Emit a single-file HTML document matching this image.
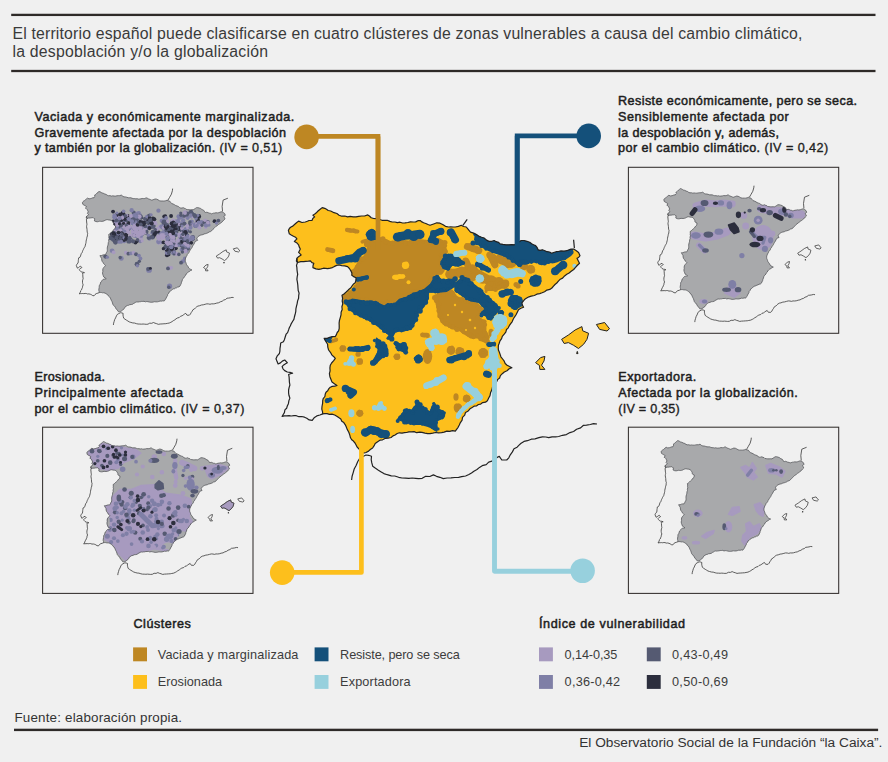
<!DOCTYPE html>
<html lang="es"><head><meta charset="utf-8"><title>Clústeres de zonas vulnerables</title>
<style>html,body{margin:0;padding:0;background:#f0f0f0;}svg{display:block}text{font-family:'Liberation Sans', Arial, sans-serif;fill:#333333}.b{font-weight:normal;font-size:12.6px;fill:#1e1e1e;stroke:#1e1e1e;stroke-width:0.5px;stroke-linejoin:round}.iv{stroke-width:0.36px}.t{font-size:15.8px;fill:#3a3a3a}.l{font-size:12.7px;fill:#3c3c3c}</style></head><body>
<svg width="888" height="762" viewBox="0 0 888 762">
<rect width="888" height="762" fill="#f0f0f0"/>
<defs>
<path id="spain" d="M288.4,230.4 L289.5,228.3 L291.0,227.0 L292.8,226.1 L294.5,224.5 L296.5,222.8 L298.6,221.1 L302.0,222.5 L305.3,222.0 L307.4,221.3 L309.0,220.5 L312.1,220.3 L312.8,218.5 L314.6,216.9 L312.9,215.2 L314.8,214.1 L316.3,212.8 L318.0,211.0 L320.2,209.2 L322.2,207.6 L324.7,208.3 L326.5,209.3 L328.2,210.5 L330.7,211.0 L334.1,212.7 L336.9,213.5 L339.1,215.2 L341.8,216.2 L344.8,216.0 L347.6,216.9 L350.2,216.4 L353.2,216.8 L356.0,216.9 L358.7,216.3 L361.6,216.0 L364.5,216.0 L367.8,214.9 L369.4,216.0 L371.2,217.7 L373.7,218.5 L376.3,218.6 L378.9,219.3 L382.0,220.3 L384.7,220.3 L387.2,220.3 L389.9,221.4 L392.2,222.0 L394.9,222.0 L397.5,222.6 L400.0,222.2 L402.6,223.0 L405.0,222.8 L407.8,222.5 L410.4,221.8 L413.4,222.0 L415.7,221.9 L417.9,220.7 L420.2,220.6 L421.9,221.9 L423.6,222.8 L425.8,223.5 L428.0,224.5 L430.0,225.3 L432.2,224.5 L434.3,223.7 L436.8,222.8 L440.0,223.2 L442.7,224.5 L445.5,226.3 L448.6,227.0 L450.7,226.9 L453.3,227.0 L455.3,227.0 L458.4,226.4 L461.3,225.3 L463.5,226.5 L466.3,227.0 L467.8,228.9 L469.0,230.4 L470.5,232.1 L473.6,233.1 L476.5,234.6 L478.6,236.1 L481.6,237.2 L484.1,238.0 L486.5,240.1 L489.1,241.4 L491.7,241.3 L494.2,240.5 L496.1,241.7 L498.6,242.4 L500.1,243.9 L502.9,244.4 L506.0,244.8 L508.8,244.8 L511.6,244.6 L514.5,244.8 L516.8,243.4 L519.0,242.0 L521.2,240.5 L524.0,240.5 L527.0,241.3 L529.7,242.2 L531.6,243.8 L533.6,244.8 L535.6,245.6 L537.2,247.7 L538.1,249.8 L540.1,250.3 L542.4,249.8 L544.9,250.7 L546.9,251.7 L549.6,252.0 L551.6,253.2 L553.6,252.5 L556.1,251.7 L558.4,251.5 L561.0,250.9 L564.0,251.2 L566.8,250.7 L569.0,249.9 L571.1,249.1 L573.6,249.0 L576.0,250.5 L578.6,252.4 L580.0,255.7 L578.6,257.5 L577.0,258.3 L578.2,260.7 L579.5,263.3 L577.2,265.5 L575.3,267.6 L573.7,269.5 L571.2,271.3 L569.1,273.0 L566.8,274.3 L564.6,275.9 L562.6,278.1 L560.3,279.2 L558.4,281.1 L556.8,283.0 L555.0,284.5 L553.3,286.3 L551.9,288.0 L549.8,289.4 L546.9,290.1 L544.6,291.8 L542.1,292.8 L539.7,293.6 L536.8,294.2 L534.4,295.5 L531.2,296.2 L529.0,296.8 L526.3,298.3 L524.5,299.6 L523.3,301.1 L521.9,302.9 L522.5,305.4 L523.6,307.2 L520.9,308.3 L518.5,309.7 L517.3,312.2 L515.9,315.0 L514.3,317.3 L513.2,319.3 L512.1,321.8 L510.7,323.7 L509.3,325.7 L508.1,328.1 L506.5,329.5 L505.8,332.2 L504.2,334.2 L502.3,336.3 L501.6,338.6 L500.0,340.9 L499.2,343.3 L498.4,345.2 L498.3,347.7 L498.4,350.0 L499.3,352.0 L500.2,354.6 L500.9,356.8 L502.6,359.0 L504.1,360.9 L505.2,363.5 L507.1,365.2 L509.6,366.6 L511.9,367.7 L509.2,368.8 L507.0,370.7 L504.3,372.0 L502.3,373.7 L500.4,375.6 L499.6,378.0 L497.6,379.6 L496.8,381.5 L495.3,383.8 L493.4,385.3 L492.5,387.2 L491.8,390.1 L490.6,392.6 L490.0,395.6 L488.7,398.0 L487.4,400.7 L485.5,402.2 L482.7,402.6 L480.7,404.1 L478.4,404.5 L476.4,406.0 L474.4,406.1 L472.2,407.4 L470.0,408.8 L467.8,411.3 L465.5,412.5 L464.7,415.1 L462.5,417.3 L462.1,420.1 L460.4,422.6 L459.3,425.0 L458.1,427.3 L456.6,429.3 L455.3,431.1 L452.6,430.6 L449.7,431.4 L446.9,431.1 L444.1,432.1 L441.6,432.7 L438.4,432.8 L435.7,432.5 L432.8,433.2 L430.0,433.6 L427.7,433.6 L424.9,433.1 L422.0,432.4 L419.8,432.1 L416.7,432.7 L414.1,431.6 L411.4,431.9 L408.9,431.9 L406.6,432.5 L404.4,432.6 L402.0,433.1 L399.5,432.8 L397.2,433.5 L395.1,435.0 L393.0,435.9 L391.1,437.5 L388.2,438.2 L385.0,438.5 L382.6,439.8 L380.3,440.1 L378.0,441.5 L375.2,443.5 L374.0,445.9 L372.6,448.0 L370.3,449.5 L368.6,451.1 L366.0,452.5 L364.3,453.0 L362.0,453.0 L360.7,451.2 L359.0,449.0 L357.2,447.2 L356.1,445.0 L355.0,443.0 L353.4,441.1 L351.7,439.8 L350.5,437.8 L349.8,435.1 L348.8,432.2 L347.2,429.4 L346.2,426.8 L345.3,424.8 L343.8,422.6 L341.8,421.2 L340.8,419.0 L338.7,417.6 L336.8,416.2 L334.7,415.0 L332.0,414.2 L329.4,414.3 L327.1,413.7 L324.9,413.6 L322.7,413.9 L322.5,411.6 L321.8,409.1 L322.0,406.5 L322.6,403.4 L322.7,400.7 L323.2,398.7 L324.9,396.5 L325.2,394.3 L326.0,392.2 L327.7,390.8 L328.7,388.9 L330.3,387.2 L332.2,386.4 L334.8,386.2 L337.0,385.5 L334.7,383.9 L332.0,382.1 L331.0,379.5 L329.9,376.7 L329.4,373.6 L330.1,370.9 L329.9,367.9 L330.3,365.2 L331.6,363.0 L333.7,360.7 L335.3,358.4 L333.8,356.7 L332.0,355.1 L330.4,352.3 L328.6,350.0 L327.8,347.2 L327.6,344.3 L326.5,342.5 L325.2,340.4 L324.2,338.4 L327.2,338.4 L329.7,337.3 L332.1,336.7 L335.2,336.7 L336.4,334.6 L337.2,332.5 L338.6,330.8 L339.2,328.4 L339.2,325.6 L339.1,323.1 L339.4,320.7 L340.2,317.9 L341.0,314.9 L341.1,312.2 L342.2,309.5 L341.9,306.7 L342.8,303.8 L342.2,301.0 L342.6,298.4 L342.0,295.3 L344.3,293.7 L346.2,292.0 L348.4,289.8 L350.9,287.8 L352.1,285.8 L353.6,283.9 L355.2,282.8 L355.9,280.2 L356.0,277.7 L353.6,276.6 L351.8,275.2 L351.9,273.1 L350.9,270.9 L349.4,268.5 L347.6,266.7 L344.7,265.9 L341.7,265.6 L339.1,265.0 L336.7,265.4 L334.5,266.4 L332.4,267.6 L330.3,268.2 L327.7,268.6 L325.6,268.4 L323.5,268.2 L321.2,268.9 L318.9,269.3 L315.9,268.9 L312.9,267.6 L313.1,265.3 L313.8,263.3 L311.9,262.6 L310.4,260.8 L308.4,261.1 L305.8,261.3 L303.6,261.7 L300.8,261.7 L297.7,262.5 L297.1,260.4 L296.9,258.3 L298.9,256.4 L301.1,254.9 L298.6,252.4 L300.3,249.0 L299.2,246.9 L298.6,244.8 L296.6,242.7 L294.4,241.4 L296.9,238.9 L295.5,237.2 L293.5,236.3 L291.2,235.0 L289.3,233.8Z"/>
<g id="isl"><path d="M561.6,339.3 L568.4,335.0 L575.1,330.0 L581.9,326.6 L582.7,330.8 L588.6,333.3 L587.0,339.3 L583.6,344.3 L578.5,348.5 L573.4,345.2 L568.4,342.6 L564.2,343.5Z"/><path d="M596.4,324.5 L604.6,322.5 L609.5,328.7 L607.0,331.0 L599.6,329.4Z"/><path d="M535.6,362.7 L540.6,357.6 L544.9,356.4 L544.0,361.0 L541.5,365.2 L544.9,369.4 L539.8,369.4 L539.5,365.5Z"/><path d="M576.6,353.6 L577.3,351.4 L578.0,353.6Z"/></g>
<g id="others" fill="none"><path d="M296.9,258.3 L296.4,260.9 L297.4,262.7 L296.5,265.4 L296.9,267.6 L297.0,269.8 L297.3,272.1 L297.7,274.3 L297.2,276.7 L296.9,279.4 L297.4,282.1 L297.8,285.0 L298.0,288.0 L298.2,290.5 L299.1,293.1 L298.7,295.6 L298.6,298.2 L297.6,300.9 L297.1,303.8 L296.5,306.2 L295.9,308.9 L295.8,311.3 L295.2,314.0 L294.4,317.0 L293.9,319.4 L292.7,321.3 L291.3,323.6 L290.4,325.8 L289.3,327.8 L288.6,329.9 L287.6,332.6 L286.1,334.2 L285.2,337.0 L284.5,339.4 L283.4,341.7 L280.7,343.0 L280.4,345.9 L280.0,348.4 L279.9,351.1 L279.4,353.5 L277.3,355.8 L276.0,358.7 L277.1,361.6 L278.1,364.0 L280.4,362.9 L282.3,361.1 L284.7,360.0 L287.3,362.7 L285.6,363.7 L283.7,364.9 L282.1,366.6 L283.0,368.8 L284.7,370.6 L287.3,372.0 L290.0,372.3 L292.6,373.2 L290.5,373.7 L288.6,374.5 L289.1,376.9 L289.3,380.0 L289.4,382.2 L289.9,385.0 L289.1,387.7 L288.6,390.0 L288.6,392.9 L288.9,395.3 L289.9,398.1 L288.9,400.6 L288.4,403.7 L287.3,406.0 L286.6,408.3 L284.9,409.9 L284.4,412.6 L283.2,414.5 L282.1,416.5 L284.3,415.9 L286.7,415.9 L289.1,415.7 L291.2,416.0 L294.0,415.6 L296.3,415.7 L298.9,416.7 L301.7,416.5 L304.5,417.2 L306.8,418.2 L309.2,419.9 L312.2,420.4 L314.1,417.8 L316.8,415.9 L319.9,415.0 L322.7,413.9"/><path d="M351.6,480.0 L352.1,476.2 L353.2,472.6 L354.2,469.0 L356.1,465.5 L357.9,461.2 L359.6,458.5 L362.0,457.0 L366.0,455.0 L368.6,455.3 L371.5,456.3 L371.2,459.7 L371.8,462.9 L372.7,466.2 L375.2,468.1 L378.4,470.2 L381.2,471.9 L383.9,473.6 L387.2,474.7 L391.3,475.8 L394.7,476.0 L398.7,477.3 L402.0,478.0 L405.6,478.1 L408.9,478.3 L412.2,478.0 L415.6,478.3 L418.6,478.6 L422.2,478.3 L425.7,476.3 L429.8,476.5 L433.4,474.9 L436.5,476.3 L439.9,477.3 L443.3,478.6 L447.1,478.0 L451.0,477.8 L454.8,477.5 L458.6,477.3 L461.7,476.7 L465.6,476.0 L468.9,474.5 L471.5,473.0 L473.9,471.2 L477.0,469.5 L479.5,467.4 L482.2,465.7 L486.2,464.6 L488.7,462.1 L491.9,461.2 L494.1,459.6 L496.8,457.6 L499.3,456.3 L501.8,460.0 L506.7,460.0 L508.8,457.8 L510.3,454.8 L512.4,451.9 L514.0,448.8 L517.1,447.2 L519.3,444.9 L521.1,443.2 L524.0,441.4 L527.4,440.7 L531.3,439.2 L535.0,438.8 L538.9,437.7 L542.4,436.8 L545.8,437.0 L548.7,437.7 L552.1,436.8 L555.5,436.9 L558.7,436.5 L562.5,435.3 L566.4,434.6 L570.0,432.6 L573.6,431.5 L576.6,429.2 L580.6,427.9 L583.5,425.3 L586.5,425.1 L590.3,424.5 L593.6,423.6 L597.0,424.0"/><path d="M467.2,219.4 L462.9,225.3"/><path d="M573.6,239.7 L574.4,248.1"/></g>
<g id="others_s" fill="none"><path d="M296.9,258.3 L296.4,260.9 L297.4,262.7 L296.5,265.4 L296.9,267.6 L297.0,269.8 L297.3,272.1 L297.7,274.3 L297.2,276.7 L296.9,279.4 L297.4,282.1 L297.8,285.0 L298.0,288.0 L298.2,290.5 L299.1,293.1 L298.7,295.6 L298.6,298.2 L297.6,300.9 L297.1,303.8 L296.5,306.2 L295.9,308.9 L295.8,311.3 L295.2,314.0 L294.4,317.0 L293.9,319.4 L292.7,321.3 L291.3,323.6 L290.4,325.8 L289.3,327.8 L288.6,329.9 L287.6,332.6 L286.1,334.2 L285.2,337.0 L284.5,339.4 L283.4,341.7 L280.7,343.0 L280.4,345.9 L280.0,348.4 L279.9,351.1 L279.4,353.5 L277.3,355.8 L276.0,358.7 L277.1,361.6 L278.1,364.0 L280.4,362.9 L282.3,361.1 L284.7,360.0 L287.3,362.7 L285.6,363.7 L283.7,364.9 L282.1,366.6 L283.0,368.8 L284.7,370.6 L287.3,372.0 L290.0,372.3 L292.6,373.2 L290.5,373.7 L288.6,374.5 L289.1,376.9 L289.3,380.0 L289.4,382.2 L289.9,385.0 L289.1,387.7 L288.6,390.0 L288.6,392.9 L288.9,395.3 L289.9,398.1 L288.9,400.6 L288.4,403.7 L287.3,406.0 L286.6,408.3 L284.9,409.9 L284.4,412.6 L283.2,414.5 L282.1,416.5 L284.3,415.9 L286.7,415.9 L289.1,415.7 L291.2,416.0 L294.0,415.6 L296.3,415.7 L298.9,416.7 L301.7,416.5 L304.5,417.2 L306.8,418.2 L309.2,419.9 L312.2,420.4 L314.1,417.8 L316.8,415.9 L319.9,415.0 L322.7,413.9"/><path d="M351.6,480.0 L352.1,476.2 L353.2,472.6 L354.2,469.0 L356.1,465.5 L357.9,461.2 L359.6,458.5 L362.0,457.0 L366.0,455.0 L368.6,455.3 L371.5,456.3 L371.2,459.7 L371.8,462.9 L372.7,466.2 L375.2,468.1 L378.4,470.2 L381.2,471.9 L383.9,473.6 L387.2,474.7 L391.3,475.8 L394.7,476.0 L398.7,477.3 L402.0,478.0 L405.6,478.1 L408.9,478.3 L412.2,478.0 L415.6,478.3 L418.6,478.6 L422.2,478.3 L425.7,476.3 L429.8,476.5 L433.4,474.9 L436.5,476.3 L439.9,477.3 L443.3,478.6 L447.1,478.0 L451.0,477.8 L454.8,477.5 L458.6,477.3 L461.7,476.7 L465.6,476.0 L468.9,474.5 L471.5,473.0 L473.9,471.2 L477.0,469.5 L479.5,467.4 L482.2,465.7 L486.2,464.6 L488.7,462.1 L491.9,461.2 L494.1,459.6 L496.8,457.6 L499.3,456.3 L501.8,460.0 L506.7,460.0 L508.8,457.8 L510.3,454.8 L512.4,451.9 L514.0,448.8 L517.1,447.2 L519.3,444.9 L521.1,443.2 L524.0,441.4 L527.4,440.7 L531.3,439.2 L535.0,438.8 L538.9,437.7 L542.4,436.8 L545.8,437.0 L548.7,437.7 L552.1,436.8 L555.5,436.9 L558.7,436.5 L562.5,435.3 L566.4,434.6 L570.0,432.6 L573.6,431.5 L576.6,429.2 L580.6,427.9 L583.5,425.3 L586.5,425.1 L590.3,424.5 L593.6,423.6 L597.0,424.0"/><path d="M462.9,225.3 L466.0,220.0 L470.0,213.0 L472.0,206.0 L472.5,201.6"/><path d="M574.4,248.1 L573.5,238.0 L575.5,225.1 L585.3,221.2"/></g>
<clipPath id="cm"><use href="#spain"/></clipPath>
<clipPath id="c1"><use href="#spain" transform="translate(-58.9 89.8) scale(0.49)"/></clipPath>
<clipPath id="c2"><use href="#spain" transform="translate(522.5 86.9) scale(0.49)"/></clipPath>
<clipPath id="c3"><use href="#spain" transform="translate(-54.5 339.9) scale(0.49)"/></clipPath>
<clipPath id="c4"><use href="#spain" transform="translate(519.8 338.9) scale(0.49)"/></clipPath>
</defs>
<rect x="11.2" y="13.75" width="864.3" height="2.3" fill="#2e2a28"/>
<rect x="11.2" y="69.85" width="864.3" height="2.3" fill="#2e2a28"/>
<rect x="14" y="728.7" width="864.1" height="2.4" fill="#2e2a28"/>
<text class="t" x="12.4" y="38.5" textLength="790" lengthAdjust="spacing">El territorio español puede clasificarse en cuatro clústeres de zonas vulnerables a causa del cambio climático,</text>
<text class="t" x="12.4" y="56.9" textLength="255.6" lengthAdjust="spacing">la despoblación y/o la globalización</text>
<text class="b" x="34.4" y="121.2" textLength="259.9" lengthAdjust="spacing">Vaciada y económicamente marginalizada.</text>
<text class="b" x="34.4" y="136.8" textLength="251.7" lengthAdjust="spacing">Gravemente afectada por la despoblación</text>
<text class="b" x="34.4" y="152.4" textLength="247.9" lengthAdjust="spacing">y también por la globalización.<tspan class="iv"> (IV = 0,51)</tspan></text>
<text class="b" x="618" y="105.4" textLength="239.1" lengthAdjust="spacing">Resiste económicamente, pero se seca.</text>
<text class="b" x="618" y="121.0" textLength="170.8" lengthAdjust="spacing">Sensiblemente afectada por</text>
<text class="b" x="618" y="136.6" textLength="160.9" lengthAdjust="spacing">la despoblación y, además,</text>
<text class="b" x="618" y="152.2" textLength="210.2" lengthAdjust="spacing">por el cambio climático.<tspan class="iv"> (IV = 0,42)</tspan></text>
<text class="b" x="34.4" y="381.4" textLength="70.6" lengthAdjust="spacing">Erosionada.</text>
<text class="b" x="34.4" y="397.0" textLength="148.6" lengthAdjust="spacing">Principalmente afectada</text>
<text class="b" x="34.4" y="412.6" textLength="210.0" lengthAdjust="spacing">por el cambio climático.<tspan class="iv"> (IV = 0,37)</tspan></text>
<text class="b" x="618.3" y="381.4" textLength="77.9" lengthAdjust="spacing">Exportadora.</text>
<text class="b" x="618.3" y="397.0" textLength="179.4" lengthAdjust="spacing">Afectada por la globalización.</text>
<text class="b" x="618.3" y="412.6" textLength="61.5" lengthAdjust="spacing"><tspan class="iv">(IV = 0,35)</tspan></text>
<g fill="none" stroke-linejoin="miter">
<path d="M306,136.4 H378 V255" stroke="#be8723" stroke-width="4.7"/>
<path d="M589,135.8 H517.2 V262" stroke="#14507a" stroke-width="4.8"/>
</g>
<circle cx="306.6" cy="136.9" r="12.3" fill="#be8723"/>
<circle cx="588.7" cy="135.9" r="12.3" fill="#14507a"/>
<g id="main">
<use href="#spain" fill="#fdbf1c"/>
<use href="#isl" fill="#fdbf1c" stroke="#222" stroke-width="1"/>
<g clip-path="url(#cm)">
<path d="M362.8,240.5 L370.0,238.5 L381.4,238.0 L391.5,242.2 L400.0,240.0 L408.4,241.4 L417.0,239.5 L425.3,240.5 L433.0,242.0 L440.0,239.5 L445.0,243.0 L446.0,252.0 L442.0,258.0 L441.0,263.0 L445.0,268.0 L441.0,274.0 L436.6,274.2 L434.9,276.8 L430.6,284.4 L424.7,289.4 L414.6,293.6 L407.8,297.0 L399.4,299.6 L394.3,304.6 L387.6,303.8 L384.2,306.3 L375.7,302.1 L363.9,301.3 L353.8,299.6 L345.3,301.3 L341.0,303.0 L340.0,296.0 L347.0,294.0 L352.0,290.0 L357.0,284.0 L358.0,278.0 L352.0,275.5 L352.0,272.0 L355.0,268.0 L358.0,263.0 L364.5,255.7 L367.8,247.3Z" fill="#be8723" stroke="#be8723" stroke-width="1.6" stroke-linejoin="round"/><circle cx="362.4" cy="241.8" r="1.9" fill="#be8723"/><circle cx="365.8" cy="241.3" r="1.5" fill="#be8723"/><circle cx="366.7" cy="241.2" r="1.8" fill="#be8723"/><circle cx="369.4" cy="241.0" r="2.1" fill="#be8723"/><circle cx="373.8" cy="239.5" r="2.3" fill="#be8723"/><circle cx="374.8" cy="239.8" r="2.6" fill="#be8723"/><circle cx="378.7" cy="240.0" r="2.3" fill="#be8723"/><circle cx="379.8" cy="239.8" r="2.2" fill="#be8723"/><circle cx="382.9" cy="238.9" r="2.6" fill="#be8723"/><circle cx="385.9" cy="241.8" r="2.6" fill="#be8723"/><circle cx="389.1" cy="243.4" r="2.0" fill="#be8723"/><circle cx="392.6" cy="243.2" r="2.7" fill="#be8723"/><circle cx="395.6" cy="241.6" r="1.6" fill="#be8723"/><circle cx="396.7" cy="243.1" r="2.0" fill="#be8723"/><circle cx="400.1" cy="240.7" r="2.1" fill="#be8723"/><circle cx="402.3" cy="241.3" r="2.2" fill="#be8723"/><circle cx="405.6" cy="243.2" r="2.4" fill="#be8723"/><circle cx="409.8" cy="243.5" r="2.8" fill="#be8723"/><circle cx="412.0" cy="241.1" r="2.6" fill="#be8723"/><circle cx="415.6" cy="242.4" r="2.2" fill="#be8723"/><circle cx="417.4" cy="239.9" r="2.6" fill="#be8723"/><circle cx="419.8" cy="240.5" r="1.5" fill="#be8723"/><circle cx="423.3" cy="242.6" r="1.5" fill="#be8723"/><circle cx="425.9" cy="241.4" r="1.6" fill="#be8723"/><circle cx="427.1" cy="242.9" r="2.6" fill="#be8723"/><circle cx="429.0" cy="243.0" r="1.5" fill="#be8723"/><circle cx="434.0" cy="242.7" r="2.6" fill="#be8723"/><circle cx="437.0" cy="242.3" r="2.8" fill="#be8723"/><circle cx="437.6" cy="240.4" r="2.2" fill="#be8723"/><circle cx="438.1" cy="239.7" r="2.0" fill="#be8723"/><circle cx="442.1" cy="241.3" r="1.5" fill="#be8723"/><circle cx="444.8" cy="242.6" r="2.7" fill="#be8723"/><circle cx="445.2" cy="245.8" r="2.0" fill="#be8723"/><circle cx="444.5" cy="249.5" r="2.2" fill="#be8723"/><circle cx="445.2" cy="251.6" r="2.7" fill="#be8723"/><circle cx="443.7" cy="253.2" r="2.4" fill="#be8723"/><circle cx="441.7" cy="254.8" r="2.8" fill="#be8723"/><circle cx="440.9" cy="257.9" r="1.4" fill="#be8723"/><circle cx="440.1" cy="260.5" r="1.4" fill="#be8723"/><circle cx="440.4" cy="264.1" r="1.5" fill="#be8723"/><circle cx="442.4" cy="266.2" r="2.4" fill="#be8723"/><circle cx="443.6" cy="267.9" r="2.4" fill="#be8723"/><circle cx="441.4" cy="268.2" r="2.3" fill="#be8723"/><circle cx="442.5" cy="270.7" r="2.0" fill="#be8723"/><circle cx="441.2" cy="272.3" r="1.9" fill="#be8723"/><circle cx="435.1" cy="273.2" r="2.2" fill="#be8723"/><circle cx="433.3" cy="275.9" r="2.5" fill="#be8723"/><circle cx="431.2" cy="278.9" r="2.4" fill="#be8723"/><circle cx="430.5" cy="280.6" r="2.5" fill="#be8723"/><circle cx="429.1" cy="282.7" r="2.0" fill="#be8723"/><circle cx="428.4" cy="284.1" r="1.9" fill="#be8723"/><circle cx="425.5" cy="287.7" r="2.0" fill="#be8723"/><circle cx="425.2" cy="287.4" r="1.9" fill="#be8723"/><circle cx="422.1" cy="290.3" r="2.0" fill="#be8723"/><circle cx="418.5" cy="289.4" r="2.1" fill="#be8723"/><circle cx="415.9" cy="292.2" r="2.6" fill="#be8723"/><circle cx="413.2" cy="292.0" r="2.5" fill="#be8723"/><circle cx="412.2" cy="294.5" r="1.9" fill="#be8723"/><circle cx="408.6" cy="294.3" r="2.5" fill="#be8723"/><circle cx="406.9" cy="295.5" r="2.0" fill="#be8723"/><circle cx="404.4" cy="296.5" r="2.7" fill="#be8723"/><circle cx="401.0" cy="296.3" r="2.7" fill="#be8723"/><circle cx="399.5" cy="300.0" r="2.0" fill="#be8723"/><circle cx="397.2" cy="302.4" r="1.7" fill="#be8723"/><circle cx="395.1" cy="304.3" r="2.3" fill="#be8723"/><circle cx="391.1" cy="302.5" r="1.9" fill="#be8723"/><circle cx="386.2" cy="301.7" r="2.2" fill="#be8723"/><circle cx="384.2" cy="306.0" r="1.5" fill="#be8723"/><circle cx="382.9" cy="304.3" r="2.7" fill="#be8723"/><circle cx="380.1" cy="303.5" r="2.2" fill="#be8723"/><circle cx="374.5" cy="301.5" r="1.6" fill="#be8723"/><circle cx="372.3" cy="301.1" r="2.1" fill="#be8723"/><circle cx="369.7" cy="301.6" r="2.3" fill="#be8723"/><circle cx="366.5" cy="299.7" r="2.6" fill="#be8723"/><circle cx="364.0" cy="300.9" r="1.9" fill="#be8723"/><circle cx="360.8" cy="299.8" r="2.5" fill="#be8723"/><circle cx="358.2" cy="300.0" r="2.7" fill="#be8723"/><circle cx="357.3" cy="299.7" r="1.4" fill="#be8723"/><circle cx="353.9" cy="299.4" r="1.5" fill="#be8723"/><circle cx="350.1" cy="298.4" r="2.1" fill="#be8723"/><circle cx="347.7" cy="299.5" r="2.5" fill="#be8723"/><circle cx="343.6" cy="299.0" r="1.6" fill="#be8723"/><circle cx="341.2" cy="301.7" r="2.8" fill="#be8723"/><circle cx="342.6" cy="298.3" r="2.1" fill="#be8723"/><circle cx="339.9" cy="296.7" r="1.9" fill="#be8723"/><circle cx="343.0" cy="296.7" r="1.9" fill="#be8723"/><circle cx="344.2" cy="295.4" r="1.6" fill="#be8723"/><circle cx="347.9" cy="295.5" r="1.9" fill="#be8723"/><circle cx="349.2" cy="292.1" r="1.9" fill="#be8723"/><circle cx="353.2" cy="291.5" r="1.9" fill="#be8723"/><circle cx="355.4" cy="289.1" r="2.0" fill="#be8723"/><circle cx="355.9" cy="286.8" r="2.4" fill="#be8723"/><circle cx="358.0" cy="284.7" r="2.0" fill="#be8723"/><circle cx="358.0" cy="281.3" r="2.4" fill="#be8723"/><circle cx="357.3" cy="276.7" r="2.0" fill="#be8723"/><circle cx="356.4" cy="276.8" r="1.9" fill="#be8723"/><circle cx="354.2" cy="276.3" r="1.8" fill="#be8723"/><circle cx="352.9" cy="271.7" r="2.5" fill="#be8723"/><circle cx="354.9" cy="271.7" r="2.5" fill="#be8723"/><circle cx="356.5" cy="269.2" r="2.2" fill="#be8723"/><circle cx="356.5" cy="266.3" r="1.4" fill="#be8723"/><circle cx="358.0" cy="264.5" r="1.5" fill="#be8723"/><circle cx="359.5" cy="260.9" r="2.6" fill="#be8723"/><circle cx="361.3" cy="258.9" r="2.6" fill="#be8723"/><circle cx="362.8" cy="259.2" r="2.3" fill="#be8723"/><circle cx="366.5" cy="257.3" r="2.2" fill="#be8723"/><circle cx="367.5" cy="252.1" r="2.5" fill="#be8723"/><circle cx="367.8" cy="251.1" r="1.5" fill="#be8723"/><circle cx="369.4" cy="247.7" r="1.5" fill="#be8723"/><circle cx="366.6" cy="244.5" r="2.6" fill="#be8723"/><circle cx="364.8" cy="241.2" r="1.7" fill="#be8723"/>
<path d="M433.2,296.2 L441.6,293.6 L451.8,290.3 L456.9,297.0 L467.0,300.4 L477.2,303.8 L483.9,310.5 L478.9,317.3 L485.6,322.4 L485.6,330.8 L489.0,337.6 L485.6,342.6 L477.2,337.6 L470.4,337.6 L460.3,330.8 L450.1,327.4 L441.6,322.4 L438.2,313.9 L436.6,303.8Z" fill="#be8723" stroke="#be8723" stroke-width="1.6" stroke-linejoin="round"/><circle cx="433.9" cy="298.0" r="2.0" fill="#be8723"/><circle cx="436.0" cy="296.2" r="1.9" fill="#be8723"/><circle cx="438.9" cy="294.5" r="2.1" fill="#be8723"/><circle cx="443.2" cy="294.5" r="2.4" fill="#be8723"/><circle cx="443.6" cy="294.4" r="2.5" fill="#be8723"/><circle cx="447.5" cy="293.1" r="2.1" fill="#be8723"/><circle cx="450.0" cy="293.3" r="1.6" fill="#be8723"/><circle cx="449.8" cy="291.7" r="2.7" fill="#be8723"/><circle cx="452.6" cy="293.1" r="2.4" fill="#be8723"/><circle cx="453.4" cy="294.9" r="1.7" fill="#be8723"/><circle cx="456.7" cy="297.7" r="1.7" fill="#be8723"/><circle cx="459.5" cy="300.2" r="1.8" fill="#be8723"/><circle cx="462.1" cy="299.6" r="2.6" fill="#be8723"/><circle cx="464.3" cy="300.1" r="1.7" fill="#be8723"/><circle cx="465.4" cy="301.5" r="1.9" fill="#be8723"/><circle cx="468.3" cy="302.0" r="1.9" fill="#be8723"/><circle cx="472.4" cy="302.3" r="2.8" fill="#be8723"/><circle cx="474.2" cy="304.3" r="2.1" fill="#be8723"/><circle cx="477.2" cy="305.5" r="2.2" fill="#be8723"/><circle cx="478.5" cy="307.5" r="2.6" fill="#be8723"/><circle cx="480.6" cy="309.7" r="2.7" fill="#be8723"/><circle cx="482.8" cy="309.1" r="1.7" fill="#be8723"/><circle cx="481.8" cy="312.5" r="2.7" fill="#be8723"/><circle cx="480.5" cy="313.7" r="1.7" fill="#be8723"/><circle cx="477.5" cy="317.4" r="2.4" fill="#be8723"/><circle cx="481.3" cy="321.0" r="1.8" fill="#be8723"/><circle cx="483.6" cy="321.2" r="2.0" fill="#be8723"/><circle cx="485.0" cy="321.3" r="1.5" fill="#be8723"/><circle cx="485.3" cy="324.7" r="1.9" fill="#be8723"/><circle cx="484.6" cy="328.5" r="1.4" fill="#be8723"/><circle cx="484.1" cy="331.2" r="2.1" fill="#be8723"/><circle cx="484.9" cy="333.8" r="2.7" fill="#be8723"/><circle cx="486.5" cy="336.0" r="1.6" fill="#be8723"/><circle cx="487.4" cy="337.4" r="1.6" fill="#be8723"/><circle cx="487.3" cy="340.5" r="1.5" fill="#be8723"/><circle cx="487.4" cy="341.2" r="2.5" fill="#be8723"/><circle cx="484.8" cy="339.8" r="2.3" fill="#be8723"/><circle cx="482.4" cy="339.9" r="1.8" fill="#be8723"/><circle cx="480.6" cy="339.0" r="2.3" fill="#be8723"/><circle cx="477.3" cy="335.4" r="2.1" fill="#be8723"/><circle cx="473.4" cy="337.0" r="2.3" fill="#be8723"/><circle cx="471.2" cy="335.8" r="2.3" fill="#be8723"/><circle cx="469.4" cy="334.4" r="2.6" fill="#be8723"/><circle cx="467.4" cy="332.9" r="2.7" fill="#be8723"/><circle cx="464.1" cy="332.1" r="2.4" fill="#be8723"/><circle cx="463.2" cy="331.3" r="2.3" fill="#be8723"/><circle cx="460.6" cy="329.2" r="1.6" fill="#be8723"/><circle cx="457.0" cy="329.4" r="2.5" fill="#be8723"/><circle cx="455.7" cy="328.6" r="1.9" fill="#be8723"/><circle cx="452.4" cy="326.8" r="2.6" fill="#be8723"/><circle cx="449.5" cy="326.4" r="1.7" fill="#be8723"/><circle cx="449.3" cy="324.7" r="1.9" fill="#be8723"/><circle cx="446.2" cy="324.0" r="2.5" fill="#be8723"/><circle cx="444.0" cy="323.5" r="1.6" fill="#be8723"/><circle cx="442.1" cy="320.9" r="1.6" fill="#be8723"/><circle cx="442.3" cy="319.7" r="1.7" fill="#be8723"/><circle cx="439.6" cy="316.1" r="2.4" fill="#be8723"/><circle cx="440.2" cy="314.4" r="2.2" fill="#be8723"/><circle cx="438.1" cy="310.9" r="1.7" fill="#be8723"/><circle cx="438.7" cy="308.8" r="1.7" fill="#be8723"/><circle cx="437.5" cy="306.9" r="1.4" fill="#be8723"/><circle cx="438.5" cy="304.3" r="2.7" fill="#be8723"/><circle cx="436.3" cy="300.9" r="2.2" fill="#be8723"/><circle cx="435.8" cy="299.5" r="2.4" fill="#be8723"/>
<path d="M467.2,246.5 L479.0,250.7" fill="none" stroke="#be8723" stroke-width="6.7" stroke-linecap="round" stroke-linejoin="round"/><circle cx="468.0" cy="246.5" r="3.0" fill="#be8723"/><circle cx="470.6" cy="246.5" r="3.4" fill="#be8723"/><circle cx="473.4" cy="248.6" r="3.7" fill="#be8723"/><circle cx="476.0" cy="249.0" r="3.3" fill="#be8723"/><circle cx="478.0" cy="250.7" r="3.3" fill="#be8723"/>
<path d="M490.0,254.9 L495.0,265.0" fill="none" stroke="#be8723" stroke-width="6.7" stroke-linecap="round" stroke-linejoin="round"/><circle cx="489.9" cy="255.0" r="3.5" fill="#be8723"/><circle cx="492.5" cy="257.5" r="4.0" fill="#be8723"/><circle cx="493.6" cy="260.7" r="3.7" fill="#be8723"/><circle cx="494.4" cy="264.1" r="3.1" fill="#be8723"/>
<path d="M499.3,259.1 L511.0,263.3" fill="none" stroke="#be8723" stroke-width="9.0" stroke-linecap="round" stroke-linejoin="round"/><circle cx="500.5" cy="258.6" r="4.4" fill="#be8723"/><circle cx="503.8" cy="259.5" r="5.1" fill="#be8723"/><circle cx="507.4" cy="263.1" r="5.1" fill="#be8723"/><circle cx="511.7" cy="262.9" r="4.8" fill="#be8723"/>
<circle cx="523.8" cy="265.9" r="4.2" fill="#be8723"/><circle cx="526.6" cy="266.2" r="2.0" fill="#be8723"/><circle cx="525.7" cy="268.0" r="1.6" fill="#be8723"/><circle cx="524.0" cy="268.7" r="1.6" fill="#be8723"/><circle cx="522.8" cy="268.6" r="1.3" fill="#be8723"/><circle cx="521.3" cy="267.3" r="1.4" fill="#be8723"/><circle cx="521.0" cy="265.3" r="1.6" fill="#be8723"/><circle cx="522.6" cy="263.3" r="1.7" fill="#be8723"/><circle cx="524.2" cy="263.1" r="1.8" fill="#be8723"/><circle cx="525.8" cy="263.9" r="1.6" fill="#be8723"/>
<circle cx="530.8" cy="269.3" r="4.2" fill="#be8723"/><circle cx="533.6" cy="269.6" r="1.6" fill="#be8723"/><circle cx="533.2" cy="270.8" r="1.9" fill="#be8723"/><circle cx="531.0" cy="272.1" r="1.5" fill="#be8723"/><circle cx="529.5" cy="271.8" r="1.7" fill="#be8723"/><circle cx="528.1" cy="270.2" r="1.4" fill="#be8723"/><circle cx="528.0" cy="268.9" r="1.4" fill="#be8723"/><circle cx="529.7" cy="266.7" r="1.4" fill="#be8723"/><circle cx="531.3" cy="266.5" r="1.4" fill="#be8723"/><circle cx="532.8" cy="267.2" r="1.4" fill="#be8723"/>
<path d="M466.3,261.7 L468.9,267.6 L463.8,272.6" fill="none" stroke="#be8723" stroke-width="6.7" stroke-linecap="round" stroke-linejoin="round"/><circle cx="465.6" cy="260.7" r="3.1" fill="#be8723"/><circle cx="466.9" cy="264.6" r="2.7" fill="#be8723"/><circle cx="467.9" cy="267.5" r="2.6" fill="#be8723"/><circle cx="466.8" cy="269.1" r="3.1" fill="#be8723"/><circle cx="463.6" cy="271.6" r="3.1" fill="#be8723"/>
<circle cx="452" cy="274.3" r="5.2" fill="#be8723"/><circle cx="455.5" cy="275.0" r="1.8" fill="#be8723"/><circle cx="455.3" cy="275.7" r="2.0" fill="#be8723"/><circle cx="453.9" cy="277.3" r="2.2" fill="#be8723"/><circle cx="451.7" cy="277.9" r="1.7" fill="#be8723"/><circle cx="450.2" cy="277.4" r="2.3" fill="#be8723"/><circle cx="448.7" cy="275.6" r="2.3" fill="#be8723"/><circle cx="448.6" cy="273.3" r="2.5" fill="#be8723"/><circle cx="449.5" cy="271.8" r="1.8" fill="#be8723"/><circle cx="451.2" cy="270.8" r="2.3" fill="#be8723"/><circle cx="453.6" cy="271.1" r="1.9" fill="#be8723"/><circle cx="454.7" cy="271.9" r="2.2" fill="#be8723"/>
<path d="M472.2,270.9 L487.4,279.4 L497.6,282.8 L504.3,284.5" fill="none" stroke="#be8723" stroke-width="9.0" stroke-linecap="round" stroke-linejoin="round"/><circle cx="472.5" cy="269.5" r="5.3" fill="#be8723"/><circle cx="474.8" cy="272.1" r="3.4" fill="#be8723"/><circle cx="478.5" cy="275.6" r="3.4" fill="#be8723"/><circle cx="482.7" cy="278.6" r="5.2" fill="#be8723"/><circle cx="488.3" cy="280.6" r="4.3" fill="#be8723"/><circle cx="491.2" cy="280.5" r="5.3" fill="#be8723"/><circle cx="498.9" cy="281.6" r="4.6" fill="#be8723"/><circle cx="505.3" cy="283.4" r="4.0" fill="#be8723"/>
<circle cx="516.1" cy="284.5" r="2.6" fill="#be8723"/>
<path d="M450.0,274.0 L462.0,272.0 L472.0,277.0" fill="none" stroke="#be8723" stroke-width="9.0" stroke-linecap="round" stroke-linejoin="round"/><circle cx="449.5" cy="274.5" r="4.1" fill="#be8723"/><circle cx="453.1" cy="274.0" r="5.2" fill="#be8723"/><circle cx="459.0" cy="272.8" r="4.8" fill="#be8723"/><circle cx="461.6" cy="271.8" r="5.2" fill="#be8723"/><circle cx="467.8" cy="274.4" r="3.8" fill="#be8723"/><circle cx="471.1" cy="277.6" r="3.9" fill="#be8723"/>
<path d="M487.3,283.5 L497.4,281.8 L507.6,285.2 L495.7,290.3 L485.6,290.3Z" fill="#be8723" stroke="#be8723" stroke-width="1.6" stroke-linejoin="round"/><circle cx="487.8" cy="285.2" r="1.9" fill="#be8723"/><circle cx="490.0" cy="283.4" r="2.4" fill="#be8723"/><circle cx="491.3" cy="283.7" r="2.5" fill="#be8723"/><circle cx="495.5" cy="282.4" r="1.7" fill="#be8723"/><circle cx="497.9" cy="283.3" r="2.6" fill="#be8723"/><circle cx="500.5" cy="283.7" r="2.7" fill="#be8723"/><circle cx="502.7" cy="284.2" r="1.9" fill="#be8723"/><circle cx="503.6" cy="285.2" r="2.7" fill="#be8723"/><circle cx="506.1" cy="284.3" r="1.6" fill="#be8723"/><circle cx="503.7" cy="285.5" r="1.7" fill="#be8723"/><circle cx="501.2" cy="285.2" r="2.3" fill="#be8723"/><circle cx="500.2" cy="285.9" r="1.7" fill="#be8723"/><circle cx="498.8" cy="287.4" r="2.2" fill="#be8723"/><circle cx="495.5" cy="289.8" r="2.2" fill="#be8723"/><circle cx="493.9" cy="289.2" r="1.7" fill="#be8723"/><circle cx="489.8" cy="288.0" r="2.6" fill="#be8723"/><circle cx="487.1" cy="287.9" r="2.8" fill="#be8723"/><circle cx="486.0" cy="291.6" r="1.5" fill="#be8723"/><circle cx="487.5" cy="286.5" r="2.6" fill="#be8723"/>
<circle cx="518" cy="286" r="2.6" fill="#be8723"/>
<path d="M347.0,229.8 L357.5,231.5" fill="none" stroke="#be8723" stroke-width="4.0" stroke-linecap="round" stroke-linejoin="round"/><circle cx="347.2" cy="230.1" r="2.1" fill="#be8723"/><circle cx="348.9" cy="230.3" r="2.3" fill="#be8723"/><circle cx="350.7" cy="230.9" r="1.9" fill="#be8723"/><circle cx="353.7" cy="230.4" r="2.1" fill="#be8723"/><circle cx="355.4" cy="231.5" r="2.0" fill="#be8723"/><circle cx="357.3" cy="231.5" r="1.6" fill="#be8723"/>
<path d="M327.5,249.5 L333.0,250.5" fill="none" stroke="#be8723" stroke-width="4.7" stroke-linecap="round" stroke-linejoin="round"/><circle cx="327.6" cy="249.9" r="1.8" fill="#be8723"/><circle cx="330.5" cy="250.2" r="2.2" fill="#be8723"/><circle cx="332.8" cy="251.2" r="2.0" fill="#be8723"/>
<path d="M422.5,335.0 L427.0,335.0" fill="none" stroke="#be8723" stroke-width="4.5" stroke-linecap="round" stroke-linejoin="round"/><circle cx="422.4" cy="334.4" r="2.0" fill="#be8723"/><circle cx="424.3" cy="335.6" r="1.9" fill="#be8723"/><circle cx="427.5" cy="335.7" r="2.4" fill="#be8723"/>
<circle cx="342.8" cy="348.5" r="3.2" fill="#be8723"/><circle cx="344.9" cy="348.6" r="1.5" fill="#be8723"/><circle cx="343.8" cy="350.4" r="1.2" fill="#be8723"/><circle cx="341.4" cy="350.1" r="1.5" fill="#be8723"/><circle cx="340.7" cy="348.1" r="1.2" fill="#be8723"/><circle cx="341.9" cy="346.5" r="1.2" fill="#be8723"/><circle cx="344.2" cy="346.9" r="1.5" fill="#be8723"/>
<path d="M331.0,341.5 L336.0,340.0" fill="none" stroke="#be8723" stroke-width="3.9" stroke-linecap="round" stroke-linejoin="round"/><circle cx="331.5" cy="341.1" r="1.7" fill="#be8723"/><circle cx="333.8" cy="340.5" r="1.6" fill="#be8723"/><circle cx="336.2" cy="339.4" r="1.9" fill="#be8723"/>
<ellipse cx="427.5" cy="356.5" rx="4.7" ry="7.4" fill="#be8723"/>
<circle cx="451" cy="350.3" r="4.2" fill="#be8723"/><circle cx="453.8" cy="350.6" r="1.5" fill="#be8723"/><circle cx="453.2" cy="352.1" r="1.5" fill="#be8723"/><circle cx="451.2" cy="353.1" r="1.8" fill="#be8723"/><circle cx="449.8" cy="352.9" r="1.3" fill="#be8723"/><circle cx="448.4" cy="351.5" r="1.6" fill="#be8723"/><circle cx="448.2" cy="349.8" r="1.4" fill="#be8723"/><circle cx="449.8" cy="347.7" r="1.8" fill="#be8723"/><circle cx="452.0" cy="347.6" r="2.0" fill="#be8723"/><circle cx="453.4" cy="348.8" r="1.5" fill="#be8723"/>
<circle cx="460" cy="351.5" r="4.2" fill="#be8723"/><circle cx="462.8" cy="351.1" r="1.5" fill="#be8723"/><circle cx="462.2" cy="353.3" r="1.7" fill="#be8723"/><circle cx="460.4" cy="354.3" r="1.5" fill="#be8723"/><circle cx="458.2" cy="353.7" r="1.5" fill="#be8723"/><circle cx="457.3" cy="352.5" r="1.9" fill="#be8723"/><circle cx="457.5" cy="350.2" r="1.5" fill="#be8723"/><circle cx="458.3" cy="349.2" r="1.9" fill="#be8723"/><circle cx="459.9" cy="348.6" r="1.4" fill="#be8723"/><circle cx="462.2" cy="349.7" r="1.7" fill="#be8723"/>
<circle cx="483.1" cy="352.8" r="4.7" fill="#be8723"/><circle cx="486.3" cy="352.4" r="1.5" fill="#be8723"/><circle cx="485.9" cy="354.4" r="2.1" fill="#be8723"/><circle cx="484.1" cy="355.8" r="2.3" fill="#be8723"/><circle cx="481.8" cy="355.7" r="2.3" fill="#be8723"/><circle cx="480.9" cy="355.1" r="1.6" fill="#be8723"/><circle cx="479.9" cy="353.4" r="1.8" fill="#be8723"/><circle cx="480.4" cy="351.1" r="1.5" fill="#be8723"/><circle cx="482.2" cy="349.7" r="1.5" fill="#be8723"/><circle cx="483.9" cy="349.7" r="1.6" fill="#be8723"/><circle cx="485.9" cy="351.2" r="1.8" fill="#be8723"/>
<circle cx="358.1" cy="354.2" r="2.6" fill="#be8723"/>
<circle cx="359.8" cy="361.5" r="3.2" fill="#be8723"/><circle cx="361.9" cy="361.3" r="1.0" fill="#be8723"/><circle cx="360.9" cy="363.3" r="1.3" fill="#be8723"/><circle cx="358.6" cy="363.3" r="1.5" fill="#be8723"/><circle cx="357.7" cy="361.2" r="1.1" fill="#be8723"/><circle cx="358.5" cy="359.8" r="1.4" fill="#be8723"/><circle cx="361.1" cy="359.8" r="1.2" fill="#be8723"/>
<circle cx="397" cy="356.8" r="3.2" fill="#be8723"/><circle cx="399.1" cy="357.1" r="1.3" fill="#be8723"/><circle cx="398.2" cy="358.6" r="1.0" fill="#be8723"/><circle cx="396.3" cy="358.8" r="1.3" fill="#be8723"/><circle cx="394.9" cy="356.5" r="1.5" fill="#be8723"/><circle cx="395.9" cy="355.0" r="1.3" fill="#be8723"/><circle cx="398.4" cy="355.2" r="1.4" fill="#be8723"/>
<circle cx="359.8" cy="413.3" r="3.4" fill="#be8723"/><circle cx="362.1" cy="413.4" r="1.3" fill="#be8723"/><circle cx="361.2" cy="415.1" r="1.1" fill="#be8723"/><circle cx="359.6" cy="415.6" r="1.4" fill="#be8723"/><circle cx="357.6" cy="413.9" r="1.3" fill="#be8723"/><circle cx="357.7" cy="412.4" r="1.2" fill="#be8723"/><circle cx="359.3" cy="411.1" r="1.5" fill="#be8723"/><circle cx="361.2" cy="411.5" r="1.6" fill="#be8723"/>
<ellipse cx="456" cy="397" rx="2.6" ry="3.7" fill="#be8723"/>
<circle cx="466.7" cy="398.5" r="3.7" fill="#be8723"/><circle cx="469.2" cy="398.2" r="1.3" fill="#be8723"/><circle cx="468.5" cy="400.3" r="1.4" fill="#be8723"/><circle cx="466.4" cy="401.0" r="1.6" fill="#be8723"/><circle cx="464.7" cy="399.9" r="1.5" fill="#be8723"/><circle cx="464.2" cy="399.0" r="1.5" fill="#be8723"/><circle cx="465.0" cy="396.7" r="1.4" fill="#be8723"/><circle cx="466.5" cy="396.0" r="1.6" fill="#be8723"/><circle cx="468.7" cy="397.0" r="1.2" fill="#be8723"/>
<circle cx="457.9" cy="407.8" r="4.2" fill="#be8723"/><circle cx="460.7" cy="408.0" r="1.5" fill="#be8723"/><circle cx="460.1" cy="409.6" r="1.9" fill="#be8723"/><circle cx="457.9" cy="410.7" r="1.7" fill="#be8723"/><circle cx="456.8" cy="410.4" r="2.0" fill="#be8723"/><circle cx="455.4" cy="409.1" r="1.5" fill="#be8723"/><circle cx="455.4" cy="406.5" r="1.5" fill="#be8723"/><circle cx="456.3" cy="405.5" r="2.0" fill="#be8723"/><circle cx="458.9" cy="405.1" r="1.5" fill="#be8723"/><circle cx="460.0" cy="405.9" r="1.5" fill="#be8723"/>
<ellipse cx="491" cy="333" rx="2.6" ry="4.2" fill="#be8723"/>
<circle cx="440" cy="290" r="4.2" fill="#be8723"/><circle cx="442.8" cy="289.6" r="1.4" fill="#be8723"/><circle cx="441.8" cy="292.2" r="1.3" fill="#be8723"/><circle cx="440.8" cy="292.7" r="1.4" fill="#be8723"/><circle cx="439.0" cy="292.7" r="1.7" fill="#be8723"/><circle cx="437.2" cy="290.7" r="1.9" fill="#be8723"/><circle cx="437.4" cy="288.9" r="1.9" fill="#be8723"/><circle cx="438.1" cy="287.9" r="1.5" fill="#be8723"/><circle cx="441.0" cy="287.3" r="1.3" fill="#be8723"/><circle cx="442.0" cy="288.0" r="1.6" fill="#be8723"/>
<circle cx="405.5" cy="265.3" r="3.6" fill="#fdbf1c"/><circle cx="407.9" cy="265.1" r="1.4" fill="#fdbf1c"/><circle cx="407.3" cy="266.9" r="1.2" fill="#fdbf1c"/><circle cx="404.5" cy="267.5" r="1.2" fill="#fdbf1c"/><circle cx="403.2" cy="266.0" r="1.2" fill="#fdbf1c"/><circle cx="403.5" cy="263.8" r="1.5" fill="#fdbf1c"/><circle cx="405.1" cy="262.9" r="1.2" fill="#fdbf1c"/><circle cx="406.7" cy="263.1" r="1.6" fill="#fdbf1c"/>
<path d="M394.5,277.0 L402.5,276.6" fill="none" stroke="#fdbf1c" stroke-width="4.5" stroke-linecap="round" stroke-linejoin="round"/><circle cx="394.1" cy="277.5" r="1.9" fill="#fdbf1c"/><circle cx="396.5" cy="277.5" r="2.6" fill="#fdbf1c"/><circle cx="399.7" cy="276.2" r="2.2" fill="#fdbf1c"/><circle cx="403.2" cy="276.3" r="2.1" fill="#fdbf1c"/>
<circle cx="408.5" cy="282.2" r="2.0" fill="#fdbf1c"/>
<path d="M385.6,309.9 L387.8,309.5" fill="none" stroke="#fdbf1c" stroke-width="2.0" stroke-linecap="round" stroke-linejoin="round"/><circle cx="385.4" cy="309.7" r="0.8" fill="#fdbf1c"/><circle cx="388.1" cy="309.2" r="0.9" fill="#fdbf1c"/>
<circle cx="455" cy="305" r="1.2" fill="#fdbf1c"/>
<circle cx="462" cy="312" r="1.2" fill="#fdbf1c"/>
<circle cx="470" cy="320" r="1.3" fill="#fdbf1c"/>
<circle cx="448" cy="315" r="1.1" fill="#fdbf1c"/>
<circle cx="475" cy="328" r="1.2" fill="#fdbf1c"/>
<circle cx="466" cy="330" r="1.1" fill="#fdbf1c"/>
<circle cx="371.7" cy="235" r="5.5" fill="#14507a"/><circle cx="375.4" cy="234.5" r="2.6" fill="#14507a"/><circle cx="374.5" cy="237.5" r="2.6" fill="#14507a"/><circle cx="373.9" cy="238.0" r="2.0" fill="#14507a"/><circle cx="371.0" cy="238.7" r="2.1" fill="#14507a"/><circle cx="369.6" cy="238.1" r="2.0" fill="#14507a"/><circle cx="368.9" cy="237.5" r="2.0" fill="#14507a"/><circle cx="368.0" cy="234.6" r="2.4" fill="#14507a"/><circle cx="368.5" cy="233.0" r="2.1" fill="#14507a"/><circle cx="369.9" cy="231.7" r="2.1" fill="#14507a"/><circle cx="371.8" cy="231.3" r="2.5" fill="#14507a"/><circle cx="373.2" cy="231.6" r="2.2" fill="#14507a"/><circle cx="375.2" cy="233.7" r="2.5" fill="#14507a"/>
<path d="M397.0,237.0 L405.0,235.5 L413.0,235.0 L420.0,234.0" fill="none" stroke="#14507a" stroke-width="8.4" stroke-linecap="round" stroke-linejoin="round"/><circle cx="398.2" cy="237.9" r="3.5" fill="#14507a"/><circle cx="400.4" cy="235.4" r="3.5" fill="#14507a"/><circle cx="406.3" cy="235.3" r="3.3" fill="#14507a"/><circle cx="408.0" cy="233.9" r="4.8" fill="#14507a"/><circle cx="413.8" cy="236.3" r="4.8" fill="#14507a"/><circle cx="420.1" cy="234.7" r="4.4" fill="#14507a"/>
<path d="M339.0,260.8 L347.6,259.0 L354.3,257.4 L359.4,252.4 L362.8,250.7" fill="none" stroke="#14507a" stroke-width="7.4" stroke-linecap="round" stroke-linejoin="round"/><circle cx="339.1" cy="260.7" r="2.9" fill="#14507a"/><circle cx="343.5" cy="259.5" r="3.0" fill="#14507a"/><circle cx="347.3" cy="258.6" r="3.6" fill="#14507a"/><circle cx="351.2" cy="259.3" r="3.3" fill="#14507a"/><circle cx="355.2" cy="258.2" r="4.3" fill="#14507a"/><circle cx="358.0" cy="254.4" r="3.2" fill="#14507a"/><circle cx="359.4" cy="252.9" r="3.0" fill="#14507a"/><circle cx="363.1" cy="250.2" r="3.3" fill="#14507a"/>
<path d="M358.0,279.3 L367.0,277.2" fill="none" stroke="#14507a" stroke-width="4.2" stroke-linecap="round" stroke-linejoin="round"/><circle cx="357.9" cy="279.3" r="2.5" fill="#14507a"/><circle cx="360.8" cy="279.4" r="2.1" fill="#14507a"/><circle cx="362.4" cy="278.4" r="2.1" fill="#14507a"/><circle cx="364.6" cy="278.2" r="1.6" fill="#14507a"/><circle cx="366.4" cy="277.7" r="2.3" fill="#14507a"/>
<circle cx="353.8" cy="289.4" r="2.0" fill="#14507a"/>
<path d="M476.0,232.0 L485.0,236.0 L490.0,239.0 L495.0,238.0 L500.0,241.5 L506.0,242.5 L514.5,242.5 L521.0,238.0 L530.0,240.0 L537.0,244.0 L539.0,248.0 L545.0,248.5 L552.0,251.0 L558.0,249.5 L567.0,248.5 L572.0,248.0 L572.0,253.0 L570.2,255.7 L565.1,259.1 L555.0,261.7 L544.9,263.3 L534.7,261.7 L528.0,262.5 L517.8,265.0 L511.1,259.1 L504.3,255.7 L494.2,252.4 L485.7,249.0 L479.0,244.8 L474.8,239.7Z" fill="#14507a" stroke="#14507a" stroke-width="1.6" stroke-linejoin="round"/><circle cx="475.2" cy="234.3" r="1.9" fill="#14507a"/><circle cx="477.0" cy="234.2" r="2.6" fill="#14507a"/><circle cx="479.8" cy="236.1" r="2.4" fill="#14507a"/><circle cx="481.9" cy="235.6" r="2.1" fill="#14507a"/><circle cx="484.1" cy="236.7" r="2.3" fill="#14507a"/><circle cx="487.9" cy="238.7" r="1.6" fill="#14507a"/><circle cx="489.5" cy="239.8" r="2.3" fill="#14507a"/><circle cx="491.8" cy="238.6" r="1.8" fill="#14507a"/><circle cx="493.7" cy="237.8" r="2.2" fill="#14507a"/><circle cx="497.9" cy="240.8" r="2.4" fill="#14507a"/><circle cx="500.7" cy="243.6" r="2.7" fill="#14507a"/><circle cx="502.7" cy="243.7" r="1.6" fill="#14507a"/><circle cx="507.0" cy="243.4" r="2.1" fill="#14507a"/><circle cx="509.8" cy="243.1" r="1.7" fill="#14507a"/><circle cx="512.5" cy="244.0" r="1.5" fill="#14507a"/><circle cx="514.0" cy="243.1" r="1.4" fill="#14507a"/><circle cx="518.2" cy="241.2" r="1.8" fill="#14507a"/><circle cx="519.2" cy="240.5" r="2.0" fill="#14507a"/><circle cx="521.1" cy="239.6" r="2.0" fill="#14507a"/><circle cx="522.7" cy="241.1" r="2.4" fill="#14507a"/><circle cx="525.7" cy="240.4" r="2.5" fill="#14507a"/><circle cx="530.7" cy="239.9" r="1.4" fill="#14507a"/><circle cx="531.7" cy="242.2" r="2.7" fill="#14507a"/><circle cx="534.9" cy="243.3" r="2.0" fill="#14507a"/><circle cx="536.1" cy="245.5" r="1.7" fill="#14507a"/><circle cx="538.6" cy="248.1" r="2.3" fill="#14507a"/><circle cx="540.7" cy="250.6" r="2.1" fill="#14507a"/><circle cx="544.8" cy="248.6" r="1.7" fill="#14507a"/><circle cx="546.8" cy="251.4" r="2.2" fill="#14507a"/><circle cx="548.7" cy="252.6" r="2.3" fill="#14507a"/><circle cx="552.4" cy="251.4" r="1.8" fill="#14507a"/><circle cx="556.3" cy="250.5" r="2.1" fill="#14507a"/><circle cx="558.4" cy="250.3" r="2.5" fill="#14507a"/><circle cx="562.2" cy="251.3" r="2.4" fill="#14507a"/><circle cx="563.4" cy="248.9" r="2.0" fill="#14507a"/><circle cx="566.6" cy="248.9" r="2.6" fill="#14507a"/><circle cx="568.9" cy="250.3" r="2.7" fill="#14507a"/><circle cx="569.8" cy="249.1" r="2.0" fill="#14507a"/><circle cx="570.1" cy="249.7" r="1.5" fill="#14507a"/><circle cx="571.0" cy="252.0" r="2.6" fill="#14507a"/><circle cx="570.4" cy="253.5" r="2.0" fill="#14507a"/><circle cx="566.7" cy="255.6" r="1.8" fill="#14507a"/><circle cx="564.2" cy="258.4" r="1.9" fill="#14507a"/><circle cx="561.3" cy="257.9" r="2.0" fill="#14507a"/><circle cx="559.9" cy="258.6" r="2.4" fill="#14507a"/><circle cx="556.5" cy="260.3" r="2.3" fill="#14507a"/><circle cx="554.0" cy="261.2" r="2.0" fill="#14507a"/><circle cx="552.4" cy="261.2" r="2.3" fill="#14507a"/><circle cx="549.6" cy="260.2" r="2.5" fill="#14507a"/><circle cx="548.2" cy="261.7" r="2.2" fill="#14507a"/><circle cx="544.5" cy="263.2" r="2.4" fill="#14507a"/><circle cx="541.8" cy="262.5" r="2.8" fill="#14507a"/><circle cx="539.6" cy="262.6" r="2.1" fill="#14507a"/><circle cx="536.6" cy="261.5" r="1.9" fill="#14507a"/><circle cx="535.2" cy="260.7" r="1.6" fill="#14507a"/><circle cx="531.3" cy="261.8" r="2.1" fill="#14507a"/><circle cx="527.8" cy="262.3" r="2.0" fill="#14507a"/><circle cx="525.1" cy="262.2" r="2.6" fill="#14507a"/><circle cx="521.8" cy="261.5" r="2.5" fill="#14507a"/><circle cx="520.2" cy="262.7" r="2.6" fill="#14507a"/><circle cx="519.6" cy="264.2" r="2.8" fill="#14507a"/><circle cx="517.2" cy="262.8" r="1.8" fill="#14507a"/><circle cx="512.9" cy="260.6" r="2.4" fill="#14507a"/><circle cx="511.2" cy="258.0" r="2.2" fill="#14507a"/><circle cx="508.7" cy="257.4" r="2.2" fill="#14507a"/><circle cx="506.8" cy="254.7" r="2.2" fill="#14507a"/><circle cx="504.2" cy="255.1" r="1.6" fill="#14507a"/><circle cx="501.9" cy="252.9" r="2.0" fill="#14507a"/><circle cx="499.8" cy="251.9" r="1.5" fill="#14507a"/><circle cx="497.1" cy="251.3" r="2.1" fill="#14507a"/><circle cx="493.8" cy="250.2" r="2.2" fill="#14507a"/><circle cx="492.9" cy="251.1" r="2.1" fill="#14507a"/><circle cx="488.7" cy="247.9" r="1.8" fill="#14507a"/><circle cx="485.9" cy="249.1" r="1.6" fill="#14507a"/><circle cx="485.3" cy="246.5" r="2.0" fill="#14507a"/><circle cx="481.3" cy="246.4" r="1.7" fill="#14507a"/><circle cx="480.1" cy="244.1" r="1.7" fill="#14507a"/><circle cx="477.1" cy="242.7" r="2.5" fill="#14507a"/><circle cx="476.6" cy="240.9" r="1.5" fill="#14507a"/><circle cx="476.9" cy="238.0" r="1.7" fill="#14507a"/><circle cx="476.7" cy="236.0" r="1.9" fill="#14507a"/>
<path d="M555.8,270.9 L562.6,265.0" fill="none" stroke="#14507a" stroke-width="7.4" stroke-linecap="round" stroke-linejoin="round"/><circle cx="555.0" cy="271.3" r="4.0" fill="#14507a"/><circle cx="559.2" cy="267.6" r="3.2" fill="#14507a"/><circle cx="563.2" cy="265.0" r="4.2" fill="#14507a"/>
<circle cx="535.6" cy="280.8" r="5.8" fill="#14507a"/><circle cx="539.5" cy="281.1" r="2.2" fill="#14507a"/><circle cx="538.8" cy="283.2" r="2.0" fill="#14507a"/><circle cx="537.5" cy="284.2" r="2.4" fill="#14507a"/><circle cx="535.8" cy="284.7" r="1.8" fill="#14507a"/><circle cx="534.1" cy="284.4" r="2.4" fill="#14507a"/><circle cx="532.4" cy="283.2" r="2.5" fill="#14507a"/><circle cx="531.7" cy="280.8" r="2.7" fill="#14507a"/><circle cx="532.5" cy="278.4" r="2.5" fill="#14507a"/><circle cx="533.5" cy="277.5" r="1.8" fill="#14507a"/><circle cx="535.7" cy="276.9" r="2.5" fill="#14507a"/><circle cx="538.1" cy="277.8" r="2.0" fill="#14507a"/><circle cx="538.7" cy="278.4" r="2.8" fill="#14507a"/>
<circle cx="520.7" cy="281.4" r="2.5" fill="#14507a"/>
<circle cx="473" cy="243" r="2.5" fill="#14507a"/>
<path d="M441.0,231.0 L434.0,234.0 L431.0,240.0 L436.0,241.0" fill="none" stroke="#14507a" stroke-width="6.3" stroke-linecap="round" stroke-linejoin="round"/><circle cx="441.0" cy="231.5" r="3.4" fill="#14507a"/><circle cx="437.6" cy="232.8" r="2.6" fill="#14507a"/><circle cx="433.3" cy="233.3" r="3.2" fill="#14507a"/><circle cx="433.3" cy="236.3" r="3.2" fill="#14507a"/><circle cx="430.2" cy="240.6" r="2.4" fill="#14507a"/><circle cx="435.9" cy="242.0" r="2.9" fill="#14507a"/>
<path d="M451.1,232.1 L455.3,239.7" fill="none" stroke="#14507a" stroke-width="7.4" stroke-linecap="round" stroke-linejoin="round"/><circle cx="450.5" cy="232.6" r="3.8" fill="#14507a"/><circle cx="452.7" cy="236.4" r="2.8" fill="#14507a"/><circle cx="454.2" cy="239.7" r="3.0" fill="#14507a"/>
<path d="M441.0,262.0 L446.0,255.0 L455.0,255.0 L460.0,259.0 L463.0,264.0 L458.0,266.0 L452.0,265.0 L448.0,270.0 L443.0,268.0Z" fill="#14507a" stroke="#14507a" stroke-width="1.6" stroke-linejoin="round"/><circle cx="441.5" cy="263.9" r="1.5" fill="#14507a"/><circle cx="444.4" cy="260.1" r="2.5" fill="#14507a"/><circle cx="445.2" cy="258.5" r="1.9" fill="#14507a"/><circle cx="445.3" cy="256.1" r="2.5" fill="#14507a"/><circle cx="448.6" cy="255.5" r="2.0" fill="#14507a"/><circle cx="450.9" cy="255.7" r="2.2" fill="#14507a"/><circle cx="454.4" cy="256.2" r="1.8" fill="#14507a"/><circle cx="455.5" cy="256.7" r="1.9" fill="#14507a"/><circle cx="458.2" cy="259.8" r="1.8" fill="#14507a"/><circle cx="461.2" cy="262.4" r="2.3" fill="#14507a"/><circle cx="463.2" cy="262.9" r="2.0" fill="#14507a"/><circle cx="459.6" cy="262.7" r="2.5" fill="#14507a"/><circle cx="458.2" cy="263.8" r="2.7" fill="#14507a"/><circle cx="455.4" cy="264.6" r="2.0" fill="#14507a"/><circle cx="450.1" cy="265.5" r="1.6" fill="#14507a"/><circle cx="448.7" cy="268.0" r="1.6" fill="#14507a"/><circle cx="448.4" cy="268.8" r="1.7" fill="#14507a"/><circle cx="447.0" cy="267.7" r="1.4" fill="#14507a"/><circle cx="444.1" cy="266.3" r="2.4" fill="#14507a"/><circle cx="444.1" cy="265.7" r="1.5" fill="#14507a"/>
<path d="M478.1,264.2 L488.3,270.1" fill="none" stroke="#14507a" stroke-width="5.2" stroke-linecap="round" stroke-linejoin="round"/><circle cx="477.8" cy="264.2" r="2.8" fill="#14507a"/><circle cx="480.3" cy="265.1" r="2.3" fill="#14507a"/><circle cx="482.5" cy="267.9" r="2.7" fill="#14507a"/><circle cx="486.5" cy="268.1" r="2.0" fill="#14507a"/><circle cx="488.7" cy="270.2" r="2.1" fill="#14507a"/>
<path d="M345.3,301.3 L353.8,299.6 L363.9,301.3 L375.7,302.1 L384.2,306.3 L387.6,303.8 L394.3,304.6 L399.4,299.6 L407.8,297.0 L414.6,293.6 L424.7,289.4 L430.6,284.4 L434.9,276.8 L438.2,275.9 L441.6,281.8 L448.4,279.3 L455.1,280.1 L453.4,286.9 L446.7,291.1 L438.2,292.0 L428.1,292.0 L428.1,298.7 L423.9,306.3 L418.0,313.1 L416.3,319.0 L411.2,329.1 L404.5,330.0 L395.2,331.7 L390.9,339.3 L387.6,338.4 L389.3,335.0 L384.2,330.8 L377.4,325.7 L370.7,320.7 L363.9,318.1 L355.5,313.9 L349.6,308.9 L345.3,302.1Z" fill="#14507a" stroke="#14507a" stroke-width="1.6" stroke-linejoin="round"/><circle cx="346.2" cy="302.5" r="2.3" fill="#14507a"/><circle cx="347.3" cy="302.4" r="2.1" fill="#14507a"/><circle cx="352.4" cy="300.1" r="1.5" fill="#14507a"/><circle cx="354.1" cy="301.9" r="2.0" fill="#14507a"/><circle cx="356.7" cy="301.4" r="1.9" fill="#14507a"/><circle cx="358.6" cy="301.9" r="1.4" fill="#14507a"/><circle cx="360.7" cy="302.7" r="1.8" fill="#14507a"/><circle cx="363.7" cy="301.9" r="1.9" fill="#14507a"/><circle cx="367.2" cy="303.3" r="2.7" fill="#14507a"/><circle cx="369.7" cy="302.1" r="1.9" fill="#14507a"/><circle cx="371.5" cy="302.4" r="2.2" fill="#14507a"/><circle cx="375.5" cy="302.5" r="1.7" fill="#14507a"/><circle cx="377.0" cy="303.7" r="2.1" fill="#14507a"/><circle cx="380.2" cy="307.0" r="2.2" fill="#14507a"/><circle cx="384.5" cy="307.1" r="1.5" fill="#14507a"/><circle cx="388.1" cy="305.6" r="1.9" fill="#14507a"/><circle cx="391.4" cy="304.8" r="1.7" fill="#14507a"/><circle cx="394.4" cy="304.7" r="2.2" fill="#14507a"/><circle cx="398.1" cy="303.5" r="1.5" fill="#14507a"/><circle cx="400.4" cy="300.7" r="1.9" fill="#14507a"/><circle cx="402.6" cy="299.7" r="1.7" fill="#14507a"/><circle cx="405.1" cy="299.4" r="2.4" fill="#14507a"/><circle cx="409.4" cy="297.3" r="2.6" fill="#14507a"/><circle cx="411.4" cy="297.5" r="2.8" fill="#14507a"/><circle cx="411.9" cy="296.5" r="2.7" fill="#14507a"/><circle cx="414.1" cy="295.0" r="2.7" fill="#14507a"/><circle cx="417.0" cy="294.6" r="2.7" fill="#14507a"/><circle cx="419.9" cy="291.7" r="1.7" fill="#14507a"/><circle cx="423.5" cy="291.4" r="1.8" fill="#14507a"/><circle cx="425.3" cy="291.4" r="1.8" fill="#14507a"/><circle cx="426.2" cy="289.8" r="1.8" fill="#14507a"/><circle cx="429.1" cy="288.2" r="1.8" fill="#14507a"/><circle cx="430.6" cy="286.0" r="1.7" fill="#14507a"/><circle cx="432.4" cy="283.6" r="1.7" fill="#14507a"/><circle cx="435.6" cy="279.5" r="1.8" fill="#14507a"/><circle cx="434.5" cy="278.1" r="2.2" fill="#14507a"/><circle cx="436.9" cy="276.5" r="1.8" fill="#14507a"/><circle cx="439.7" cy="280.6" r="2.5" fill="#14507a"/><circle cx="442.8" cy="281.8" r="1.8" fill="#14507a"/><circle cx="443.5" cy="281.2" r="2.8" fill="#14507a"/><circle cx="447.6" cy="282.3" r="2.2" fill="#14507a"/><circle cx="447.3" cy="280.3" r="1.5" fill="#14507a"/><circle cx="452.7" cy="280.3" r="1.8" fill="#14507a"/><circle cx="455.1" cy="279.0" r="2.7" fill="#14507a"/><circle cx="452.6" cy="283.6" r="1.5" fill="#14507a"/><circle cx="453.8" cy="285.6" r="1.9" fill="#14507a"/><circle cx="450.9" cy="287.5" r="1.8" fill="#14507a"/><circle cx="447.3" cy="288.9" r="1.4" fill="#14507a"/><circle cx="447.5" cy="289.5" r="1.6" fill="#14507a"/><circle cx="443.3" cy="289.2" r="1.8" fill="#14507a"/><circle cx="441.0" cy="290.3" r="1.9" fill="#14507a"/><circle cx="437.7" cy="290.8" r="2.5" fill="#14507a"/><circle cx="435.5" cy="291.5" r="2.1" fill="#14507a"/><circle cx="432.2" cy="289.9" r="2.6" fill="#14507a"/><circle cx="430.6" cy="290.5" r="2.1" fill="#14507a"/><circle cx="427.8" cy="291.7" r="1.9" fill="#14507a"/><circle cx="426.6" cy="294.1" r="2.2" fill="#14507a"/><circle cx="427.0" cy="298.1" r="2.0" fill="#14507a"/><circle cx="425.6" cy="301.2" r="1.7" fill="#14507a"/><circle cx="425.5" cy="302.2" r="2.6" fill="#14507a"/><circle cx="422.1" cy="306.3" r="1.8" fill="#14507a"/><circle cx="419.9" cy="307.9" r="2.6" fill="#14507a"/><circle cx="420.0" cy="311.0" r="2.8" fill="#14507a"/><circle cx="415.7" cy="312.5" r="1.5" fill="#14507a"/><circle cx="416.7" cy="315.6" r="2.4" fill="#14507a"/><circle cx="416.0" cy="319.8" r="2.3" fill="#14507a"/><circle cx="414.9" cy="321.1" r="1.5" fill="#14507a"/><circle cx="413.7" cy="322.4" r="1.5" fill="#14507a"/><circle cx="412.3" cy="325.5" r="2.3" fill="#14507a"/><circle cx="409.8" cy="327.2" r="2.4" fill="#14507a"/><circle cx="406.5" cy="328.4" r="2.7" fill="#14507a"/><circle cx="403.5" cy="329.4" r="2.4" fill="#14507a"/><circle cx="401.5" cy="330.1" r="2.4" fill="#14507a"/><circle cx="396.8" cy="329.2" r="2.2" fill="#14507a"/><circle cx="395.4" cy="330.4" r="2.2" fill="#14507a"/><circle cx="391.8" cy="334.5" r="2.0" fill="#14507a"/><circle cx="391.3" cy="336.6" r="1.6" fill="#14507a"/><circle cx="391.8" cy="338.9" r="2.6" fill="#14507a"/><circle cx="388.1" cy="338.2" r="1.6" fill="#14507a"/><circle cx="391.1" cy="333.9" r="1.9" fill="#14507a"/><circle cx="387.6" cy="332.5" r="1.8" fill="#14507a"/><circle cx="384.5" cy="330.5" r="2.5" fill="#14507a"/><circle cx="382.1" cy="327.0" r="2.7" fill="#14507a"/><circle cx="381.0" cy="326.7" r="2.0" fill="#14507a"/><circle cx="379.3" cy="324.6" r="1.7" fill="#14507a"/><circle cx="374.8" cy="322.7" r="2.2" fill="#14507a"/><circle cx="373.3" cy="322.6" r="2.3" fill="#14507a"/><circle cx="371.0" cy="320.0" r="2.2" fill="#14507a"/><circle cx="369.2" cy="318.7" r="2.1" fill="#14507a"/><circle cx="366.6" cy="318.7" r="1.7" fill="#14507a"/><circle cx="365.2" cy="316.5" r="2.6" fill="#14507a"/><circle cx="360.5" cy="315.6" r="2.0" fill="#14507a"/><circle cx="359.4" cy="313.5" r="1.8" fill="#14507a"/><circle cx="355.3" cy="313.1" r="2.2" fill="#14507a"/><circle cx="353.0" cy="310.5" r="1.7" fill="#14507a"/><circle cx="353.5" cy="309.5" r="2.2" fill="#14507a"/><circle cx="350.1" cy="308.7" r="2.5" fill="#14507a"/><circle cx="349.6" cy="304.7" r="2.0" fill="#14507a"/><circle cx="347.7" cy="302.5" r="2.5" fill="#14507a"/><circle cx="346.0" cy="301.6" r="2.3" fill="#14507a"/>
<path d="M455.2,283.5 L463.6,277.6 L470.4,281.8 L478.9,288.6 L487.3,297.0 L495.7,303.8 L499.1,308.9 L495.7,313.9 L489.0,319.0 L485.6,315.6 L480.5,313.9 L485.6,308.9 L478.9,302.1 L470.4,300.4 L462.0,295.3 L455.2,290.3Z" fill="#14507a" stroke="#14507a" stroke-width="1.6" stroke-linejoin="round"/><circle cx="456.1" cy="284.5" r="2.6" fill="#14507a"/><circle cx="458.0" cy="282.6" r="1.5" fill="#14507a"/><circle cx="460.2" cy="281.2" r="2.2" fill="#14507a"/><circle cx="461.8" cy="278.8" r="1.5" fill="#14507a"/><circle cx="462.1" cy="277.6" r="2.6" fill="#14507a"/><circle cx="465.4" cy="279.3" r="2.4" fill="#14507a"/><circle cx="467.9" cy="280.3" r="2.5" fill="#14507a"/><circle cx="468.9" cy="284.0" r="1.6" fill="#14507a"/><circle cx="471.2" cy="283.8" r="2.6" fill="#14507a"/><circle cx="474.7" cy="286.3" r="1.6" fill="#14507a"/><circle cx="475.8" cy="288.4" r="1.5" fill="#14507a"/><circle cx="479.1" cy="290.3" r="2.7" fill="#14507a"/><circle cx="480.7" cy="291.9" r="2.8" fill="#14507a"/><circle cx="481.6" cy="293.1" r="1.6" fill="#14507a"/><circle cx="483.5" cy="296.5" r="1.5" fill="#14507a"/><circle cx="487.2" cy="297.7" r="2.6" fill="#14507a"/><circle cx="489.3" cy="300.1" r="2.6" fill="#14507a"/><circle cx="489.6" cy="300.7" r="1.9" fill="#14507a"/><circle cx="492.7" cy="303.5" r="2.6" fill="#14507a"/><circle cx="495.3" cy="305.6" r="2.4" fill="#14507a"/><circle cx="496.0" cy="307.0" r="2.4" fill="#14507a"/><circle cx="498.9" cy="307.9" r="1.9" fill="#14507a"/><circle cx="496.7" cy="310.0" r="2.6" fill="#14507a"/><circle cx="493.7" cy="313.3" r="2.1" fill="#14507a"/><circle cx="491.9" cy="314.8" r="2.1" fill="#14507a"/><circle cx="491.7" cy="317.3" r="2.2" fill="#14507a"/><circle cx="490.8" cy="319.1" r="1.6" fill="#14507a"/><circle cx="489.0" cy="317.3" r="2.8" fill="#14507a"/><circle cx="486.7" cy="314.2" r="1.7" fill="#14507a"/><circle cx="483.8" cy="312.9" r="2.5" fill="#14507a"/><circle cx="481.5" cy="315.6" r="1.9" fill="#14507a"/><circle cx="483.4" cy="313.3" r="2.3" fill="#14507a"/><circle cx="486.1" cy="308.2" r="2.0" fill="#14507a"/><circle cx="484.6" cy="305.8" r="1.8" fill="#14507a"/><circle cx="483.2" cy="304.5" r="2.5" fill="#14507a"/><circle cx="478.6" cy="300.1" r="2.4" fill="#14507a"/><circle cx="477.1" cy="300.8" r="1.7" fill="#14507a"/><circle cx="474.0" cy="299.9" r="1.9" fill="#14507a"/><circle cx="471.3" cy="299.2" r="2.3" fill="#14507a"/><circle cx="469.6" cy="299.4" r="1.6" fill="#14507a"/><circle cx="467.0" cy="298.0" r="2.3" fill="#14507a"/><circle cx="464.9" cy="296.5" r="1.4" fill="#14507a"/><circle cx="463.5" cy="294.7" r="2.2" fill="#14507a"/><circle cx="460.0" cy="293.0" r="1.6" fill="#14507a"/><circle cx="458.2" cy="290.4" r="2.7" fill="#14507a"/><circle cx="457.2" cy="290.2" r="2.5" fill="#14507a"/><circle cx="456.1" cy="287.0" r="1.6" fill="#14507a"/>
<path d="M501.7,293.6 L510.1,292.0" fill="none" stroke="#14507a" stroke-width="6.3" stroke-linecap="round" stroke-linejoin="round"/><circle cx="502.2" cy="294.1" r="3.6" fill="#14507a"/><circle cx="505.1" cy="292.1" r="2.5" fill="#14507a"/><circle cx="507.3" cy="291.6" r="3.2" fill="#14507a"/><circle cx="510.9" cy="292.3" r="3.0" fill="#14507a"/>
<circle cx="515.2" cy="302.1" r="7.0" fill="#14507a"/><circle cx="519.9" cy="301.7" r="3.1" fill="#14507a"/><circle cx="519.7" cy="303.8" r="3.2" fill="#14507a"/><circle cx="518.5" cy="305.5" r="2.2" fill="#14507a"/><circle cx="515.8" cy="306.8" r="2.2" fill="#14507a"/><circle cx="515.2" cy="306.9" r="3.1" fill="#14507a"/><circle cx="513.5" cy="306.5" r="2.8" fill="#14507a"/><circle cx="511.0" cy="304.3" r="2.8" fill="#14507a"/><circle cx="510.6" cy="303.4" r="3.1" fill="#14507a"/><circle cx="510.7" cy="300.5" r="2.8" fill="#14507a"/><circle cx="511.5" cy="299.1" r="2.5" fill="#14507a"/><circle cx="512.7" cy="298.1" r="3.3" fill="#14507a"/><circle cx="515.6" cy="297.4" r="2.1" fill="#14507a"/><circle cx="516.1" cy="297.4" r="2.4" fill="#14507a"/><circle cx="518.8" cy="299.0" r="2.4" fill="#14507a"/><circle cx="519.3" cy="299.6" r="3.1" fill="#14507a"/>
<circle cx="500.8" cy="313" r="3.0" fill="#14507a"/><circle cx="502.8" cy="312.7" r="1.4" fill="#14507a"/><circle cx="501.9" cy="314.7" r="1.4" fill="#14507a"/><circle cx="499.6" cy="314.6" r="1.0" fill="#14507a"/><circle cx="498.8" cy="312.8" r="1.1" fill="#14507a"/><circle cx="499.6" cy="311.4" r="0.9" fill="#14507a"/><circle cx="502.0" cy="311.3" r="1.2" fill="#14507a"/>
<circle cx="510.9" cy="314.8" r="2.5" fill="#14507a"/>
<path d="M488.5,344.6 L493.5,344.6" fill="none" stroke="#14507a" stroke-width="4.6" stroke-linecap="round" stroke-linejoin="round"/><circle cx="489.0" cy="344.2" r="2.0" fill="#14507a"/><circle cx="490.4" cy="344.4" r="2.2" fill="#14507a"/><circle cx="493.5" cy="344.1" r="2.7" fill="#14507a"/>
<path d="M449.4,360.1 L468.9,354.2" fill="none" stroke="#14507a" stroke-width="6.3" stroke-linecap="round" stroke-linejoin="round"/><circle cx="449.7" cy="359.7" r="2.7" fill="#14507a"/><circle cx="451.3" cy="360.0" r="3.6" fill="#14507a"/><circle cx="455.6" cy="358.1" r="3.2" fill="#14507a"/><circle cx="457.1" cy="357.8" r="2.5" fill="#14507a"/><circle cx="459.8" cy="357.3" r="2.4" fill="#14507a"/><circle cx="464.0" cy="356.6" r="3.6" fill="#14507a"/><circle cx="466.9" cy="355.4" r="3.1" fill="#14507a"/><circle cx="468.8" cy="353.2" r="3.2" fill="#14507a"/>
<path d="M350.0,349.0 L360.0,349.5 L368.0,347.5" fill="none" stroke="#14507a" stroke-width="5.2" stroke-linecap="round" stroke-linejoin="round"/><circle cx="349.6" cy="348.9" r="2.1" fill="#14507a"/><circle cx="353.3" cy="349.3" r="2.1" fill="#14507a"/><circle cx="355.7" cy="348.8" r="2.8" fill="#14507a"/><circle cx="358.3" cy="349.0" r="3.0" fill="#14507a"/><circle cx="360.5" cy="350.2" r="2.1" fill="#14507a"/><circle cx="362.5" cy="349.0" r="2.9" fill="#14507a"/><circle cx="364.9" cy="348.0" r="2.1" fill="#14507a"/><circle cx="367.3" cy="348.2" r="2.8" fill="#14507a"/>
<path d="M376.6,338.4 L383.0,344.0 L387.6,349.4 L387.7,353.4 L381.0,358.4 L374.2,364.4 L372.5,361.8 L377.6,353.4 L378.3,349.4 L376.0,343.0Z" fill="#14507a" stroke="#14507a" stroke-width="1.6" stroke-linejoin="round"/><circle cx="374.6" cy="340.5" r="1.7" fill="#14507a"/><circle cx="378.8" cy="342.0" r="2.7" fill="#14507a"/><circle cx="380.0" cy="343.6" r="1.8" fill="#14507a"/><circle cx="383.0" cy="343.8" r="2.6" fill="#14507a"/><circle cx="384.6" cy="346.3" r="2.7" fill="#14507a"/><circle cx="385.9" cy="348.3" r="1.8" fill="#14507a"/><circle cx="385.8" cy="351.9" r="2.4" fill="#14507a"/><circle cx="386.0" cy="354.4" r="2.6" fill="#14507a"/><circle cx="383.4" cy="356.3" r="1.9" fill="#14507a"/><circle cx="379.6" cy="356.6" r="2.2" fill="#14507a"/><circle cx="377.2" cy="360.1" r="1.8" fill="#14507a"/><circle cx="375.9" cy="361.6" r="2.3" fill="#14507a"/><circle cx="374.3" cy="363.1" r="2.4" fill="#14507a"/><circle cx="372.8" cy="362.9" r="2.8" fill="#14507a"/><circle cx="374.5" cy="361.5" r="2.3" fill="#14507a"/><circle cx="377.2" cy="358.3" r="2.5" fill="#14507a"/><circle cx="377.8" cy="355.3" r="2.1" fill="#14507a"/><circle cx="379.0" cy="353.5" r="2.3" fill="#14507a"/><circle cx="380.5" cy="349.8" r="2.5" fill="#14507a"/><circle cx="377.4" cy="346.3" r="2.3" fill="#14507a"/><circle cx="378.3" cy="341.9" r="1.6" fill="#14507a"/>
<path d="M395.0,342.5 L400.0,344.0 L405.0,343.5 L407.5,348.0 L406.0,352.5 L402.0,351.0 L398.0,349.5Z" fill="#14507a" stroke="#14507a" stroke-width="1.6" stroke-linejoin="round"/><circle cx="395.9" cy="343.3" r="2.4" fill="#14507a"/><circle cx="397.4" cy="344.1" r="2.0" fill="#14507a"/><circle cx="400.3" cy="346.5" r="2.1" fill="#14507a"/><circle cx="403.4" cy="344.4" r="2.4" fill="#14507a"/><circle cx="404.2" cy="344.7" r="2.6" fill="#14507a"/><circle cx="404.1" cy="347.5" r="2.3" fill="#14507a"/><circle cx="405.7" cy="347.5" r="1.5" fill="#14507a"/><circle cx="405.7" cy="352.3" r="2.4" fill="#14507a"/><circle cx="403.4" cy="349.0" r="1.6" fill="#14507a"/><circle cx="398.8" cy="349.0" r="2.4" fill="#14507a"/><circle cx="397.6" cy="347.3" r="2.2" fill="#14507a"/><circle cx="396.6" cy="345.1" r="1.5" fill="#14507a"/>
<circle cx="418.5" cy="359" r="4.2" fill="#14507a"/><circle cx="421.4" cy="359.1" r="1.4" fill="#14507a"/><circle cx="421.0" cy="360.4" r="1.6" fill="#14507a"/><circle cx="419.0" cy="361.8" r="1.7" fill="#14507a"/><circle cx="417.2" cy="361.5" r="2.0" fill="#14507a"/><circle cx="415.7" cy="359.7" r="1.4" fill="#14507a"/><circle cx="415.7" cy="358.6" r="2.0" fill="#14507a"/><circle cx="417.0" cy="356.6" r="1.3" fill="#14507a"/><circle cx="418.6" cy="356.1" r="1.8" fill="#14507a"/><circle cx="420.4" cy="356.9" r="1.5" fill="#14507a"/>
<path d="M324.0,338.5 L331.0,338.0 L329.0,342.0 L326.0,341.0Z" fill="#14507a" stroke="#14507a" stroke-width="1" stroke-linejoin="round"/><circle cx="324.5" cy="339.3" r="2.3" fill="#14507a"/><circle cx="328.8" cy="340.2" r="2.3" fill="#14507a"/><circle cx="330.3" cy="337.0" r="2.3" fill="#14507a"/><circle cx="329.8" cy="341.1" r="2.1" fill="#14507a"/><circle cx="327.6" cy="339.5" r="2.4" fill="#14507a"/>
<path d="M346.3,388.9 L353.9,392.2 L350.5,395.6" fill="none" stroke="#14507a" stroke-width="6.3" stroke-linecap="round" stroke-linejoin="round"/><circle cx="345.4" cy="388.4" r="3.7" fill="#14507a"/><circle cx="349.3" cy="391.2" r="3.8" fill="#14507a"/><circle cx="353.0" cy="392.5" r="3.2" fill="#14507a"/><circle cx="351.2" cy="395.2" r="2.4" fill="#14507a"/>
<path d="M326.8,401.0 L330.4,399.6" fill="none" stroke="#14507a" stroke-width="4.2" stroke-linecap="round" stroke-linejoin="round"/><circle cx="327.3" cy="400.5" r="2.4" fill="#14507a"/><circle cx="328.1" cy="400.6" r="2.0" fill="#14507a"/><circle cx="329.8" cy="399.1" r="1.7" fill="#14507a"/>
<path d="M365.7,432.8 L370.8,429.4 L377.6,431.9 L386.0,434.5" fill="none" stroke="#14507a" stroke-width="7.4" stroke-linecap="round" stroke-linejoin="round"/><circle cx="365.1" cy="432.4" r="4.2" fill="#14507a"/><circle cx="370.9" cy="429.2" r="3.5" fill="#14507a"/><circle cx="373.8" cy="430.6" r="4.3" fill="#14507a"/><circle cx="377.0" cy="431.1" r="4.2" fill="#14507a"/><circle cx="381.4" cy="434.1" r="4.1" fill="#14507a"/><circle cx="385.7" cy="434.1" r="4.1" fill="#14507a"/>
<path d="M397.8,419.3 L406.3,409.1 L411.4,410.8 L418.1,402.4 L424.9,409.1 L429.9,412.5 L434.2,403.2 L438.4,409.1 L445.1,412.5 L443.4,417.6 L436.7,420.9 L436.7,431.1 L429.9,426.9 L423.2,424.3 L413.0,424.3 L404.6,421.8Z" fill="#14507a" stroke="#14507a" stroke-width="1.6" stroke-linejoin="round"/><circle cx="397.7" cy="421.0" r="2.0" fill="#14507a"/><circle cx="400.0" cy="417.2" r="1.7" fill="#14507a"/><circle cx="403.1" cy="415.0" r="2.2" fill="#14507a"/><circle cx="404.1" cy="414.0" r="2.1" fill="#14507a"/><circle cx="405.3" cy="411.1" r="2.5" fill="#14507a"/><circle cx="407.0" cy="410.4" r="1.8" fill="#14507a"/><circle cx="409.5" cy="410.3" r="1.6" fill="#14507a"/><circle cx="412.7" cy="412.4" r="2.2" fill="#14507a"/><circle cx="413.0" cy="410.7" r="1.6" fill="#14507a"/><circle cx="415.3" cy="408.6" r="2.5" fill="#14507a"/><circle cx="418.0" cy="404.1" r="2.6" fill="#14507a"/><circle cx="417.0" cy="402.0" r="2.5" fill="#14507a"/><circle cx="420.6" cy="404.3" r="2.0" fill="#14507a"/><circle cx="422.8" cy="407.3" r="1.8" fill="#14507a"/><circle cx="425.0" cy="409.9" r="2.8" fill="#14507a"/><circle cx="427.7" cy="412.7" r="2.4" fill="#14507a"/><circle cx="430.2" cy="413.5" r="2.2" fill="#14507a"/><circle cx="432.0" cy="410.9" r="1.8" fill="#14507a"/><circle cx="432.4" cy="409.4" r="1.9" fill="#14507a"/><circle cx="433.2" cy="407.3" r="2.1" fill="#14507a"/><circle cx="433.7" cy="403.5" r="1.6" fill="#14507a"/><circle cx="434.2" cy="406.7" r="1.8" fill="#14507a"/><circle cx="437.1" cy="407.3" r="2.7" fill="#14507a"/><circle cx="437.0" cy="410.0" r="1.6" fill="#14507a"/><circle cx="439.2" cy="411.4" r="1.9" fill="#14507a"/><circle cx="442.4" cy="411.7" r="1.8" fill="#14507a"/><circle cx="443.5" cy="413.2" r="1.5" fill="#14507a"/><circle cx="442.9" cy="415.6" r="2.2" fill="#14507a"/><circle cx="442.2" cy="417.8" r="1.6" fill="#14507a"/><circle cx="439.7" cy="416.4" r="2.0" fill="#14507a"/><circle cx="439.3" cy="418.2" r="1.8" fill="#14507a"/><circle cx="436.3" cy="419.8" r="1.4" fill="#14507a"/><circle cx="435.9" cy="422.4" r="2.1" fill="#14507a"/><circle cx="434.6" cy="426.3" r="2.6" fill="#14507a"/><circle cx="435.4" cy="428.0" r="2.3" fill="#14507a"/><circle cx="437.9" cy="428.9" r="1.7" fill="#14507a"/><circle cx="434.7" cy="428.7" r="1.8" fill="#14507a"/><circle cx="433.2" cy="426.6" r="2.7" fill="#14507a"/><circle cx="429.9" cy="425.1" r="1.5" fill="#14507a"/><circle cx="426.0" cy="423.7" r="2.6" fill="#14507a"/><circle cx="423.0" cy="423.0" r="2.7" fill="#14507a"/><circle cx="421.9" cy="423.8" r="1.7" fill="#14507a"/><circle cx="417.7" cy="423.1" r="1.8" fill="#14507a"/><circle cx="415.2" cy="422.4" r="1.7" fill="#14507a"/><circle cx="414.0" cy="423.4" r="2.0" fill="#14507a"/><circle cx="410.5" cy="422.6" r="2.4" fill="#14507a"/><circle cx="406.5" cy="422.4" r="2.0" fill="#14507a"/><circle cx="404.6" cy="421.9" r="2.5" fill="#14507a"/><circle cx="402.4" cy="418.6" r="2.0" fill="#14507a"/><circle cx="400.3" cy="418.7" r="1.5" fill="#14507a"/>
<ellipse cx="487.4" cy="374.2" rx="4.5" ry="3.5" fill="#14507a" transform="rotate(20 487.4 374.2)"/>
<path d="M456.5,253.7 L464.6,252.7" fill="none" stroke="#97d0dd" stroke-width="5.7" stroke-linecap="round" stroke-linejoin="round"/><circle cx="456.1" cy="254.2" r="2.9" fill="#97d0dd"/><circle cx="458.8" cy="254.0" r="2.8" fill="#97d0dd"/><circle cx="461.1" cy="252.6" r="2.7" fill="#97d0dd"/><circle cx="464.5" cy="253.4" r="2.2" fill="#97d0dd"/>
<circle cx="480.2" cy="258.6" r="4.2" fill="#97d0dd"/><circle cx="483.0" cy="259.1" r="1.8" fill="#97d0dd"/><circle cx="482.6" cy="260.1" r="1.5" fill="#97d0dd"/><circle cx="481.0" cy="261.4" r="1.6" fill="#97d0dd"/><circle cx="478.6" cy="261.0" r="1.3" fill="#97d0dd"/><circle cx="477.5" cy="259.6" r="1.6" fill="#97d0dd"/><circle cx="477.6" cy="257.4" r="1.9" fill="#97d0dd"/><circle cx="478.7" cy="256.2" r="1.7" fill="#97d0dd"/><circle cx="480.4" cy="255.7" r="1.6" fill="#97d0dd"/><circle cx="482.5" cy="256.9" r="1.3" fill="#97d0dd"/>
<circle cx="479.8" cy="278.5" r="4.0" fill="#97d0dd"/><circle cx="482.6" cy="278.5" r="1.6" fill="#97d0dd"/><circle cx="482.0" cy="280.2" r="1.4" fill="#97d0dd"/><circle cx="479.4" cy="281.2" r="1.5" fill="#97d0dd"/><circle cx="478.1" cy="280.7" r="1.4" fill="#97d0dd"/><circle cx="477.0" cy="278.5" r="1.5" fill="#97d0dd"/><circle cx="477.7" cy="276.7" r="1.5" fill="#97d0dd"/><circle cx="479.5" cy="275.8" r="1.6" fill="#97d0dd"/><circle cx="481.8" cy="276.6" r="1.3" fill="#97d0dd"/>
<path d="M502.6,269.3 L507.7,274.3 L517.8,271.8 L522.0,273.5" fill="none" stroke="#97d0dd" stroke-width="7.6" stroke-linecap="round" stroke-linejoin="round"/><circle cx="502.1" cy="270.5" r="3.9" fill="#97d0dd"/><circle cx="504.3" cy="272.3" r="4.5" fill="#97d0dd"/><circle cx="506.8" cy="275.2" r="3.4" fill="#97d0dd"/><circle cx="511.8" cy="273.8" r="4.4" fill="#97d0dd"/><circle cx="514.6" cy="273.1" r="4.5" fill="#97d0dd"/><circle cx="518.7" cy="272.7" r="4.0" fill="#97d0dd"/><circle cx="521.3" cy="273.6" r="3.4" fill="#97d0dd"/>
<circle cx="574.4" cy="265.9" r="2.1" fill="#97d0dd"/>
<circle cx="434.9" cy="333.3" r="4.5" fill="#97d0dd"/><circle cx="438.0" cy="333.4" r="1.6" fill="#97d0dd"/><circle cx="436.9" cy="335.6" r="2.0" fill="#97d0dd"/><circle cx="435.2" cy="336.3" r="1.8" fill="#97d0dd"/><circle cx="433.2" cy="335.8" r="1.5" fill="#97d0dd"/><circle cx="431.9" cy="334.0" r="1.5" fill="#97d0dd"/><circle cx="432.2" cy="331.8" r="1.9" fill="#97d0dd"/><circle cx="433.1" cy="330.8" r="1.5" fill="#97d0dd"/><circle cx="435.6" cy="330.3" r="1.7" fill="#97d0dd"/><circle cx="437.4" cy="331.5" r="1.4" fill="#97d0dd"/>
<circle cx="441.6" cy="339.3" r="5.4" fill="#97d0dd"/><circle cx="445.2" cy="339.8" r="2.0" fill="#97d0dd"/><circle cx="444.7" cy="341.2" r="2.3" fill="#97d0dd"/><circle cx="443.0" cy="342.7" r="2.1" fill="#97d0dd"/><circle cx="441.4" cy="343.0" r="2.1" fill="#97d0dd"/><circle cx="439.8" cy="342.5" r="1.9" fill="#97d0dd"/><circle cx="438.0" cy="339.9" r="1.7" fill="#97d0dd"/><circle cx="438.0" cy="338.9" r="2.4" fill="#97d0dd"/><circle cx="439.1" cy="336.6" r="2.1" fill="#97d0dd"/><circle cx="441.2" cy="335.6" r="2.3" fill="#97d0dd"/><circle cx="442.9" cy="335.9" r="2.4" fill="#97d0dd"/><circle cx="444.2" cy="336.7" r="2.4" fill="#97d0dd"/>
<circle cx="429.8" cy="342.6" r="4.5" fill="#97d0dd"/><circle cx="432.9" cy="342.4" r="1.9" fill="#97d0dd"/><circle cx="432.3" cy="344.4" r="2.0" fill="#97d0dd"/><circle cx="430.5" cy="345.6" r="1.8" fill="#97d0dd"/><circle cx="428.5" cy="345.4" r="2.0" fill="#97d0dd"/><circle cx="426.8" cy="343.3" r="1.5" fill="#97d0dd"/><circle cx="427.0" cy="341.3" r="2.1" fill="#97d0dd"/><circle cx="428.0" cy="340.1" r="1.5" fill="#97d0dd"/><circle cx="430.8" cy="339.7" r="2.1" fill="#97d0dd"/><circle cx="431.8" cy="340.3" r="2.0" fill="#97d0dd"/>
<circle cx="431.5" cy="347.7" r="3.1" fill="#97d0dd"/><circle cx="433.6" cy="348.1" r="1.1" fill="#97d0dd"/><circle cx="432.4" cy="349.7" r="1.1" fill="#97d0dd"/><circle cx="430.2" cy="349.4" r="1.2" fill="#97d0dd"/><circle cx="429.4" cy="347.7" r="1.0" fill="#97d0dd"/><circle cx="430.5" cy="345.8" r="1.3" fill="#97d0dd"/><circle cx="432.4" cy="345.8" r="1.0" fill="#97d0dd"/>
<circle cx="436" cy="340" r="4.5" fill="#97d0dd"/><circle cx="439.0" cy="339.5" r="1.6" fill="#97d0dd"/><circle cx="437.9" cy="342.4" r="2.0" fill="#97d0dd"/><circle cx="436.0" cy="343.1" r="2.0" fill="#97d0dd"/><circle cx="434.9" cy="342.8" r="1.7" fill="#97d0dd"/><circle cx="433.0" cy="340.5" r="2.0" fill="#97d0dd"/><circle cx="433.4" cy="338.4" r="2.0" fill="#97d0dd"/><circle cx="434.7" cy="337.2" r="2.0" fill="#97d0dd"/><circle cx="437.0" cy="337.1" r="1.7" fill="#97d0dd"/><circle cx="437.9" cy="337.6" r="1.6" fill="#97d0dd"/>
<circle cx="500" cy="321.5" r="7.2" fill="#97d0dd"/><circle cx="504.8" cy="320.6" r="2.5" fill="#97d0dd"/><circle cx="504.4" cy="323.7" r="2.5" fill="#97d0dd"/><circle cx="503.6" cy="324.8" r="2.3" fill="#97d0dd"/><circle cx="501.8" cy="326.1" r="2.8" fill="#97d0dd"/><circle cx="499.3" cy="326.3" r="3.4" fill="#97d0dd"/><circle cx="498.3" cy="326.1" r="2.5" fill="#97d0dd"/><circle cx="496.6" cy="325.0" r="3.4" fill="#97d0dd"/><circle cx="495.2" cy="322.3" r="3.0" fill="#97d0dd"/><circle cx="495.4" cy="319.9" r="2.2" fill="#97d0dd"/><circle cx="496.6" cy="318.0" r="2.6" fill="#97d0dd"/><circle cx="497.8" cy="317.1" r="2.7" fill="#97d0dd"/><circle cx="500.0" cy="316.6" r="2.6" fill="#97d0dd"/><circle cx="501.1" cy="316.7" r="2.5" fill="#97d0dd"/><circle cx="503.6" cy="318.2" r="2.8" fill="#97d0dd"/><circle cx="504.2" cy="318.9" r="2.6" fill="#97d0dd"/>
<path d="M498.5,327.0 L492.4,339.3" fill="none" stroke="#97d0dd" stroke-width="5.2" stroke-linecap="round" stroke-linejoin="round"/><circle cx="498.3" cy="327.2" r="2.6" fill="#97d0dd"/><circle cx="497.5" cy="330.0" r="3.0" fill="#97d0dd"/><circle cx="496.7" cy="332.7" r="2.3" fill="#97d0dd"/><circle cx="494.0" cy="333.7" r="2.6" fill="#97d0dd"/><circle cx="494.2" cy="337.2" r="2.8" fill="#97d0dd"/><circle cx="492.5" cy="338.7" r="2.6" fill="#97d0dd"/>
<path d="M492.5,349.4 L493.5,358.0" fill="none" stroke="#97d0dd" stroke-width="5.2" stroke-linecap="round" stroke-linejoin="round"/><circle cx="493.3" cy="348.9" r="2.7" fill="#97d0dd"/><circle cx="493.4" cy="352.5" r="2.7" fill="#97d0dd"/><circle cx="492.7" cy="355.5" r="2.4" fill="#97d0dd"/><circle cx="494.1" cy="357.8" r="3.0" fill="#97d0dd"/>
<path d="M490.0,349.0 L496.5,349.0 L497.5,358.0 L499.2,366.0 L495.0,369.5 L484.0,366.0 L487.5,360.5 L490.0,357.0Z" fill="#97d0dd" stroke="#97d0dd" stroke-width="1.6" stroke-linejoin="round"/><circle cx="490.6" cy="351.0" r="1.9" fill="#97d0dd"/><circle cx="493.9" cy="349.9" r="1.7" fill="#97d0dd"/><circle cx="494.0" cy="349.7" r="2.5" fill="#97d0dd"/><circle cx="494.5" cy="351.0" r="1.8" fill="#97d0dd"/><circle cx="495.2" cy="355.7" r="1.7" fill="#97d0dd"/><circle cx="496.5" cy="358.4" r="1.9" fill="#97d0dd"/><circle cx="497.8" cy="360.8" r="2.1" fill="#97d0dd"/><circle cx="497.9" cy="363.3" r="1.7" fill="#97d0dd"/><circle cx="499.6" cy="365.7" r="2.2" fill="#97d0dd"/><circle cx="496.3" cy="367.1" r="1.8" fill="#97d0dd"/><circle cx="494.3" cy="368.5" r="2.7" fill="#97d0dd"/><circle cx="491.6" cy="368.7" r="1.9" fill="#97d0dd"/><circle cx="491.2" cy="367.3" r="1.8" fill="#97d0dd"/><circle cx="486.4" cy="366.7" r="2.8" fill="#97d0dd"/><circle cx="485.8" cy="366.9" r="2.2" fill="#97d0dd"/><circle cx="487.5" cy="364.7" r="2.6" fill="#97d0dd"/><circle cx="487.9" cy="362.0" r="2.7" fill="#97d0dd"/><circle cx="491.4" cy="355.7" r="1.7" fill="#97d0dd"/><circle cx="491.6" cy="354.1" r="2.7" fill="#97d0dd"/><circle cx="491.6" cy="352.2" r="1.6" fill="#97d0dd"/>
<path d="M350.5,356.8 L346.3,364.4 L353.9,362.7Z" fill="#97d0dd" stroke="#97d0dd" stroke-width="1.6" stroke-linejoin="round"/><circle cx="351.6" cy="357.9" r="2.7" fill="#97d0dd"/><circle cx="351.2" cy="359.3" r="2.1" fill="#97d0dd"/><circle cx="350.0" cy="361.4" r="1.5" fill="#97d0dd"/><circle cx="345.2" cy="363.8" r="1.9" fill="#97d0dd"/><circle cx="349.1" cy="363.5" r="2.5" fill="#97d0dd"/><circle cx="349.9" cy="362.6" r="2.5" fill="#97d0dd"/><circle cx="353.4" cy="364.2" r="2.5" fill="#97d0dd"/><circle cx="351.5" cy="361.3" r="2.2" fill="#97d0dd"/>
<path d="M426.6,385.5 L435.0,382.5 L443.4,377.9" fill="none" stroke="#97d0dd" stroke-width="6.6" stroke-linecap="round" stroke-linejoin="round"/><circle cx="426.1" cy="386.4" r="2.7" fill="#97d0dd"/><circle cx="430.7" cy="384.8" r="3.0" fill="#97d0dd"/><circle cx="435.6" cy="382.4" r="3.5" fill="#97d0dd"/><circle cx="436.9" cy="380.3" r="3.3" fill="#97d0dd"/><circle cx="440.7" cy="379.5" r="2.7" fill="#97d0dd"/><circle cx="443.7" cy="377.1" r="2.6" fill="#97d0dd"/>
<path d="M331.5,409.8 L334.8,408.5" fill="none" stroke="#97d0dd" stroke-width="3.8" stroke-linecap="round" stroke-linejoin="round"/><circle cx="330.9" cy="409.8" r="1.8" fill="#97d0dd"/><circle cx="335.3" cy="408.3" r="1.5" fill="#97d0dd"/>
<ellipse cx="351.4" cy="413.3" rx="3.1" ry="4.0" fill="#97d0dd"/>
<path d="M379.3,402.4 L375.9,409.1 L384.3,408.3Z" fill="#97d0dd" stroke="#97d0dd" stroke-width="1.6" stroke-linejoin="round"/><circle cx="381.2" cy="402.8" r="1.9" fill="#97d0dd"/><circle cx="380.1" cy="404.6" r="2.1" fill="#97d0dd"/><circle cx="378.5" cy="408.7" r="2.4" fill="#97d0dd"/><circle cx="374.6" cy="407.8" r="2.7" fill="#97d0dd"/><circle cx="379.5" cy="407.3" r="1.6" fill="#97d0dd"/><circle cx="380.8" cy="408.0" r="1.7" fill="#97d0dd"/><circle cx="384.4" cy="408.5" r="2.4" fill="#97d0dd"/><circle cx="382.2" cy="406.4" r="2.1" fill="#97d0dd"/><circle cx="380.4" cy="404.5" r="2.1" fill="#97d0dd"/>
<ellipse cx="352.6" cy="429.4" rx="2.5" ry="3.6" fill="#97d0dd"/>
<path d="M466.3,386.3 L473.9,392.2 L479.0,397.3" fill="none" stroke="#97d0dd" stroke-width="7.6" stroke-linecap="round" stroke-linejoin="round"/><circle cx="467.4" cy="385.8" r="3.9" fill="#97d0dd"/><circle cx="470.1" cy="389.5" r="3.1" fill="#97d0dd"/><circle cx="474.9" cy="391.5" r="3.7" fill="#97d0dd"/><circle cx="476.4" cy="394.0" r="3.7" fill="#97d0dd"/><circle cx="478.9" cy="397.0" r="3.6" fill="#97d0dd"/>
<path d="M479.0,398.0 L468.9,404.1 L461.3,410.8 L457.9,416.7" fill="none" stroke="#97d0dd" stroke-width="4.3" stroke-linecap="round" stroke-linejoin="round"/><circle cx="479.7" cy="398.6" r="2.3" fill="#97d0dd"/><circle cx="477.1" cy="399.6" r="1.8" fill="#97d0dd"/><circle cx="475.1" cy="399.4" r="1.7" fill="#97d0dd"/><circle cx="474.0" cy="401.0" r="2.5" fill="#97d0dd"/><circle cx="472.8" cy="402.7" r="1.7" fill="#97d0dd"/><circle cx="471.1" cy="403.2" r="2.3" fill="#97d0dd"/><circle cx="468.5" cy="403.8" r="1.9" fill="#97d0dd"/><circle cx="467.2" cy="404.8" r="1.7" fill="#97d0dd"/><circle cx="466.4" cy="407.3" r="1.6" fill="#97d0dd"/><circle cx="464.1" cy="408.1" r="2.4" fill="#97d0dd"/><circle cx="463.2" cy="409.2" r="2.1" fill="#97d0dd"/><circle cx="461.4" cy="411.3" r="2.1" fill="#97d0dd"/><circle cx="459.5" cy="412.6" r="1.9" fill="#97d0dd"/><circle cx="458.6" cy="414.9" r="2.5" fill="#97d0dd"/><circle cx="457.6" cy="416.9" r="1.7" fill="#97d0dd"/>
</g>
<use href="#spain" fill="none" stroke="#222" stroke-width="1.2" stroke-linejoin="round"/>
<use href="#others" stroke="#222" stroke-width="1.2" stroke-linejoin="round"/>
</g>
<path d="M282,572.4 H361.4 V447" fill="none" stroke="#fdbf1c" stroke-width="4.7" stroke-linejoin="round"/>
<path d="M582,571.2 H494.5 V352" fill="none" stroke="#97d0dd" stroke-width="4.9" stroke-linejoin="round"/>
<circle cx="282.2" cy="572.6" r="12.3" fill="#fdbf1c"/>
<circle cx="582.6" cy="570.7" r="12.3" fill="#97d0dd"/>
<path d="M378,136.4 V250" fill="none" stroke="#be8723" stroke-width="4.7"/>
<path d="M517.2,135.8 V250" fill="none" stroke="#14507a" stroke-width="4.8"/>
<g id="map1">
<rect x="42.6" y="167.3" width="210.4" height="166" fill="none" stroke="#332f2d" stroke-width="1.05"/>
<g transform="translate(-58.9 89.8) scale(0.49)">
<use href="#spain" fill="#a8a9ab"/>
</g>
<g clip-path="url(#c1)"><g transform="translate(70 180) scale(0.19142)">
<circle cx="291.0" cy="194.1" r="8.3" fill="#555a72"/>
<circle cx="344.0" cy="228.5" r="9.8" fill="#a79abf"/>
<circle cx="219.4" cy="239.4" r="8.3" fill="#a79abf"/>
<circle cx="316.1" cy="302.3" r="8.8" fill="#a79abf"/>
<circle cx="366.9" cy="321.6" r="9.4" fill="#7f7fa6"/>
<circle cx="424.6" cy="216.3" r="8.4" fill="#a79abf"/>
<circle cx="287.1" cy="300.6" r="12.5" fill="#a79abf"/>
<circle cx="369.7" cy="229.6" r="8.2" fill="#7f7fa6"/>
<circle cx="380.1" cy="238.4" r="12.5" fill="#7f7fa6"/>
<circle cx="323.3" cy="218.0" r="10.4" fill="#555a72"/>
<circle cx="271.0" cy="261.9" r="11.1" fill="#7f7fa6"/>
<circle cx="392.4" cy="216.1" r="8.4" fill="#2c2e3d"/>
<circle cx="314.5" cy="291.1" r="9.7" fill="#a79abf"/>
<circle cx="219.8" cy="276.9" r="12.5" fill="#555a72"/>
<circle cx="428.9" cy="220.2" r="10.1" fill="#555a72"/>
<circle cx="355.0" cy="243.0" r="11.3" fill="#2c2e3d"/>
<circle cx="328.5" cy="276.3" r="10.5" fill="#a79abf"/>
<circle cx="415.5" cy="215.5" r="10.3" fill="#7f7fa6"/>
<circle cx="215.6" cy="243.9" r="8.4" fill="#a79abf"/>
<circle cx="242.3" cy="209.6" r="13.8" fill="#7f7fa6"/>
<circle cx="230.1" cy="241.9" r="11.1" fill="#7f7fa6"/>
<circle cx="414.8" cy="308.2" r="9.5" fill="#7f7fa6"/>
<circle cx="299.7" cy="311.5" r="8.5" fill="#2c2e3d"/>
<circle cx="254.1" cy="207.1" r="9.7" fill="#a79abf"/>
<circle cx="357.3" cy="212.0" r="9.5" fill="#a79abf"/>
<circle cx="302.3" cy="260.6" r="10.4" fill="#2c2e3d"/>
<circle cx="338.9" cy="268.8" r="8.2" fill="#555a72"/>
<circle cx="434.9" cy="294.8" r="10.8" fill="#2c2e3d"/>
<circle cx="308.1" cy="233.8" r="10.2" fill="#a79abf"/>
<circle cx="262.2" cy="196.0" r="8.2" fill="#7f7fa6"/>
<circle cx="235.4" cy="228.2" r="11.1" fill="#a79abf"/>
<circle cx="363.5" cy="193.8" r="9.2" fill="#7f7fa6"/>
<circle cx="301.0" cy="189.7" r="11.5" fill="#2c2e3d"/>
<circle cx="326.5" cy="247.4" r="8.4" fill="#a79abf"/>
<circle cx="295.7" cy="212.4" r="8.6" fill="#555a72"/>
<circle cx="342.1" cy="193.5" r="8.1" fill="#7f7fa6"/>
<circle cx="342.0" cy="326.6" r="10.4" fill="#2c2e3d"/>
<circle cx="275.3" cy="228.7" r="10.7" fill="#a79abf"/>
<circle cx="343.1" cy="294.6" r="8.8" fill="#7f7fa6"/>
<circle cx="423.2" cy="299.0" r="10.6" fill="#555a72"/>
<circle cx="266.7" cy="252.8" r="8.1" fill="#7f7fa6"/>
<circle cx="274.8" cy="280.8" r="9.6" fill="#2c2e3d"/>
<circle cx="448.8" cy="228.3" r="8.8" fill="#a79abf"/>
<circle cx="259.2" cy="202.7" r="11.2" fill="#555a72"/>
<circle cx="420.1" cy="246.7" r="10.8" fill="#555a72"/>
<circle cx="231.2" cy="275.7" r="10.7" fill="#2c2e3d"/>
<circle cx="397.5" cy="246.5" r="10.8" fill="#a79abf"/>
<circle cx="293.1" cy="298.1" r="9.4" fill="#2c2e3d"/>
<circle cx="310.3" cy="321.5" r="8.6" fill="#555a72"/>
<circle cx="246.5" cy="302.2" r="10.3" fill="#2c2e3d"/>
<circle cx="297.6" cy="257.8" r="10.0" fill="#a79abf"/>
<circle cx="452.7" cy="273.9" r="11.3" fill="#7f7fa6"/>
<circle cx="318.5" cy="309.5" r="8.7" fill="#555a72"/>
<circle cx="273.0" cy="216.9" r="10.1" fill="#a79abf"/>
<circle cx="274.8" cy="237.0" r="11.2" fill="#a79abf"/>
<circle cx="298.4" cy="243.3" r="11.2" fill="#555a72"/>
<circle cx="315.2" cy="316.8" r="9.9" fill="#7f7fa6"/>
<circle cx="340.9" cy="173.0" r="8.6" fill="#7f7fa6"/>
<circle cx="253.1" cy="245.8" r="9.9" fill="#555a72"/>
<circle cx="291.5" cy="252.9" r="10.7" fill="#7f7fa6"/>
<circle cx="236.5" cy="259.6" r="11.2" fill="#a79abf"/>
<circle cx="403.1" cy="251.2" r="10.7" fill="#7f7fa6"/>
<circle cx="438.1" cy="240.9" r="9.8" fill="#555a72"/>
<circle cx="338.0" cy="280.8" r="9.9" fill="#7f7fa6"/>
<circle cx="329.5" cy="320.6" r="11.1" fill="#555a72"/>
<circle cx="349.9" cy="320.9" r="8.5" fill="#2c2e3d"/>
<circle cx="240.4" cy="240.7" r="8.8" fill="#a79abf"/>
<circle cx="228.3" cy="277.1" r="11.1" fill="#555a72"/>
<circle cx="248.6" cy="284.6" r="8.5" fill="#555a72"/>
<circle cx="309.6" cy="248.0" r="10.9" fill="#2c2e3d"/>
<circle cx="250.4" cy="239.0" r="9.2" fill="#7f7fa6"/>
<circle cx="258.9" cy="221.0" r="8.1" fill="#555a72"/>
<circle cx="348.5" cy="240.5" r="9.2" fill="#a79abf"/>
<circle cx="366.0" cy="252.0" r="11.4" fill="#a79abf"/>
<circle cx="236.2" cy="212.5" r="10.7" fill="#a79abf"/>
<circle cx="277.6" cy="190.7" r="11.2" fill="#7f7fa6"/>
<circle cx="414.7" cy="211.4" r="11.2" fill="#a79abf"/>
<circle cx="352.6" cy="282.1" r="8.2" fill="#a79abf"/>
<circle cx="382.1" cy="238.1" r="11.3" fill="#a79abf"/>
<circle cx="368.6" cy="298.3" r="13.8" fill="#a79abf"/>
<circle cx="323.4" cy="224.3" r="11.2" fill="#7f7fa6"/>
<circle cx="277.0" cy="190.7" r="8.8" fill="#7f7fa6"/>
<circle cx="288.0" cy="218.8" r="11.2" fill="#555a72"/>
<circle cx="335.0" cy="198.5" r="8.1" fill="#7f7fa6"/>
<circle cx="393.3" cy="258.2" r="9.7" fill="#a79abf"/>
<circle cx="414.7" cy="239.1" r="10.9" fill="#7f7fa6"/>
<circle cx="308.3" cy="251.1" r="11.4" fill="#555a72"/>
<circle cx="295.7" cy="303.2" r="10.2" fill="#555a72"/>
<circle cx="311.2" cy="225.6" r="8.5" fill="#a79abf"/>
<circle cx="227.7" cy="288.5" r="8.6" fill="#7f7fa6"/>
<circle cx="427.6" cy="277.3" r="8.8" fill="#7f7fa6"/>
<circle cx="283.3" cy="243.5" r="9.6" fill="#a79abf"/>
<circle cx="453.2" cy="257.5" r="11.4" fill="#a79abf"/>
<circle cx="287.4" cy="227.1" r="9.3" fill="#a79abf"/>
<circle cx="328.7" cy="250.4" r="9.8" fill="#a79abf"/>
<circle cx="232.4" cy="233.9" r="8.1" fill="#a79abf"/>
<circle cx="286.1" cy="207.2" r="9.9" fill="#555a72"/>
<circle cx="397.6" cy="275.2" r="11.1" fill="#555a72"/>
<circle cx="307.4" cy="222.2" r="8.5" fill="#2c2e3d"/>
<circle cx="391.0" cy="272.9" r="10.9" fill="#a79abf"/>
<circle cx="433.0" cy="270.4" r="10.8" fill="#555a72"/>
<circle cx="244.8" cy="253.8" r="10.9" fill="#7f7fa6"/>
<circle cx="411.2" cy="302.2" r="11.1" fill="#555a72"/>
<circle cx="380.7" cy="280.9" r="8.1" fill="#a79abf"/>
<circle cx="243.3" cy="227.7" r="10.9" fill="#a79abf"/>
<circle cx="349.6" cy="270.4" r="10.4" fill="#555a72"/>
<circle cx="332.3" cy="170.5" r="10.6" fill="#555a72"/>
<circle cx="335.7" cy="255.6" r="8.2" fill="#555a72"/>
<circle cx="394.2" cy="210.4" r="8.9" fill="#a79abf"/>
<circle cx="392.3" cy="202.8" r="11.4" fill="#555a72"/>
<circle cx="333.5" cy="231.2" r="10.4" fill="#7f7fa6"/>
<circle cx="401.7" cy="268.7" r="8.3" fill="#555a72"/>
<circle cx="246.9" cy="210.6" r="9.1" fill="#555a72"/>
<circle cx="351.9" cy="172.0" r="8.9" fill="#a79abf"/>
<circle cx="378.0" cy="280.7" r="11.2" fill="#555a72"/>
<circle cx="339.1" cy="244.3" r="8.4" fill="#7f7fa6"/>
<circle cx="433.4" cy="201.9" r="11.3" fill="#2c2e3d"/>
<circle cx="214.4" cy="243.4" r="11.4" fill="#555a72"/>
<circle cx="322.4" cy="213.0" r="11.3" fill="#a79abf"/>
<circle cx="262.7" cy="263.0" r="9.8" fill="#a79abf"/>
<circle cx="415.1" cy="251.4" r="10.5" fill="#2c2e3d"/>
<circle cx="267.8" cy="313.6" r="8.1" fill="#7f7fa6"/>
<circle cx="210.9" cy="248.7" r="9.1" fill="#7f7fa6"/>
<circle cx="245.2" cy="225.0" r="10.9" fill="#7f7fa6"/>
<circle cx="441.6" cy="284.1" r="11.2" fill="#2c2e3d"/>
<circle cx="303.1" cy="232.9" r="10.1" fill="#2c2e3d"/>
<circle cx="300.2" cy="238.5" r="8.2" fill="#7f7fa6"/>
<circle cx="281.4" cy="319.7" r="8.9" fill="#a79abf"/>
<circle cx="337.7" cy="200.4" r="11.3" fill="#7f7fa6"/>
<circle cx="431.1" cy="299.9" r="11.2" fill="#555a72"/>
<circle cx="445.2" cy="257.9" r="8.2" fill="#555a72"/>
<circle cx="393.1" cy="242.1" r="10.3" fill="#555a72"/>
<circle cx="281.6" cy="177.8" r="8.4" fill="#2c2e3d"/>
<circle cx="328.0" cy="225.0" r="10.6" fill="#7f7fa6"/>
<circle cx="374.0" cy="218.1" r="9.4" fill="#7f7fa6"/>
<circle cx="251.8" cy="195.9" r="11.2" fill="#a79abf"/>
<circle cx="334.3" cy="205.2" r="11.5" fill="#2c2e3d"/>
<circle cx="322.5" cy="192.3" r="8.3" fill="#a79abf"/>
<circle cx="295.5" cy="184.6" r="8.9" fill="#a79abf"/>
<circle cx="352.4" cy="312.0" r="9.4" fill="#555a72"/>
<circle cx="313.5" cy="253.9" r="9.2" fill="#7f7fa6"/>
<circle cx="225.5" cy="214.4" r="8.4" fill="#2c2e3d"/>
<circle cx="335.8" cy="270.7" r="8.8" fill="#2c2e3d"/>
<circle cx="277.8" cy="209.8" r="9.6" fill="#7f7fa6"/>
<circle cx="433.9" cy="245.7" r="10.0" fill="#555a72"/>
<circle cx="307.9" cy="318.3" r="13.8" fill="#555a72"/>
<circle cx="340.6" cy="279.1" r="10.5" fill="#2c2e3d"/>
<circle cx="371.8" cy="292.4" r="9.9" fill="#7f7fa6"/>
<circle cx="268.1" cy="317.2" r="9.1" fill="#555a72"/>
<circle cx="242.0" cy="210.3" r="10.4" fill="#555a72"/>
<circle cx="341.1" cy="263.3" r="8.8" fill="#7f7fa6"/>
<circle cx="360.3" cy="171.7" r="9.6" fill="#7f7fa6"/>
<circle cx="449.7" cy="273.1" r="9.7" fill="#2c2e3d"/>
<circle cx="268.7" cy="209.5" r="10.5" fill="#2c2e3d"/>
<circle cx="334.6" cy="277.9" r="8.9" fill="#7f7fa6"/>
<circle cx="376.8" cy="318.0" r="8.1" fill="#a79abf"/>
<circle cx="294.5" cy="237.3" r="8.7" fill="#555a72"/>
<circle cx="409.3" cy="288.3" r="8.7" fill="#7f7fa6"/>
<circle cx="415.0" cy="206.9" r="10.7" fill="#a79abf"/>
<circle cx="283.7" cy="322.3" r="8.7" fill="#7f7fa6"/>
<circle cx="265.8" cy="236.7" r="11.3" fill="#555a72"/>
<circle cx="246.6" cy="233.0" r="11.4" fill="#a79abf"/>
<circle cx="225.0" cy="232.9" r="11.1" fill="#2c2e3d"/>
<circle cx="442.9" cy="222.7" r="11.3" fill="#a79abf"/>
<circle cx="376.1" cy="230.6" r="9.2" fill="#7f7fa6"/>
<circle cx="280.0" cy="226.2" r="8.4" fill="#2c2e3d"/>
<circle cx="299.2" cy="301.5" r="9.5" fill="#555a72"/>
<circle cx="222.3" cy="245.8" r="11.2" fill="#7f7fa6"/>
<circle cx="258.3" cy="228.3" r="8.1" fill="#2c2e3d"/>
<circle cx="312.7" cy="299.9" r="8.1" fill="#555a72"/>
<circle cx="292.8" cy="286.4" r="11.1" fill="#2c2e3d"/>
<circle cx="240.5" cy="287.2" r="10.2" fill="#2c2e3d"/>
<circle cx="233.6" cy="312.1" r="11.2" fill="#555a72"/>
<circle cx="292.5" cy="307.5" r="8.1" fill="#2c2e3d"/>
<circle cx="231.0" cy="298.6" r="11.3" fill="#2c2e3d"/>
<circle cx="244.8" cy="286.1" r="9.7" fill="#555a72"/>
<circle cx="282.2" cy="313.4" r="10.7" fill="#2c2e3d"/>
<circle cx="264.7" cy="290.4" r="9.3" fill="#555a72"/>
<circle cx="227.8" cy="314.2" r="8.2" fill="#555a72"/>
<circle cx="213.0" cy="302.9" r="11.4" fill="#555a72"/>
<circle cx="233.8" cy="276.7" r="9.7" fill="#7f7fa6"/>
<circle cx="273.9" cy="297.0" r="9.5" fill="#555a72"/>
<circle cx="265.8" cy="309.8" r="13.8" fill="#2c2e3d"/>
<circle cx="269.8" cy="278.8" r="11.2" fill="#2c2e3d"/>
<circle cx="261.0" cy="292.9" r="8.7" fill="#2c2e3d"/>
<circle cx="232.3" cy="285.7" r="11.1" fill="#555a72"/>
<circle cx="262.0" cy="290.3" r="11.5" fill="#555a72"/>
<circle cx="255.7" cy="285.0" r="10.3" fill="#2c2e3d"/>
<circle cx="252.7" cy="317.9" r="11.2" fill="#2c2e3d"/>
<circle cx="220.7" cy="282.6" r="12.5" fill="#2c2e3d"/>
<circle cx="293.7" cy="292.8" r="9.6" fill="#2c2e3d"/>
<circle cx="233.4" cy="315.6" r="8.4" fill="#2c2e3d"/>
<circle cx="263.7" cy="306.7" r="9.3" fill="#555a72"/>
<circle cx="222.7" cy="283.4" r="10.1" fill="#555a72"/>
<circle cx="268.6" cy="283.4" r="9.1" fill="#7f7fa6"/>
<circle cx="271.0" cy="282.4" r="8.7" fill="#555a72"/>
<circle cx="281.6" cy="302.7" r="8.4" fill="#7f7fa6"/>
<circle cx="245.6" cy="302.8" r="8.3" fill="#2c2e3d"/>
<circle cx="224.7" cy="310.9" r="11.2" fill="#555a72"/>
<circle cx="237.7" cy="325.4" r="12.5" fill="#555a72"/>
<circle cx="242.1" cy="295.3" r="11.5" fill="#2c2e3d"/>
<circle cx="242.7" cy="283.0" r="8.7" fill="#2c2e3d"/>
<circle cx="248.1" cy="317.9" r="11.1" fill="#555a72"/>
<circle cx="251.5" cy="281.1" r="9.9" fill="#7f7fa6"/>
<circle cx="267.7" cy="322.9" r="10.2" fill="#7f7fa6"/>
<circle cx="243.4" cy="300.2" r="11.2" fill="#555a72"/>
<circle cx="256.9" cy="323.8" r="9.7" fill="#7f7fa6"/>
<circle cx="227.8" cy="279.1" r="11.4" fill="#2c2e3d"/>
<circle cx="253.4" cy="275.0" r="9.4" fill="#2c2e3d"/>
<circle cx="291.4" cy="306.7" r="8.6" fill="#2c2e3d"/>
<circle cx="363.6" cy="248.3" r="13.8" fill="#a79abf"/>
<circle cx="367.9" cy="246.0" r="9.4" fill="#a79abf"/>
<circle cx="336.8" cy="258.0" r="8.9" fill="#a79abf"/>
<circle cx="357.5" cy="288.8" r="12.5" fill="#a79abf"/>
<circle cx="345.0" cy="268.0" r="9.1" fill="#a79abf"/>
<circle cx="327.0" cy="270.0" r="10.3" fill="#a79abf"/>
<circle cx="329.7" cy="261.3" r="10.2" fill="#a79abf"/>
<circle cx="334.0" cy="249.1" r="10.7" fill="#7f7fa6"/>
<circle cx="330.8" cy="245.8" r="8.4" fill="#a79abf"/>
<circle cx="297.8" cy="260.8" r="9.5" fill="#a79abf"/>
<circle cx="336.0" cy="237.4" r="8.3" fill="#a79abf"/>
<circle cx="358.3" cy="281.7" r="8.2" fill="#a79abf"/>
<circle cx="335.4" cy="257.7" r="8.5" fill="#7f7fa6"/>
<circle cx="358.2" cy="283.9" r="11.4" fill="#a79abf"/>
<circle cx="334.2" cy="292.4" r="8.6" fill="#7f7fa6"/>
<circle cx="291.6" cy="256.1" r="8.6" fill="#7f7fa6"/>
<circle cx="374.7" cy="251.5" r="8.5" fill="#7f7fa6"/>
<circle cx="335.2" cy="290.2" r="8.9" fill="#a79abf"/>
<circle cx="335.6" cy="254.1" r="8.6" fill="#a79abf"/>
<circle cx="353.0" cy="288.7" r="10.7" fill="#a79abf"/>
<circle cx="296.5" cy="266.8" r="9.3" fill="#a79abf"/>
<circle cx="372.3" cy="268.3" r="11.1" fill="#a79abf"/>
<circle cx="348.0" cy="258.7" r="8.9" fill="#7f7fa6"/>
<circle cx="384.0" cy="269.6" r="10.7" fill="#a79abf"/>
<circle cx="329.2" cy="245.6" r="8.2" fill="#a79abf"/>
<circle cx="367.0" cy="250.2" r="11.4" fill="#a79abf"/>
<circle cx="343.6" cy="274.8" r="10.0" fill="#a79abf"/>
<circle cx="346.6" cy="260.9" r="11.1" fill="#a79abf"/>
<circle cx="298.2" cy="248.6" r="8.1" fill="#a79abf"/>
<circle cx="295.6" cy="256.4" r="12.5" fill="#a79abf"/>
<circle cx="343.9" cy="247.3" r="9.7" fill="#a79abf"/>
<circle cx="309.4" cy="244.0" r="10.2" fill="#a79abf"/>
<circle cx="372.1" cy="281.9" r="8.9" fill="#a79abf"/>
<circle cx="341.2" cy="256.0" r="9.6" fill="#a79abf"/>
<circle cx="378.7" cy="279.0" r="11.2" fill="#a79abf"/>
<circle cx="289.4" cy="266.9" r="8.8" fill="#a79abf"/>
<circle cx="286.2" cy="268.1" r="8.5" fill="#7f7fa6"/>
<circle cx="305.0" cy="271.5" r="10.2" fill="#a79abf"/>
<circle cx="366.3" cy="245.5" r="9.1" fill="#a79abf"/>
<circle cx="363.3" cy="277.9" r="13.8" fill="#a79abf"/>
<circle cx="414.4" cy="202.6" r="9.6" fill="#2c2e3d"/>
<circle cx="352.1" cy="177.4" r="8.1" fill="#555a72"/>
<circle cx="365.3" cy="222.5" r="13.8" fill="#2c2e3d"/>
<circle cx="410.4" cy="188.6" r="9.5" fill="#2c2e3d"/>
<circle cx="419.6" cy="206.6" r="10.2" fill="#555a72"/>
<circle cx="356.2" cy="186.5" r="11.3" fill="#2c2e3d"/>
<circle cx="414.5" cy="192.9" r="9.1" fill="#2c2e3d"/>
<circle cx="353.7" cy="233.5" r="10.4" fill="#2c2e3d"/>
<circle cx="381.3" cy="228.8" r="13.8" fill="#2c2e3d"/>
<circle cx="377.5" cy="220.7" r="9.1" fill="#2c2e3d"/>
<circle cx="350.4" cy="213.6" r="11.2" fill="#7f7fa6"/>
<circle cx="366.4" cy="179.9" r="8.1" fill="#7f7fa6"/>
<circle cx="408.1" cy="214.4" r="10.6" fill="#2c2e3d"/>
<circle cx="332.9" cy="211.3" r="10.9" fill="#555a72"/>
<circle cx="337.9" cy="184.4" r="8.1" fill="#7f7fa6"/>
<circle cx="426.7" cy="226.8" r="10.9" fill="#2c2e3d"/>
<circle cx="400.8" cy="190.1" r="8.3" fill="#7f7fa6"/>
<circle cx="415.9" cy="184.3" r="9.5" fill="#555a72"/>
<circle cx="358.9" cy="220.1" r="9.1" fill="#555a72"/>
<circle cx="440.7" cy="205.3" r="10.2" fill="#2c2e3d"/>
<circle cx="328.7" cy="198.9" r="10.7" fill="#555a72"/>
<circle cx="366.6" cy="219.3" r="8.8" fill="#2c2e3d"/>
<circle cx="423.4" cy="181.9" r="8.7" fill="#7f7fa6"/>
<circle cx="325.5" cy="204.4" r="10.8" fill="#555a72"/>
<circle cx="347.1" cy="204.6" r="10.9" fill="#555a72"/>
<circle cx="359.0" cy="185.0" r="9.7" fill="#2c2e3d"/>
<circle cx="338.2" cy="214.6" r="10.8" fill="#7f7fa6"/>
<circle cx="408.7" cy="225.1" r="9.2" fill="#2c2e3d"/>
<circle cx="373.2" cy="197.6" r="8.3" fill="#2c2e3d"/>
<circle cx="349.7" cy="188.4" r="9.8" fill="#2c2e3d"/>
<circle cx="370.5" cy="231.9" r="9.6" fill="#555a72"/>
<circle cx="388.8" cy="222.8" r="10.3" fill="#2c2e3d"/>
<circle cx="366.8" cy="192.9" r="13.8" fill="#555a72"/>
<circle cx="404.5" cy="221.9" r="9.5" fill="#555a72"/>
<circle cx="417.8" cy="210.5" r="9.6" fill="#555a72"/>
<circle cx="353.9" cy="174.3" r="9.1" fill="#7f7fa6"/>
<circle cx="328.4" cy="210.6" r="8.5" fill="#7f7fa6"/>
<circle cx="264.7" cy="179.6" r="8.6" fill="#7f7fa6"/>
<circle cx="275.9" cy="171.4" r="10.6" fill="#2c2e3d"/>
<circle cx="244.2" cy="183.1" r="10.8" fill="#2c2e3d"/>
<circle cx="332.7" cy="186.1" r="10.2" fill="#7f7fa6"/>
<circle cx="245.0" cy="172.4" r="8.1" fill="#7f7fa6"/>
<circle cx="285.9" cy="207.5" r="9.8" fill="#555a72"/>
<circle cx="318.5" cy="187.8" r="10.1" fill="#a79abf"/>
<circle cx="286.7" cy="204.5" r="9.5" fill="#2c2e3d"/>
<circle cx="310.4" cy="204.9" r="8.8" fill="#7f7fa6"/>
<circle cx="331.1" cy="212.8" r="10.5" fill="#555a72"/>
<circle cx="349.3" cy="200.8" r="9.6" fill="#555a72"/>
<circle cx="273.8" cy="197.7" r="9.5" fill="#a79abf"/>
<circle cx="339.5" cy="202.8" r="8.9" fill="#555a72"/>
<circle cx="289.3" cy="187.3" r="9.4" fill="#555a72"/>
<circle cx="324.5" cy="215.8" r="10.3" fill="#7f7fa6"/>
<circle cx="338.9" cy="183.3" r="11.4" fill="#7f7fa6"/>
<circle cx="235.3" cy="192.6" r="10.7" fill="#7f7fa6"/>
<circle cx="361.7" cy="191.2" r="12.5" fill="#a79abf"/>
<circle cx="305.7" cy="203.0" r="10.2" fill="#7f7fa6"/>
<circle cx="346.1" cy="191.3" r="11.3" fill="#7f7fa6"/>
<circle cx="259.4" cy="201.1" r="10.7" fill="#7f7fa6"/>
<circle cx="279.8" cy="163.4" r="9.4" fill="#7f7fa6"/>
<circle cx="231.9" cy="185.1" r="10.4" fill="#7f7fa6"/>
<circle cx="497.1" cy="250.4" r="10.6" fill="#a79abf"/>
<circle cx="602.4" cy="267.8" r="10.8" fill="#a79abf"/>
<circle cx="497.3" cy="236.8" r="10.7" fill="#a79abf"/>
<circle cx="595.1" cy="298.4" r="12.5" fill="#7f7fa6"/>
<circle cx="533.5" cy="328.2" r="10.9" fill="#555a72"/>
<circle cx="515.7" cy="249.2" r="8.4" fill="#7f7fa6"/>
<circle cx="571.3" cy="238.6" r="8.9" fill="#2c2e3d"/>
<circle cx="499.2" cy="246.5" r="8.7" fill="#7f7fa6"/>
<circle cx="485.5" cy="250.7" r="9.7" fill="#7f7fa6"/>
<circle cx="543.6" cy="323.2" r="9.3" fill="#555a72"/>
<circle cx="622.8" cy="323.5" r="10.9" fill="#a79abf"/>
<circle cx="536.9" cy="228.0" r="8.5" fill="#a79abf"/>
<circle cx="530.6" cy="364.5" r="8.5" fill="#7f7fa6"/>
<circle cx="623.3" cy="325.2" r="11.1" fill="#a79abf"/>
<circle cx="582.1" cy="341.8" r="11.1" fill="#555a72"/>
<circle cx="612.1" cy="342.4" r="10.4" fill="#a79abf"/>
<circle cx="567.7" cy="338.5" r="11.1" fill="#7f7fa6"/>
<circle cx="524.6" cy="237.4" r="8.5" fill="#a79abf"/>
<circle cx="496.1" cy="198.4" r="8.5" fill="#7f7fa6"/>
<circle cx="538.6" cy="290.2" r="13.8" fill="#7f7fa6"/>
<circle cx="541.7" cy="305.1" r="10.9" fill="#555a72"/>
<circle cx="515.1" cy="281.0" r="8.3" fill="#2c2e3d"/>
<circle cx="571.9" cy="309.7" r="10.1" fill="#a79abf"/>
<circle cx="606.8" cy="368.4" r="11.4" fill="#7f7fa6"/>
<circle cx="540.0" cy="286.1" r="8.1" fill="#2c2e3d"/>
<circle cx="581.8" cy="302.3" r="13.8" fill="#7f7fa6"/>
<circle cx="519.3" cy="293.2" r="10.7" fill="#7f7fa6"/>
<circle cx="494.4" cy="294.8" r="9.9" fill="#7f7fa6"/>
<circle cx="564.3" cy="226.1" r="9.4" fill="#555a72"/>
<circle cx="518.3" cy="242.2" r="11.4" fill="#7f7fa6"/>
<circle cx="589.4" cy="341.1" r="9.1" fill="#7f7fa6"/>
<circle cx="521.1" cy="320.7" r="10.7" fill="#555a72"/>
<circle cx="596.8" cy="275.0" r="9.1" fill="#a79abf"/>
<circle cx="607.9" cy="285.9" r="10.8" fill="#555a72"/>
<circle cx="606.6" cy="287.3" r="10.2" fill="#555a72"/>
<circle cx="576.1" cy="297.6" r="8.7" fill="#555a72"/>
<circle cx="558.6" cy="270.6" r="8.4" fill="#555a72"/>
<circle cx="617.6" cy="358.9" r="9.3" fill="#555a72"/>
<circle cx="611.7" cy="329.3" r="8.9" fill="#7f7fa6"/>
<circle cx="505.5" cy="286.2" r="9.5" fill="#7f7fa6"/>
<circle cx="601.4" cy="371.5" r="12.5" fill="#a79abf"/>
<circle cx="589.5" cy="286.0" r="9.6" fill="#2c2e3d"/>
<circle cx="463.0" cy="297.3" r="11.3" fill="#555a72"/>
<circle cx="603.0" cy="254.4" r="8.4" fill="#7f7fa6"/>
<circle cx="531.7" cy="220.9" r="8.1" fill="#a79abf"/>
<circle cx="544.8" cy="222.4" r="8.7" fill="#555a72"/>
<circle cx="603.6" cy="350.6" r="8.3" fill="#555a72"/>
<circle cx="577.8" cy="325.5" r="11.3" fill="#7f7fa6"/>
<circle cx="536.6" cy="349.8" r="13.8" fill="#a79abf"/>
<circle cx="495.4" cy="199.1" r="12.5" fill="#7f7fa6"/>
<circle cx="548.9" cy="330.8" r="10.8" fill="#a79abf"/>
<circle cx="535.5" cy="328.9" r="9.5" fill="#555a72"/>
<circle cx="552.3" cy="356.9" r="10.7" fill="#2c2e3d"/>
<circle cx="528.9" cy="242.5" r="11.4" fill="#a79abf"/>
<circle cx="599.5" cy="345.4" r="10.1" fill="#7f7fa6"/>
<circle cx="535.1" cy="243.7" r="11.1" fill="#7f7fa6"/>
<circle cx="541.2" cy="336.3" r="11.1" fill="#555a72"/>
<circle cx="560.7" cy="225.3" r="8.9" fill="#a79abf"/>
<circle cx="537.9" cy="313.0" r="11.1" fill="#555a72"/>
<circle cx="618.1" cy="346.8" r="11.2" fill="#7f7fa6"/>
<circle cx="617.6" cy="331.7" r="11.2" fill="#555a72"/>
<circle cx="478.8" cy="213.2" r="10.8" fill="#7f7fa6"/>
<circle cx="523.6" cy="361.1" r="8.8" fill="#2c2e3d"/>
<circle cx="571.8" cy="320.3" r="8.7" fill="#7f7fa6"/>
<circle cx="531.1" cy="357.9" r="9.6" fill="#555a72"/>
<circle cx="551.0" cy="217.1" r="11.1" fill="#7f7fa6"/>
<circle cx="594.5" cy="270.1" r="10.1" fill="#7f7fa6"/>
<circle cx="467.8" cy="245.6" r="10.5" fill="#a79abf"/>
<circle cx="527.6" cy="312.1" r="9.8" fill="#7f7fa6"/>
<circle cx="499.4" cy="342.6" r="8.5" fill="#555a72"/>
<circle cx="538.1" cy="251.5" r="8.1" fill="#7f7fa6"/>
<circle cx="588.4" cy="263.9" r="8.9" fill="#7f7fa6"/>
<circle cx="570.8" cy="256.9" r="10.7" fill="#2c2e3d"/>
<circle cx="468.3" cy="242.4" r="8.2" fill="#a79abf"/>
<circle cx="583.8" cy="363.6" r="11.3" fill="#7f7fa6"/>
<circle cx="543.4" cy="262.4" r="11.4" fill="#a79abf"/>
<circle cx="513.3" cy="318.8" r="11.3" fill="#555a72"/>
<circle cx="552.7" cy="257.0" r="8.6" fill="#7f7fa6"/>
<circle cx="492.4" cy="274.6" r="11.2" fill="#2c2e3d"/>
<circle cx="599.3" cy="315.5" r="11.4" fill="#555a72"/>
<circle cx="544.5" cy="236.8" r="10.7" fill="#555a72"/>
<circle cx="469.2" cy="278.3" r="8.4" fill="#7f7fa6"/>
<circle cx="505.2" cy="222.1" r="8.5" fill="#a79abf"/>
<circle cx="539.9" cy="212.7" r="11.2" fill="#a79abf"/>
<circle cx="485.9" cy="301.8" r="11.3" fill="#a79abf"/>
<circle cx="599.0" cy="295.1" r="9.2" fill="#7f7fa6"/>
<circle cx="581.7" cy="264.8" r="8.5" fill="#555a72"/>
<circle cx="574.2" cy="287.6" r="13.8" fill="#a79abf"/>
<circle cx="499.7" cy="286.4" r="8.9" fill="#a79abf"/>
<circle cx="570.1" cy="234.0" r="9.7" fill="#a79abf"/>
<circle cx="554.5" cy="385.6" r="11.4" fill="#a79abf"/>
<circle cx="534.8" cy="219.1" r="11.2" fill="#7f7fa6"/>
<circle cx="478.1" cy="243.2" r="11.5" fill="#7f7fa6"/>
<circle cx="464.8" cy="271.6" r="8.2" fill="#2c2e3d"/>
<circle cx="550.7" cy="232.6" r="8.1" fill="#2c2e3d"/>
<circle cx="566.3" cy="237.4" r="10.0" fill="#a79abf"/>
<circle cx="587.8" cy="274.5" r="9.5" fill="#a79abf"/>
<circle cx="568.6" cy="205.2" r="8.5" fill="#7f7fa6"/>
<circle cx="522.8" cy="366.7" r="8.7" fill="#555a72"/>
<circle cx="554.3" cy="282.2" r="8.7" fill="#7f7fa6"/>
<circle cx="575.5" cy="326.2" r="12.5" fill="#555a72"/>
<circle cx="562.7" cy="256.1" r="8.2" fill="#555a72"/>
<circle cx="566.2" cy="236.0" r="13.8" fill="#2c2e3d"/>
<circle cx="492.0" cy="189.4" r="9.7" fill="#2c2e3d"/>
<circle cx="567.9" cy="217.7" r="10.9" fill="#a79abf"/>
<circle cx="489.2" cy="228.3" r="10.1" fill="#7f7fa6"/>
<circle cx="474.6" cy="325.5" r="9.8" fill="#7f7fa6"/>
<circle cx="509.3" cy="358.8" r="13.8" fill="#555a72"/>
<circle cx="536.2" cy="345.4" r="10.6" fill="#7f7fa6"/>
<circle cx="601.2" cy="260.1" r="9.9" fill="#7f7fa6"/>
<circle cx="498.5" cy="187.7" r="8.8" fill="#2c2e3d"/>
<circle cx="536.9" cy="371.9" r="8.3" fill="#a79abf"/>
<circle cx="537.4" cy="213.8" r="10.1" fill="#a79abf"/>
<circle cx="552.6" cy="289.9" r="8.4" fill="#555a72"/>
<circle cx="611.3" cy="311.8" r="8.4" fill="#a79abf"/>
<circle cx="539.2" cy="290.6" r="8.4" fill="#7f7fa6"/>
<circle cx="491.9" cy="220.3" r="13.8" fill="#555a72"/>
<circle cx="499.1" cy="327.5" r="8.6" fill="#555a72"/>
<circle cx="517.1" cy="280.5" r="9.8" fill="#2c2e3d"/>
<circle cx="568.7" cy="388.6" r="9.2" fill="#555a72"/>
<circle cx="488.7" cy="272.1" r="11.4" fill="#7f7fa6"/>
<circle cx="616.6" cy="342.5" r="9.8" fill="#a79abf"/>
<circle cx="498.3" cy="289.7" r="9.3" fill="#555a72"/>
<circle cx="502.3" cy="198.3" r="9.8" fill="#7f7fa6"/>
<circle cx="612.3" cy="290.1" r="11.1" fill="#555a72"/>
<circle cx="536.5" cy="232.2" r="11.2" fill="#555a72"/>
<circle cx="587.0" cy="375.8" r="8.9" fill="#555a72"/>
<circle cx="536.3" cy="274.9" r="11.2" fill="#2c2e3d"/>
<circle cx="527.9" cy="333.1" r="10.1" fill="#a79abf"/>
<circle cx="603.3" cy="264.0" r="9.6" fill="#7f7fa6"/>
<circle cx="510.4" cy="214.6" r="8.5" fill="#a79abf"/>
<circle cx="502.9" cy="283.6" r="8.9" fill="#7f7fa6"/>
<circle cx="488.5" cy="325.8" r="10.1" fill="#2c2e3d"/>
<circle cx="564.2" cy="316.9" r="10.5" fill="#a79abf"/>
<circle cx="539.4" cy="302.5" r="9.6" fill="#555a72"/>
<circle cx="489.2" cy="248.3" r="9.8" fill="#a79abf"/>
<circle cx="532.4" cy="315.3" r="9.2" fill="#a79abf"/>
<circle cx="563.8" cy="212.6" r="9.7" fill="#7f7fa6"/>
<circle cx="538.7" cy="359.7" r="8.2" fill="#a79abf"/>
<circle cx="584.6" cy="254.0" r="9.4" fill="#a79abf"/>
<circle cx="554.7" cy="342.9" r="8.8" fill="#a79abf"/>
<circle cx="477.2" cy="277.9" r="10.4" fill="#7f7fa6"/>
<circle cx="589.8" cy="355.6" r="9.8" fill="#555a72"/>
<circle cx="596.1" cy="325.6" r="9.7" fill="#555a72"/>
<circle cx="599.0" cy="315.4" r="8.4" fill="#2c2e3d"/>
<circle cx="584.5" cy="291.1" r="11.4" fill="#7f7fa6"/>
<circle cx="541.8" cy="268.3" r="11.1" fill="#555a72"/>
<circle cx="542.9" cy="258.1" r="9.6" fill="#7f7fa6"/>
<circle cx="550.2" cy="232.7" r="9.9" fill="#7f7fa6"/>
<circle cx="507.0" cy="260.2" r="13.8" fill="#555a72"/>
<circle cx="530.0" cy="246.6" r="9.1" fill="#555a72"/>
<circle cx="505.1" cy="254.5" r="8.3" fill="#2c2e3d"/>
<circle cx="559.4" cy="239.4" r="10.9" fill="#2c2e3d"/>
<circle cx="524.9" cy="274.6" r="8.2" fill="#555a72"/>
<circle cx="534.5" cy="249.8" r="10.7" fill="#2c2e3d"/>
<circle cx="532.7" cy="279.9" r="9.8" fill="#2c2e3d"/>
<circle cx="543.0" cy="243.4" r="10.1" fill="#2c2e3d"/>
<circle cx="519.6" cy="276.9" r="9.8" fill="#2c2e3d"/>
<circle cx="501.9" cy="242.5" r="12.5" fill="#2c2e3d"/>
<circle cx="535.2" cy="272.8" r="9.7" fill="#2c2e3d"/>
<circle cx="525.8" cy="257.5" r="9.2" fill="#2c2e3d"/>
<circle cx="532.1" cy="269.0" r="9.1" fill="#555a72"/>
<circle cx="530.9" cy="226.6" r="10.4" fill="#2c2e3d"/>
<circle cx="557.2" cy="245.3" r="11.2" fill="#555a72"/>
<circle cx="530.8" cy="250.3" r="8.6" fill="#555a72"/>
<circle cx="539.1" cy="256.2" r="11.5" fill="#2c2e3d"/>
<circle cx="539.6" cy="222.5" r="10.8" fill="#2c2e3d"/>
<circle cx="516.5" cy="261.4" r="9.1" fill="#555a72"/>
<circle cx="554.0" cy="255.2" r="8.7" fill="#2c2e3d"/>
<circle cx="529.9" cy="253.2" r="10.3" fill="#555a72"/>
<circle cx="532.2" cy="279.8" r="9.4" fill="#2c2e3d"/>
<circle cx="548.2" cy="226.4" r="8.6" fill="#555a72"/>
<circle cx="531.6" cy="269.4" r="10.8" fill="#2c2e3d"/>
<circle cx="548.9" cy="239.4" r="9.2" fill="#2c2e3d"/>
<circle cx="506.9" cy="236.0" r="11.2" fill="#555a72"/>
<circle cx="535.8" cy="240.9" r="9.3" fill="#2c2e3d"/>
<circle cx="535.8" cy="277.6" r="10.2" fill="#2c2e3d"/>
<circle cx="517.0" cy="273.9" r="9.1" fill="#2c2e3d"/>
<circle cx="537.2" cy="277.6" r="11.3" fill="#2c2e3d"/>
<circle cx="512.0" cy="243.4" r="8.8" fill="#2c2e3d"/>
<circle cx="506.6" cy="392.5" r="10.8" fill="#2c2e3d"/>
<circle cx="502.0" cy="350.4" r="8.7" fill="#555a72"/>
<circle cx="524.3" cy="346.9" r="9.3" fill="#2c2e3d"/>
<circle cx="513.2" cy="343.9" r="10.9" fill="#7f7fa6"/>
<circle cx="509.6" cy="354.7" r="11.2" fill="#555a72"/>
<circle cx="531.5" cy="360.5" r="10.5" fill="#555a72"/>
<circle cx="491.5" cy="356.2" r="8.4" fill="#2c2e3d"/>
<circle cx="516.0" cy="390.2" r="8.6" fill="#2c2e3d"/>
<circle cx="509.7" cy="383.3" r="11.4" fill="#2c2e3d"/>
<circle cx="520.3" cy="353.6" r="8.5" fill="#2c2e3d"/>
<circle cx="534.5" cy="355.6" r="10.1" fill="#2c2e3d"/>
<circle cx="510.8" cy="354.8" r="8.7" fill="#2c2e3d"/>
<circle cx="520.9" cy="372.6" r="10.7" fill="#555a72"/>
<circle cx="511.9" cy="379.5" r="9.1" fill="#2c2e3d"/>
<circle cx="512.3" cy="345.2" r="13.8" fill="#555a72"/>
<circle cx="507.5" cy="379.8" r="12.5" fill="#7f7fa6"/>
<circle cx="510.3" cy="370.0" r="8.2" fill="#555a72"/>
<circle cx="506.8" cy="353.6" r="10.5" fill="#555a72"/>
<circle cx="504.8" cy="364.2" r="10.7" fill="#2c2e3d"/>
<circle cx="494.3" cy="356.6" r="10.4" fill="#7f7fa6"/>
<circle cx="531.5" cy="361.1" r="10.3" fill="#2c2e3d"/>
<circle cx="533.9" cy="354.9" r="9.2" fill="#2c2e3d"/>
<circle cx="529.0" cy="350.9" r="11.2" fill="#7f7fa6"/>
<circle cx="536.4" cy="382.8" r="8.1" fill="#7f7fa6"/>
<circle cx="496.3" cy="351.9" r="9.3" fill="#555a72"/>
<circle cx="487.7" cy="358.7" r="8.6" fill="#2c2e3d"/>
<circle cx="543.8" cy="374.2" r="8.9" fill="#2c2e3d"/>
<circle cx="515.4" cy="381.1" r="10.0" fill="#555a72"/>
<circle cx="543.4" cy="386.6" r="8.2" fill="#555a72"/>
<circle cx="544.8" cy="376.4" r="8.9" fill="#7f7fa6"/>
<circle cx="465.0" cy="327.5" r="11.2" fill="#a79abf"/>
<circle cx="522.5" cy="285.2" r="9.4" fill="#a79abf"/>
<circle cx="522.3" cy="329.7" r="8.3" fill="#a79abf"/>
<circle cx="540.2" cy="305.4" r="10.4" fill="#7f7fa6"/>
<circle cx="521.5" cy="329.8" r="9.6" fill="#a79abf"/>
<circle cx="459.9" cy="321.9" r="9.8" fill="#a79abf"/>
<circle cx="518.2" cy="328.3" r="9.9" fill="#a79abf"/>
<circle cx="542.2" cy="318.3" r="8.9" fill="#a79abf"/>
<circle cx="460.3" cy="301.5" r="8.7" fill="#a79abf"/>
<circle cx="482.9" cy="288.2" r="10.3" fill="#a79abf"/>
<circle cx="476.4" cy="294.5" r="9.6" fill="#a79abf"/>
<circle cx="539.2" cy="301.1" r="11.1" fill="#a79abf"/>
<circle cx="467.8" cy="313.8" r="10.9" fill="#a79abf"/>
<circle cx="504.3" cy="325.6" r="10.3" fill="#a79abf"/>
<circle cx="508.9" cy="307.7" r="10.9" fill="#7f7fa6"/>
<circle cx="465.3" cy="297.4" r="8.7" fill="#a79abf"/>
<circle cx="460.4" cy="296.9" r="10.5" fill="#a79abf"/>
<circle cx="495.3" cy="286.8" r="9.6" fill="#a79abf"/>
<circle cx="487.7" cy="290.1" r="10.0" fill="#a79abf"/>
<circle cx="462.6" cy="323.0" r="12.5" fill="#7f7fa6"/>
<circle cx="464.8" cy="309.3" r="8.7" fill="#a79abf"/>
<circle cx="503.9" cy="280.5" r="10.3" fill="#7f7fa6"/>
<circle cx="511.5" cy="336.1" r="8.9" fill="#a79abf"/>
<circle cx="477.1" cy="288.3" r="10.7" fill="#a79abf"/>
<circle cx="530.6" cy="297.8" r="10.2" fill="#a79abf"/>
<circle cx="586.8" cy="322.8" r="10.6" fill="#2c2e3d"/>
<circle cx="597.9" cy="274.8" r="9.1" fill="#2c2e3d"/>
<circle cx="600.8" cy="304.1" r="10.9" fill="#7f7fa6"/>
<circle cx="614.7" cy="310.3" r="10.5" fill="#2c2e3d"/>
<circle cx="609.6" cy="300.0" r="11.2" fill="#7f7fa6"/>
<circle cx="615.7" cy="266.4" r="8.6" fill="#555a72"/>
<circle cx="606.0" cy="337.6" r="8.1" fill="#a79abf"/>
<circle cx="605.8" cy="275.3" r="10.0" fill="#555a72"/>
<circle cx="633.9" cy="328.4" r="9.5" fill="#2c2e3d"/>
<circle cx="594.8" cy="312.9" r="9.5" fill="#555a72"/>
<circle cx="598.7" cy="295.1" r="10.9" fill="#555a72"/>
<circle cx="595.7" cy="295.5" r="9.2" fill="#555a72"/>
<circle cx="597.7" cy="296.8" r="11.2" fill="#2c2e3d"/>
<circle cx="642.3" cy="309.6" r="8.2" fill="#2c2e3d"/>
<circle cx="622.4" cy="308.7" r="12.5" fill="#7f7fa6"/>
<circle cx="641.7" cy="298.5" r="11.2" fill="#555a72"/>
<circle cx="599.0" cy="330.8" r="8.7" fill="#a79abf"/>
<circle cx="622.5" cy="295.8" r="10.3" fill="#a79abf"/>
<circle cx="601.0" cy="306.5" r="9.9" fill="#7f7fa6"/>
<circle cx="614.5" cy="291.7" r="8.6" fill="#7f7fa6"/>
<circle cx="637.3" cy="303.8" r="13.8" fill="#7f7fa6"/>
<circle cx="592.7" cy="267.6" r="8.9" fill="#555a72"/>
<circle cx="609.2" cy="304.3" r="12.5" fill="#7f7fa6"/>
<circle cx="582.9" cy="301.1" r="8.3" fill="#555a72"/>
<circle cx="603.6" cy="265.9" r="13.8" fill="#7f7fa6"/>
<circle cx="613.5" cy="317.2" r="8.4" fill="#555a72"/>
<circle cx="602.4" cy="273.7" r="12.5" fill="#2c2e3d"/>
<circle cx="629.2" cy="270.9" r="8.2" fill="#555a72"/>
<circle cx="591.6" cy="289.8" r="10.1" fill="#a79abf"/>
<circle cx="589.9" cy="284.0" r="9.5" fill="#555a72"/>
<circle cx="666.6" cy="215.9" r="12.5" fill="#555a72"/>
<circle cx="580.2" cy="227.1" r="10.7" fill="#7f7fa6"/>
<circle cx="641.7" cy="234.3" r="9.3" fill="#a79abf"/>
<circle cx="632.5" cy="169.0" r="10.8" fill="#7f7fa6"/>
<circle cx="641.0" cy="182.9" r="9.6" fill="#a79abf"/>
<circle cx="660.6" cy="212.3" r="8.1" fill="#a79abf"/>
<circle cx="573.3" cy="232.1" r="9.9" fill="#a79abf"/>
<circle cx="594.8" cy="221.8" r="8.5" fill="#7f7fa6"/>
<circle cx="665.0" cy="208.5" r="10.8" fill="#555a72"/>
<circle cx="601.1" cy="173.6" r="11.1" fill="#7f7fa6"/>
<circle cx="581.9" cy="233.6" r="9.4" fill="#555a72"/>
<circle cx="617.1" cy="174.2" r="9.4" fill="#555a72"/>
<circle cx="664.8" cy="215.0" r="9.2" fill="#a79abf"/>
<circle cx="586.0" cy="240.5" r="8.2" fill="#7f7fa6"/>
<circle cx="580.4" cy="192.5" r="12.5" fill="#7f7fa6"/>
<circle cx="606.5" cy="191.8" r="12.5" fill="#a79abf"/>
<circle cx="615.1" cy="248.8" r="8.5" fill="#a79abf"/>
<circle cx="640.5" cy="184.5" r="9.8" fill="#7f7fa6"/>
<circle cx="591.4" cy="211.2" r="11.3" fill="#7f7fa6"/>
<circle cx="627.3" cy="229.4" r="10.7" fill="#555a72"/>
<circle cx="636.0" cy="217.1" r="11.2" fill="#7f7fa6"/>
<circle cx="655.4" cy="238.6" r="10.4" fill="#2c2e3d"/>
<circle cx="596.5" cy="228.7" r="9.8" fill="#555a72"/>
<circle cx="636.2" cy="191.5" r="9.4" fill="#7f7fa6"/>
<circle cx="567.3" cy="190.3" r="11.5" fill="#7f7fa6"/>
<circle cx="617.8" cy="193.1" r="8.8" fill="#7f7fa6"/>
<circle cx="601.9" cy="172.2" r="13.8" fill="#a79abf"/>
<circle cx="614.4" cy="200.1" r="9.1" fill="#7f7fa6"/>
<circle cx="596.2" cy="187.8" r="9.9" fill="#555a72"/>
<circle cx="672.5" cy="190.6" r="12.5" fill="#2c2e3d"/>
<circle cx="629.7" cy="248.9" r="10.7" fill="#7f7fa6"/>
<circle cx="611.4" cy="238.1" r="9.7" fill="#a79abf"/>
<circle cx="667.9" cy="184.8" r="8.1" fill="#7f7fa6"/>
<circle cx="579.7" cy="184.1" r="8.8" fill="#555a72"/>
<circle cx="607.9" cy="178.0" r="13.8" fill="#555a72"/>
<circle cx="637.8" cy="177.7" r="11.4" fill="#555a72"/>
<circle cx="632.1" cy="167.1" r="11.1" fill="#555a72"/>
<circle cx="600.9" cy="172.3" r="9.9" fill="#a79abf"/>
<circle cx="665.1" cy="217.6" r="8.7" fill="#2c2e3d"/>
<circle cx="599.2" cy="227.4" r="9.4" fill="#555a72"/>
<circle cx="641.5" cy="190.4" r="9.4" fill="#a79abf"/>
<circle cx="565.5" cy="216.4" r="9.7" fill="#7f7fa6"/>
<circle cx="631.7" cy="183.1" r="10.0" fill="#7f7fa6"/>
<circle cx="671.0" cy="210.8" r="8.2" fill="#2c2e3d"/>
<circle cx="633.7" cy="225.2" r="8.3" fill="#7f7fa6"/>
<circle cx="578.7" cy="172.8" r="8.3" fill="#555a72"/>
<circle cx="657.7" cy="198.1" r="10.1" fill="#7f7fa6"/>
<circle cx="626.6" cy="219.2" r="9.2" fill="#555a72"/>
<circle cx="648.9" cy="183.2" r="10.7" fill="#555a72"/>
<circle cx="653.1" cy="187.8" r="11.4" fill="#555a72"/>
<circle cx="686.3" cy="220.2" r="11.3" fill="#7f7fa6"/>
<circle cx="688.1" cy="236.8" r="9.3" fill="#555a72"/>
<circle cx="710.5" cy="212.0" r="8.5" fill="#a79abf"/>
<circle cx="654.8" cy="230.1" r="8.6" fill="#7f7fa6"/>
<circle cx="725.2" cy="224.1" r="8.6" fill="#a79abf"/>
<circle cx="709.0" cy="248.5" r="8.1" fill="#a79abf"/>
<circle cx="712.2" cy="218.7" r="9.7" fill="#555a72"/>
<circle cx="700.9" cy="223.1" r="9.6" fill="#555a72"/>
<circle cx="675.9" cy="247.8" r="10.6" fill="#a79abf"/>
<circle cx="655.2" cy="236.4" r="13.8" fill="#7f7fa6"/>
<circle cx="654.8" cy="232.8" r="11.2" fill="#7f7fa6"/>
<circle cx="725.6" cy="235.6" r="8.9" fill="#7f7fa6"/>
<circle cx="671.0" cy="227.1" r="8.7" fill="#7f7fa6"/>
<circle cx="710.7" cy="236.3" r="11.5" fill="#7f7fa6"/>
<circle cx="667.3" cy="233.1" r="13.8" fill="#a79abf"/>
<circle cx="719.5" cy="219.8" r="10.9" fill="#555a72"/>
<circle cx="672.6" cy="222.6" r="11.1" fill="#7f7fa6"/>
<circle cx="662.9" cy="238.0" r="9.6" fill="#7f7fa6"/>
<circle cx="755" cy="215" r="10.0" fill="#2c2e3d"/>
<circle cx="775" cy="212" r="10.0" fill="#555a72"/>
<circle cx="765" cy="225" r="8.8" fill="#7f7fa6"/>
<circle cx="720" cy="222" r="10.0" fill="#a79abf"/>
<circle cx="705" cy="210" r="8.8" fill="#a79abf"/>
<circle cx="220" cy="370" r="12.5" fill="#7f7fa6"/>
<circle cx="228" cy="378" r="10.0" fill="#a79abf"/>
<circle cx="185" cy="400" r="11.2" fill="#555a72"/>
<circle cx="195" cy="403" r="8.8" fill="#7f7fa6"/>
<circle cx="268" cy="410" r="12.5" fill="#7f7fa6"/>
<circle cx="262" cy="405" r="8.8" fill="#555a72"/>
<circle cx="292" cy="380" r="10.0" fill="#a79abf"/>
<circle cx="305" cy="385" r="10.0" fill="#555a72"/>
<circle cx="318" cy="383" r="10.0" fill="#7f7fa6"/>
<circle cx="332" cy="380" r="10.0" fill="#a79abf"/>
<circle cx="345" cy="388" r="10.0" fill="#555a72"/>
<circle cx="360" cy="395" r="10.0" fill="#7f7fa6"/>
<circle cx="368" cy="410" r="10.0" fill="#7f7fa6"/>
<circle cx="362" cy="425" r="8.8" fill="#555a72"/>
<circle cx="350" cy="440" r="12.5" fill="#555a72"/>
<circle cx="352" cy="448" r="8.8" fill="#7f7fa6"/>
<circle cx="413" cy="470" r="15.0" fill="#7f7fa6"/>
<circle cx="408" cy="465" r="10.0" fill="#555a72"/>
<circle cx="420" cy="462" r="7.5" fill="#2c2e3d"/>
<circle cx="520" cy="460" r="12.5" fill="#a79abf"/>
<circle cx="512" cy="462" r="10.0" fill="#555a72"/>
<circle cx="530" cy="458" r="8.8" fill="#a79abf"/>
<circle cx="520" cy="555" r="13.8" fill="#7f7fa6"/>
<circle cx="516" cy="560" r="8.8" fill="#555a72"/>
<circle cx="590" cy="425" r="11.2" fill="#7f7fa6"/>
<circle cx="580" cy="432" r="10.0" fill="#555a72"/>
<circle cx="600" cy="410" r="10.0" fill="#7f7fa6"/>
<circle cx="225" cy="165" r="10.0" fill="#2c2e3d"/>
<circle cx="232" cy="195" r="11.2" fill="#7f7fa6"/>
<circle cx="262" cy="180" r="10.0" fill="#2c2e3d"/>
<circle cx="462" cy="160" r="11.2" fill="#7f7fa6"/>
<circle cx="528" cy="188" r="10.0" fill="#2c2e3d"/>
<circle cx="322" cy="158" r="11.2" fill="#7f7fa6"/>
</g></g>
<g transform="translate(-58.9 89.8) scale(0.49)">
<use href="#spain" fill="none" stroke="#55565a" stroke-width="1.6" stroke-linejoin="round"/>
<use href="#isl" fill="none" stroke="#333" stroke-width="1.5"/>
<use href="#others_s" stroke="#333" stroke-width="1.6" stroke-linejoin="round"/>
</g></g>
<g id="map2">
<rect x="628.4" y="167.3" width="210.3" height="166" fill="none" stroke="#332f2d" stroke-width="1.05"/>
<g transform="translate(522.5 86.9) scale(0.49)">
<use href="#spain" fill="#a8a9ab"/>
</g>
<g clip-path="url(#c2)"><g transform="translate(650 180) scale(0.19142)">
<path d="M240.0,135.0 L290.0,120.0 L340.0,125.0 L380.0,120.0 L430.0,125.0" fill="none" stroke="#a79abf" stroke-width="36.0" stroke-linecap="round" stroke-linejoin="round"/>
<ellipse cx="490" cy="185" rx="18" ry="18" fill="#a79abf"/>
<ellipse cx="500" cy="240" rx="18" ry="18" fill="#a79abf"/>
<ellipse cx="640" cy="280" rx="15" ry="15" fill="#a79abf"/>
<path d="M230.0,290.0 L290.0,300.0 L350.0,290.0 L400.0,270.0" fill="none" stroke="#a79abf" stroke-width="42.0" stroke-linecap="round" stroke-linejoin="round"/>
<path d="M255.0,340.0 L285.0,370.0" fill="none" stroke="#a79abf" stroke-width="28.8" stroke-linecap="round" stroke-linejoin="round"/>
<path d="M580.0,150.0 L640.0,160.0 L700.0,165.0 L750.0,180.0 L790.0,180.0" fill="none" stroke="#a79abf" stroke-width="43.2" stroke-linecap="round" stroke-linejoin="round"/>
<ellipse cx="590" cy="300" rx="55" ry="65" fill="#a79abf"/>
<path d="M390.0,590.0 L430.0,530.0 L470.0,590.0 L440.0,612.0Z" fill="#a79abf" stroke="#a79abf" stroke-width="8" stroke-linejoin="round"/>
<ellipse cx="280" cy="635" rx="22" ry="13" fill="#a79abf"/>
<ellipse cx="260" cy="150" rx="28.7" ry="17.2" fill="#7f7fa6"/>
<ellipse cx="370" cy="120" rx="17.2" ry="13.8" fill="#7f7fa6"/>
<ellipse cx="415" cy="132" rx="14.9" ry="20.7" fill="#7f7fa6"/>
<circle cx="565" cy="210" r="23.0" fill="#7f7fa6"/>
<circle cx="565" cy="210" r="9" fill="#a79abf"/>
<ellipse cx="240" cy="290" rx="25.3" ry="17.2" fill="#7f7fa6"/>
<ellipse cx="360" cy="270" rx="23.0" ry="16.1" fill="#7f7fa6"/>
<path d="M258.0,340.0 L280.0,362.0" fill="none" stroke="#7f7fa6" stroke-width="16.8" stroke-linecap="round" stroke-linejoin="round"/>
<ellipse cx="690" cy="165" rx="20.7" ry="16.1" fill="#7f7fa6"/>
<ellipse cx="735" cy="185" rx="16.1" ry="13.8" fill="#7f7fa6"/>
<ellipse cx="480" cy="395" rx="13.8" ry="13.8" fill="#7f7fa6"/>
<path d="M530.0,270.0 L560.0,300.0 L600.0,300.0 L590.0,330.0" fill="none" stroke="#7f7fa6" stroke-width="16.8" stroke-linecap="round" stroke-linejoin="round"/>
<ellipse cx="600" cy="360" rx="16.1" ry="16.1" fill="#7f7fa6"/>
<ellipse cx="630" cy="315" rx="13.8" ry="16.1" fill="#7f7fa6"/>
<ellipse cx="430" cy="545" rx="20.7" ry="23.0" fill="#7f7fa6"/>
<ellipse cx="285" cy="635" rx="13.8" ry="10.3" fill="#7f7fa6"/>
<ellipse cx="285" cy="120" rx="20.7" ry="16.1" fill="#555a72"/>
<ellipse cx="305" cy="285" rx="25.3" ry="16.1" fill="#555a72"/>
<ellipse cx="290" cy="368" rx="17.2" ry="11.5" fill="#555a72"/>
<ellipse cx="625" cy="170" rx="17.2" ry="13.8" fill="#555a72"/>
<circle cx="710" cy="180" r="11.5" fill="#555a72"/>
<circle cx="730" cy="190" r="9.2" fill="#555a72"/>
<ellipse cx="400" cy="573" rx="23.0" ry="11.5" fill="#555a72"/>
<ellipse cx="460" cy="573" rx="17.2" ry="13.8" fill="#555a72"/>
<path d="M525.0,270.0 L545.0,295.0" fill="none" stroke="#555a72" stroke-width="16.8" stroke-linecap="round" stroke-linejoin="round"/>
<ellipse cx="520" cy="160" rx="11.5" ry="9.2" fill="#555a72"/>
<ellipse cx="570" cy="150" rx="11.5" ry="9.2" fill="#555a72"/>
<ellipse cx="342" cy="122" rx="13.8" ry="9.2" fill="#2c2e3d"/>
<path d="M235.0,155.0 L220.0,175.0" fill="none" stroke="#2c2e3d" stroke-width="26.4" stroke-linecap="round" stroke-linejoin="round"/>
<ellipse cx="462" cy="182" rx="13.8" ry="17.2" fill="#2c2e3d"/>
<path d="M410.0,235.0 L440.0,225.0 L460.0,250.0 L465.0,270.0 L440.0,280.0 L420.0,260.0Z" fill="#2c2e3d" stroke="#2c2e3d" stroke-width="8" stroke-linejoin="round"/>
<ellipse cx="590" cy="158" rx="16.1" ry="11.5" fill="#2c2e3d"/>
<path d="M655.0,185.0 L685.0,200.0" fill="none" stroke="#2c2e3d" stroke-width="26.4" stroke-linecap="round" stroke-linejoin="round"/>
<ellipse cx="702" cy="155" rx="11.5" ry="16.1" fill="#2c2e3d"/>
<circle cx="535" cy="260" r="13.8" fill="#2c2e3d"/>
<ellipse cx="575" cy="305" rx="18.4" ry="13.8" fill="#2c2e3d"/>
<ellipse cx="548" cy="337" rx="28.7" ry="14.9" fill="#2c2e3d"/>
<circle cx="495" cy="170" r="5.8" fill="#2c2e3d"/>
</g></g>
<g transform="translate(522.5 86.9) scale(0.49)">
<use href="#spain" fill="none" stroke="#55565a" stroke-width="1.6" stroke-linejoin="round"/>
<use href="#isl" fill="none" stroke="#333" stroke-width="1.5"/>
<use href="#others_s" stroke="#333" stroke-width="1.6" stroke-linejoin="round"/>
</g></g>
<g id="map3">
<rect x="42.6" y="427.2" width="210.4" height="166.2" fill="none" stroke="#332f2d" stroke-width="1.05"/>
<g transform="translate(-54.5 339.9) scale(0.49)">
<use href="#spain" fill="#a8a9ab"/>
</g>
<g clip-path="url(#c3)"><g transform="translate(70 432) scale(0.19142)">
<path d="M185.0,385.0 L230.0,330.0 L260.0,300.0 L320.0,300.0 L370.0,280.0 L440.0,275.0 L500.0,320.0 L580.0,330.0 L630.0,350.0 L640.0,400.0 L620.0,440.0 L640.0,470.0 L600.0,520.0 L560.0,540.0 L540.0,590.0 L500.0,620.0 L440.0,610.0 L380.0,625.0 L330.0,640.0 L290.0,670.0 L250.0,630.0 L230.0,590.0 L180.0,560.0 L200.0,500.0 L190.0,450.0 L200.0,420.0Z" fill="#a79abf" stroke="#a79abf" stroke-width="8" stroke-linejoin="round"/>
<path d="M95.0,100.0 L160.0,60.0 L230.0,70.0 L300.0,85.0 L340.0,90.0 L370.0,110.0 L330.0,140.0 L280.0,160.0 L250.0,190.0 L200.0,200.0 L150.0,190.0 L120.0,160.0 L100.0,130.0Z" fill="#a79abf" stroke="#a79abf" stroke-width="8" stroke-linejoin="round"/>
<path d="M585.0,160.0 L620.0,175.0 L650.0,190.0" fill="none" stroke="#a79abf" stroke-width="30" stroke-linecap="round" stroke-linejoin="round"/>
<path d="M550.0,150.0 L548.0,200.0 L555.0,240.0" fill="none" stroke="#a79abf" stroke-width="22" stroke-linecap="round" stroke-linejoin="round"/>
<path d="M700.0,180.0 L780.0,170.0 L830.0,185.0 L790.0,220.0 L740.0,245.0 L720.0,230.0Z" fill="#a79abf" stroke="#a79abf" stroke-width="8" stroke-linejoin="round"/>
<circle cx="381.0" cy="487.9" r="9.9" fill="#555a72"/>
<circle cx="403.1" cy="496.2" r="10.0" fill="#7f7fa6"/>
<circle cx="452.0" cy="557.9" r="9.2" fill="#7f7fa6"/>
<circle cx="477.4" cy="332.6" r="11.9" fill="#555a72"/>
<circle cx="461.6" cy="504.7" r="8.1" fill="#7f7fa6"/>
<circle cx="411.4" cy="337.9" r="9.0" fill="#7f7fa6"/>
<circle cx="212.0" cy="459.2" r="11.4" fill="#7f7fa6"/>
<circle cx="407.6" cy="512.1" r="10.6" fill="#7f7fa6"/>
<circle cx="382.9" cy="403.4" r="12.0" fill="#555a72"/>
<circle cx="536.1" cy="532.3" r="8.9" fill="#7f7fa6"/>
<circle cx="315.6" cy="341.1" r="9.6" fill="#555a72"/>
<circle cx="538.6" cy="436.0" r="11.4" fill="#555a72"/>
<circle cx="564.1" cy="461.0" r="9.6" fill="#555a72"/>
<circle cx="229.2" cy="508.8" r="9.1" fill="#555a72"/>
<circle cx="234.9" cy="419.8" r="11.0" fill="#555a72"/>
<circle cx="247.2" cy="393.9" r="8.2" fill="#7f7fa6"/>
<circle cx="518.8" cy="373.3" r="9.8" fill="#7f7fa6"/>
<circle cx="276.3" cy="539.6" r="10.6" fill="#7f7fa6"/>
<circle cx="246.6" cy="446.2" r="9.1" fill="#7f7fa6"/>
<circle cx="321.7" cy="585.5" r="9.6" fill="#7f7fa6"/>
<circle cx="541.8" cy="512.6" r="12.0" fill="#7f7fa6"/>
<circle cx="285.3" cy="397.5" r="9.3" fill="#555a72"/>
<circle cx="318.5" cy="342.0" r="10.3" fill="#7f7fa6"/>
<circle cx="297.2" cy="500.4" r="9.8" fill="#7f7fa6"/>
<circle cx="583.7" cy="465.1" r="11.5" fill="#7f7fa6"/>
<circle cx="273.1" cy="366.2" r="11.3" fill="#555a72"/>
<circle cx="299.8" cy="376.9" r="11.8" fill="#7f7fa6"/>
<circle cx="552.9" cy="501.1" r="8.4" fill="#7f7fa6"/>
<circle cx="295.4" cy="531.4" r="11.3" fill="#7f7fa6"/>
<circle cx="438.6" cy="408.0" r="10.9" fill="#7f7fa6"/>
<circle cx="423.7" cy="575.7" r="9.1" fill="#7f7fa6"/>
<circle cx="378.3" cy="338.1" r="9.5" fill="#7f7fa6"/>
<circle cx="428.9" cy="359.5" r="11.6" fill="#7f7fa6"/>
<circle cx="476.5" cy="495.3" r="8.1" fill="#7f7fa6"/>
<circle cx="208.5" cy="510.9" r="10.9" fill="#7f7fa6"/>
<circle cx="230.1" cy="483.8" r="11.6" fill="#7f7fa6"/>
<circle cx="494.8" cy="531.1" r="11.7" fill="#555a72"/>
<circle cx="340.7" cy="525.5" r="11.5" fill="#555a72"/>
<circle cx="366.9" cy="557.2" r="10.3" fill="#555a72"/>
<circle cx="450.0" cy="434.7" r="10.4" fill="#7f7fa6"/>
<circle cx="232.1" cy="511.8" r="11.5" fill="#555a72"/>
<circle cx="491.3" cy="436.5" r="10.3" fill="#7f7fa6"/>
<circle cx="376.2" cy="571.5" r="11.0" fill="#7f7fa6"/>
<circle cx="211.9" cy="500.4" r="8.9" fill="#7f7fa6"/>
<circle cx="479.3" cy="469.2" r="11.7" fill="#7f7fa6"/>
<circle cx="320.4" cy="523.4" r="8.7" fill="#7f7fa6"/>
<circle cx="562.3" cy="518.0" r="11.6" fill="#7f7fa6"/>
<circle cx="330.8" cy="519.8" r="9.7" fill="#7f7fa6"/>
<circle cx="552.1" cy="435.3" r="9.3" fill="#7f7fa6"/>
<circle cx="254.5" cy="468.9" r="11.4" fill="#555a72"/>
<circle cx="484.5" cy="605.0" r="8.7" fill="#7f7fa6"/>
<circle cx="380.3" cy="402.5" r="9.7" fill="#7f7fa6"/>
<circle cx="450.3" cy="468.2" r="11.4" fill="#7f7fa6"/>
<circle cx="592.8" cy="455.7" r="8.1" fill="#7f7fa6"/>
<circle cx="483.5" cy="491.2" r="11.2" fill="#7f7fa6"/>
<circle cx="381.9" cy="327.4" r="8.9" fill="#555a72"/>
<circle cx="451.7" cy="453.9" r="10.6" fill="#7f7fa6"/>
<circle cx="473.8" cy="379.8" r="8.7" fill="#7f7fa6"/>
<circle cx="204.3" cy="461.7" r="8.7" fill="#7f7fa6"/>
<circle cx="308.9" cy="423.7" r="10.1" fill="#7f7fa6"/>
<circle cx="445.8" cy="546.9" r="11.2" fill="#7f7fa6"/>
<circle cx="573.0" cy="536.7" r="9.8" fill="#7f7fa6"/>
<circle cx="450.2" cy="593.0" r="10.3" fill="#7f7fa6"/>
<circle cx="551.7" cy="559.0" r="9.9" fill="#555a72"/>
<circle cx="460.5" cy="381.5" r="11.3" fill="#7f7fa6"/>
<circle cx="456.6" cy="535.3" r="11.6" fill="#7f7fa6"/>
<circle cx="414.8" cy="557.2" r="11.6" fill="#7f7fa6"/>
<circle cx="542.3" cy="424.6" r="9.8" fill="#7f7fa6"/>
<circle cx="420.1" cy="550.5" r="8.1" fill="#7f7fa6"/>
<circle cx="519.9" cy="371.9" r="11.2" fill="#7f7fa6"/>
<circle cx="333.6" cy="460.2" r="10.1" fill="#555a72"/>
<circle cx="428.1" cy="418.7" r="8.3" fill="#2c2e3d"/>
<circle cx="268.7" cy="424.8" r="10.2" fill="#7f7fa6"/>
<circle cx="360.6" cy="424.1" r="9.7" fill="#555a72"/>
<circle cx="288.6" cy="398.6" r="10.7" fill="#555a72"/>
<circle cx="265.8" cy="483.1" r="9.6" fill="#2c2e3d"/>
<circle cx="346.1" cy="366.2" r="9.5" fill="#555a72"/>
<circle cx="353.2" cy="335.0" r="9.5" fill="#2c2e3d"/>
<circle cx="308.1" cy="474.2" r="9.5" fill="#555a72"/>
<circle cx="372.0" cy="341.9" r="9.2" fill="#555a72"/>
<circle cx="279.2" cy="415.2" r="9.3" fill="#7f7fa6"/>
<circle cx="324.8" cy="387.1" r="9.9" fill="#7f7fa6"/>
<circle cx="262.7" cy="370.9" r="9.0" fill="#555a72"/>
<circle cx="298.2" cy="441.6" r="10.2" fill="#7f7fa6"/>
<circle cx="247.0" cy="421.9" r="8.6" fill="#7f7fa6"/>
<circle cx="336.7" cy="408.6" r="9.2" fill="#7f7fa6"/>
<circle cx="336.5" cy="358.8" r="9.9" fill="#7f7fa6"/>
<circle cx="360.5" cy="425.3" r="9.8" fill="#555a72"/>
<circle cx="408.5" cy="371.9" r="10.4" fill="#555a72"/>
<circle cx="418.6" cy="386.9" r="10.8" fill="#7f7fa6"/>
<circle cx="272.7" cy="460.8" r="8.3" fill="#7f7fa6"/>
<circle cx="403.1" cy="405.9" r="8.4" fill="#555a72"/>
<circle cx="308.6" cy="453.3" r="8.6" fill="#7f7fa6"/>
<circle cx="370.1" cy="494.0" r="8.3" fill="#2c2e3d"/>
<circle cx="331.2" cy="466.5" r="10.1" fill="#555a72"/>
<circle cx="231.4" cy="131.6" r="7.4" fill="#555a72"/>
<circle cx="150.6" cy="97.4" r="10.0" fill="#555a72"/>
<circle cx="211.7" cy="159.1" r="8.4" fill="#7f7fa6"/>
<circle cx="223.4" cy="122.3" r="7.0" fill="#555a72"/>
<circle cx="264.2" cy="167.9" r="8.4" fill="#7f7fa6"/>
<circle cx="272.7" cy="119.6" r="7.5" fill="#7f7fa6"/>
<circle cx="222.8" cy="76.7" r="9.4" fill="#2c2e3d"/>
<circle cx="265.0" cy="169.7" r="8.2" fill="#555a72"/>
<circle cx="241.9" cy="130.5" r="9.4" fill="#2c2e3d"/>
<circle cx="166.8" cy="175.2" r="9.3" fill="#555a72"/>
<circle cx="289.2" cy="119.6" r="9.6" fill="#2c2e3d"/>
<circle cx="262.9" cy="159.4" r="8.2" fill="#555a72"/>
<circle cx="269.0" cy="82.8" r="8.4" fill="#7f7fa6"/>
<circle cx="250.5" cy="143.6" r="9.8" fill="#7f7fa6"/>
<circle cx="256.5" cy="112.2" r="8.7" fill="#555a72"/>
<circle cx="227.3" cy="117.9" r="8.9" fill="#2c2e3d"/>
<circle cx="264.3" cy="158.8" r="7.1" fill="#2c2e3d"/>
<circle cx="245.4" cy="156.3" r="8.2" fill="#7f7fa6"/>
<circle cx="192.6" cy="85.8" r="9.7" fill="#7f7fa6"/>
<circle cx="231.0" cy="130.9" r="8.7" fill="#2c2e3d"/>
<circle cx="241.5" cy="158.5" r="9.8" fill="#7f7fa6"/>
<circle cx="145.2" cy="126.9" r="8.5" fill="#7f7fa6"/>
<circle cx="615.6" cy="177.0" r="9.3" fill="#555a72"/>
<circle cx="603.7" cy="241.7" r="8.9" fill="#a79abf"/>
<circle cx="621.7" cy="237.3" r="10.1" fill="#a79abf"/>
<circle cx="551.9" cy="260.6" r="10.7" fill="#a79abf"/>
<circle cx="590.1" cy="227.3" r="8.7" fill="#555a72"/>
<circle cx="603.3" cy="282.5" r="9.4" fill="#7f7fa6"/>
<circle cx="614.5" cy="183.8" r="9.4" fill="#7f7fa6"/>
<circle cx="603.9" cy="184.9" r="10.0" fill="#7f7fa6"/>
<circle cx="593.8" cy="201.5" r="9.3" fill="#7f7fa6"/>
<circle cx="638.9" cy="233.7" r="10.9" fill="#555a72"/>
<circle cx="632.8" cy="198.6" r="10.7" fill="#a79abf"/>
<circle cx="639.8" cy="245.0" r="8.8" fill="#a79abf"/>
<circle cx="625.9" cy="237.8" r="9.9" fill="#7f7fa6"/>
<circle cx="635.5" cy="192.8" r="10.9" fill="#a79abf"/>
<ellipse cx="770" cy="200" rx="30" ry="18" fill="#7f7fa6"/>
<ellipse cx="740" cy="225" rx="18" ry="14" fill="#7f7fa6"/>
<ellipse cx="800" cy="188" rx="18" ry="10" fill="#7f7fa6"/>
<circle cx="690" cy="190" r="12.0" fill="#a79abf"/>
<circle cx="350" cy="222" r="10.8" fill="#a79abf"/>
<circle cx="430" cy="235" r="12.0" fill="#a79abf"/>
<circle cx="480" cy="210" r="12.0" fill="#a79abf"/>
<circle cx="550" cy="280" r="12.0" fill="#a79abf"/>
<circle cx="590" cy="320" r="12.0" fill="#a79abf"/>
<circle cx="380" cy="180" r="10.8" fill="#a79abf"/>
<circle cx="440" cy="130" r="14.4" fill="#a79abf"/>
<circle cx="490" cy="115" r="12.0" fill="#a79abf"/>
<circle cx="275" cy="195" r="14.4" fill="#7f7fa6"/>
<circle cx="330" cy="130" r="12.0" fill="#7f7fa6"/>
<circle cx="345" cy="155" r="9.6" fill="#7f7fa6"/>
<ellipse cx="548" cy="175" rx="14" ry="18" fill="#7f7fa6"/>
<ellipse cx="540" cy="205" rx="10" ry="12" fill="#7f7fa6"/>
<ellipse cx="515" cy="595" rx="30" ry="18" fill="#a8a9ab"/>
<ellipse cx="198" cy="470" rx="10" ry="28" fill="#a8a9ab"/>
<ellipse cx="590" cy="540" rx="20" ry="22" fill="#a8a9ab"/>
<ellipse cx="630" cy="275" rx="22" ry="32" fill="#7f7fa6"/>
<ellipse cx="650" cy="310" rx="20" ry="12" fill="#555a72"/>
<ellipse cx="640" cy="332" rx="12" ry="10" fill="#555a72"/>
<ellipse cx="660" cy="290" rx="12" ry="10" fill="#7f7fa6"/>
<path d="M370.0,430.0 L400.0,460.0 L430.0,490.0 L470.0,485.0" fill="none" stroke="#7f7fa6" stroke-width="26" stroke-linecap="round" stroke-linejoin="round"/>
<circle cx="290" cy="390" r="12.0" fill="#7f7fa6"/>
<circle cx="310" cy="410" r="12.0" fill="#7f7fa6"/>
<circle cx="440" cy="375" r="13.2" fill="#7f7fa6"/>
<circle cx="480" cy="365" r="12.0" fill="#7f7fa6"/>
<circle cx="445" cy="405" r="13.2" fill="#7f7fa6"/>
<circle cx="550" cy="420" r="12.0" fill="#7f7fa6"/>
<circle cx="575" cy="465" r="12.0" fill="#7f7fa6"/>
<circle cx="610" cy="465" r="12.0" fill="#7f7fa6"/>
<circle cx="600" cy="385" r="12.0" fill="#7f7fa6"/>
<ellipse cx="520" cy="545" rx="20" ry="15" fill="#7f7fa6"/>
<circle cx="410" cy="595" r="12.0" fill="#7f7fa6"/>
<circle cx="440" cy="600" r="9.6" fill="#a79abf"/>
<circle cx="490" cy="600" r="10.8" fill="#7f7fa6"/>
<circle cx="195" cy="545" r="13.2" fill="#7f7fa6"/>
<circle cx="230" cy="555" r="10.8" fill="#7f7fa6"/>
<circle cx="235" cy="400" r="13.2" fill="#7f7fa6"/>
<circle cx="300" cy="440" r="12.0" fill="#7f7fa6"/>
<circle cx="215" cy="575" r="10.8" fill="#7f7fa6"/>
<circle cx="250" cy="570" r="9.6" fill="#7f7fa6"/>
<circle cx="505" cy="560" r="14.4" fill="#7f7fa6"/>
<circle cx="530" cy="570" r="10.8" fill="#7f7fa6"/>
<circle cx="380" cy="525" r="12.0" fill="#7f7fa6"/>
<circle cx="310" cy="505" r="14.4" fill="#7f7fa6"/>
<circle cx="420" cy="440" r="12.0" fill="#7f7fa6"/>
<circle cx="330" cy="380" r="12.0" fill="#7f7fa6"/>
<circle cx="410" cy="390" r="10.8" fill="#7f7fa6"/>
<circle cx="240" cy="375" r="12.0" fill="#7f7fa6"/>
<circle cx="260" cy="360" r="12.0" fill="#7f7fa6"/>
<circle cx="115" cy="100" r="12.0" fill="#555a72"/>
<circle cx="155" cy="100" r="10.8" fill="#555a72"/>
<circle cx="195" cy="125" r="10.8" fill="#555a72"/>
<circle cx="285" cy="140" r="13.2" fill="#555a72"/>
<circle cx="325" cy="130" r="10.8" fill="#555a72"/>
<circle cx="210" cy="160" r="12.0" fill="#555a72"/>
<circle cx="145" cy="150" r="9.6" fill="#555a72"/>
<circle cx="245" cy="110" r="9.6" fill="#555a72"/>
<ellipse cx="440" cy="148" rx="26" ry="14" fill="#555a72"/>
<ellipse cx="465" cy="105" rx="18" ry="10" fill="#555a72"/>
<ellipse cx="545" cy="127" rx="18" ry="13" fill="#555a72"/>
<circle cx="420" cy="150" r="10.8" fill="#7f7fa6"/>
<path d="M445.0,275.0 L465.0,255.0 L485.0,270.0 L488.0,295.0 L460.0,302.0 L445.0,292.0Z" fill="#555a72" stroke="#555a72" stroke-width="8" stroke-linejoin="round"/>
<ellipse cx="775" cy="185" rx="8" ry="14" fill="#555a72"/>
<circle cx="565" cy="395" r="12.0" fill="#555a72"/>
<circle cx="515" cy="400" r="12.0" fill="#555a72"/>
<circle cx="570" cy="520" r="13.2" fill="#555a72"/>
<circle cx="490" cy="330" r="10.8" fill="#555a72"/>
<circle cx="385" cy="325" r="12.0" fill="#555a72"/>
<ellipse cx="255" cy="345" rx="12" ry="18" fill="#555a72"/>
<circle cx="285" cy="300" r="12.0" fill="#555a72"/>
<circle cx="320" cy="320" r="13.2" fill="#555a72"/>
<circle cx="270" cy="380" r="10.8" fill="#555a72"/>
<circle cx="295" cy="432" r="12.0" fill="#555a72"/>
<circle cx="410" cy="395" r="10.8" fill="#555a72"/>
<circle cx="365" cy="385" r="10.8" fill="#555a72"/>
<circle cx="620" cy="390" r="9.6" fill="#555a72"/>
<circle cx="480" cy="480" r="10.8" fill="#555a72"/>
<circle cx="175" cy="75" r="9.6" fill="#2c2e3d"/>
<circle cx="200" cy="85" r="9.6" fill="#2c2e3d"/>
<circle cx="240" cy="95" r="9.6" fill="#2c2e3d"/>
<circle cx="290" cy="105" r="8.4" fill="#2c2e3d"/>
<circle cx="260" cy="120" r="9.6" fill="#2c2e3d"/>
<circle cx="250" cy="135" r="8.4" fill="#2c2e3d"/>
<circle cx="180" cy="150" r="9.6" fill="#2c2e3d"/>
<circle cx="130" cy="165" r="8.4" fill="#2c2e3d"/>
<circle cx="175" cy="185" r="9.6" fill="#2c2e3d"/>
<circle cx="195" cy="180" r="8.4" fill="#2c2e3d"/>
<circle cx="705" cy="188" r="8.4" fill="#2c2e3d"/>
<circle cx="740" cy="220" r="7.2" fill="#2c2e3d"/>
<circle cx="355" cy="355" r="12.0" fill="#2c2e3d"/>
<circle cx="385" cy="410" r="10.8" fill="#2c2e3d"/>
<path d="M350.0,410.0 L370.0,395.0" fill="none" stroke="#2c2e3d" stroke-width="14" stroke-linecap="round" stroke-linejoin="round"/>
<circle cx="330" cy="435" r="12.0" fill="#2c2e3d"/>
<circle cx="300" cy="465" r="10.8" fill="#2c2e3d"/>
<circle cx="355" cy="480" r="10.8" fill="#2c2e3d"/>
<path d="M250.0,495.0 L270.0,510.0" fill="none" stroke="#2c2e3d" stroke-width="16" stroke-linecap="round" stroke-linejoin="round"/>
<circle cx="460" cy="470" r="12.0" fill="#2c2e3d"/>
<circle cx="520" cy="450" r="10.8" fill="#2c2e3d"/>
<circle cx="540" cy="475" r="12.0" fill="#2c2e3d"/>
<circle cx="525" cy="495" r="9.6" fill="#2c2e3d"/>
<circle cx="405" cy="560" r="9.6" fill="#2c2e3d"/>
<circle cx="440" cy="560" r="12.0" fill="#2c2e3d"/>
</g></g>
<g transform="translate(-54.5 339.9) scale(0.49)">
<use href="#spain" fill="none" stroke="#55565a" stroke-width="1.6" stroke-linejoin="round"/>
<use href="#isl" fill="none" stroke="#333" stroke-width="1.5"/>
<path d="M561.6,339.3 L568.4,335.0 L575.1,330.0 L581.9,326.6 L582.7,330.8 L588.6,333.3 L587.0,339.3 L583.6,344.3 L578.5,348.5 L573.4,345.2 L568.4,342.6 L564.2,343.5Z" fill="#a79abf" stroke="#333" stroke-width="1.5"/>
<use href="#others_s" stroke="#333" stroke-width="1.6" stroke-linejoin="round"/>
</g></g>
<g id="map4">
<rect x="628.4" y="427.2" width="210.3" height="166.2" fill="none" stroke="#332f2d" stroke-width="1.05"/>
<g transform="translate(519.8 338.9) scale(0.49)">
<use href="#spain" fill="#a8a9ab"/>
</g>
<g clip-path="url(#c4)"><g transform="translate(650 432) scale(0.19142)">
<path d="M475.0,185.0 L500.0,175.0 L520.0,190.0 L535.0,160.0 L555.0,190.0 L540.0,210.0 L560.0,235.0 L540.0,250.0 L510.0,235.0 L495.0,210.0Z" fill="#a79abf" stroke="#a79abf" stroke-width="8" stroke-linejoin="round"/>
<path d="M605.0,175.0 L630.0,165.0 L680.0,185.0 L705.0,205.0 L690.0,235.0 L660.0,220.0 L620.0,215.0Z" fill="#a79abf" stroke="#a79abf" stroke-width="8" stroke-linejoin="round"/>
<ellipse cx="250" cy="425" rx="25" ry="20" fill="#a79abf"/>
<path d="M410.0,430.0 L430.0,395.0 L465.0,390.0 L470.0,415.0 L430.0,435.0Z" fill="#a79abf" stroke="#a79abf" stroke-width="8" stroke-linejoin="round"/>
<path d="M545.0,380.0 L575.0,370.0 L600.0,395.0 L590.0,440.0 L570.0,430.0 L555.0,410.0Z" fill="#a79abf" stroke="#a79abf" stroke-width="8" stroke-linejoin="round"/>
<ellipse cx="410" cy="495" rx="20" ry="30" fill="#a79abf"/>
<path d="M270.0,545.0 L300.0,525.0 L335.0,515.0 L330.0,530.0 L290.0,555.0Z" fill="#a79abf" stroke="#a79abf" stroke-width="8" stroke-linejoin="round"/>
<ellipse cx="240" cy="578" rx="22" ry="10" fill="#a79abf"/>
<ellipse cx="180" cy="553" rx="15" ry="10" fill="#a79abf"/>
<path d="M500.0,480.0 L520.0,470.0 L540.0,495.0 L570.0,480.0 L580.0,500.0 L560.0,530.0 L520.0,550.0 L495.0,590.0 L480.0,570.0 L485.0,540.0 L505.0,520.0Z" fill="#a79abf" stroke="#a79abf" stroke-width="8" stroke-linejoin="round"/>
<path d="M510.0,225.0 L530.0,200.0" fill="none" stroke="#7f7fa6" stroke-width="18" stroke-linecap="round" stroke-linejoin="round"/>
<ellipse cx="635" cy="200" rx="18" ry="12" fill="#7f7fa6"/>
<circle cx="252" cy="430" r="10" fill="#7f7fa6"/>
<circle cx="645" cy="200" r="7" fill="#555a72"/>
<circle cx="660" cy="200" r="7" fill="#555a72"/>
<ellipse cx="685" cy="207" rx="10" ry="13" fill="#555a72"/>
<ellipse cx="243" cy="428" rx="12" ry="10" fill="#555a72"/>
<ellipse cx="388" cy="495" rx="10" ry="18" fill="#555a72"/>
<circle cx="250" cy="436" r="7" fill="#7f7fa6"/>
<circle cx="398" cy="505" r="7" fill="#7f7fa6"/>
</g></g>
<g transform="translate(519.8 338.9) scale(0.49)">
<use href="#spain" fill="none" stroke="#55565a" stroke-width="1.6" stroke-linejoin="round"/>
<use href="#isl" fill="none" stroke="#333" stroke-width="1.5"/>
<use href="#others_s" stroke="#333" stroke-width="1.6" stroke-linejoin="round"/>
</g></g>
<text class="b" x="133.4" y="628.2" textLength="57.5" lengthAdjust="spacing">Clústeres</text>
<rect x="133.1" y="647.4" width="13.9" height="13.9" fill="#be8723"/>
<rect x="133.1" y="675" width="13.9" height="13.9" fill="#fdbf1c"/>
<rect x="314.6" y="647.4" width="13.9" height="13.9" fill="#14507a"/>
<rect x="314.6" y="675" width="13.9" height="13.9" fill="#97d0dd"/>
<text class="l" x="157.7" y="659" textLength="140.7" lengthAdjust="spacing">Vaciada y marginalizada</text>
<text class="l" x="157.7" y="686.2" textLength="64.4" lengthAdjust="spacing">Erosionada</text>
<text class="l" x="340.1" y="659" textLength="119.6" lengthAdjust="spacing">Resiste, pero se seca</text>
<text class="l" x="340.1" y="686.2" textLength="70.5" lengthAdjust="spacing">Exportadora</text>
<text class="b" x="539" y="628.2" textLength="146" lengthAdjust="spacing">Índice de vulnerabilidad</text>
<rect x="539" y="647.4" width="13.9" height="13.9" fill="#a79abf"/>
<rect x="539" y="675" width="13.9" height="13.9" fill="#7f7fa6"/>
<rect x="646.8" y="647.4" width="13.9" height="13.9" fill="#555a72"/>
<rect x="646.8" y="675" width="13.9" height="13.9" fill="#2c2e3d"/>
<text class="l" x="564.6" y="659" textLength="52.7" lengthAdjust="spacing">0,14-0,35</text>
<text class="l" x="564.6" y="686.2" textLength="55.5" lengthAdjust="spacing">0,36-0,42</text>
<text class="l" x="672" y="659" textLength="56" lengthAdjust="spacing">0,43-0,49</text>
<text class="l" x="672" y="686.2" textLength="56" lengthAdjust="spacing">0,50-0,69</text>
<text x="14.5" y="722" style="font-size:13.4px" textLength="167.5" lengthAdjust="spacing">Fuente: elaboración propia.</text>
<text x="579.2" y="746.6" style="font-size:13.7px" textLength="303.2" lengthAdjust="spacing">El Observatorio Social de la Fundación “la Caixa”.</text>
</svg></body></html>
